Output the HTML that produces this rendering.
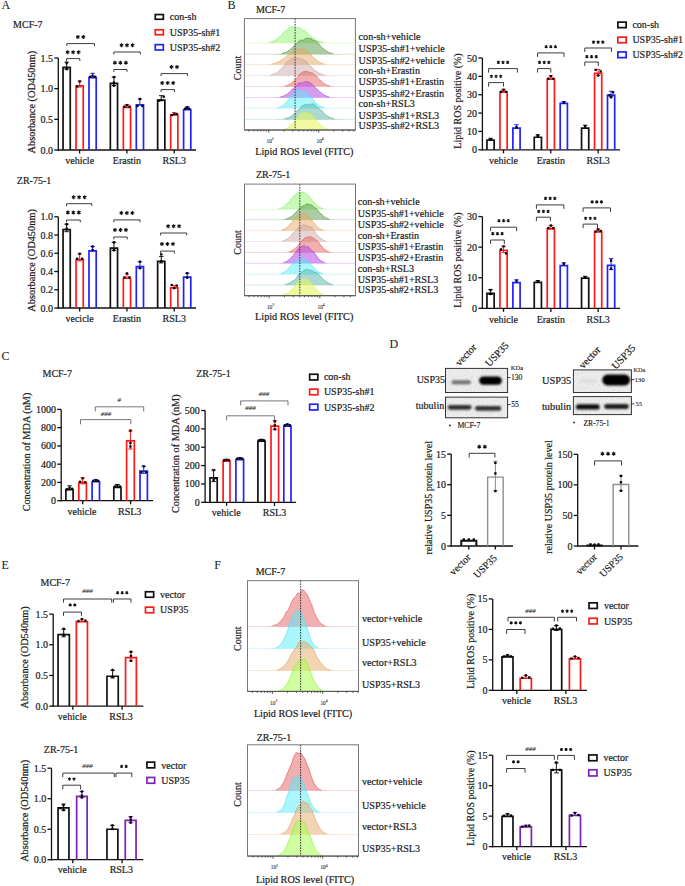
<!DOCTYPE html>
<html><head><meta charset="utf-8"><style>
html,body{margin:0;padding:0;background:#fff;}
svg{display:block;}
text{font-family:"Liberation Serif",serif;}
</style></head><body>
<svg width="685" height="886" viewBox="0 0 685 886" font-family="Liberation Serif">
<rect width="685" height="886" fill="#fff"/>
<text x="1.60" y="9.10" font-size="12" text-anchor="start" fill="#1a1a1a" stroke="#1a1a1a" stroke-width="0.050">A</text>
<text x="13.10" y="27.50" font-size="10" text-anchor="start" fill="#1a1a1a" stroke="#1a1a1a" stroke-width="0.200">MCF-7</text>
<rect x="155.25" y="14.55" width="8.10" height="4.70" fill="none" stroke="#111" stroke-width="1.7"/>
<text x="169.80" y="20.10" font-size="10" text-anchor="start" fill="#1a1a1a" stroke="#1a1a1a" stroke-width="0.200">con-sh</text>
<rect x="155.25" y="29.75" width="8.10" height="5.00" fill="none" stroke="#ff1a1a" stroke-width="1.7"/>
<text x="169.80" y="35.60" font-size="10" text-anchor="start" fill="#1a1a1a" stroke="#1a1a1a" stroke-width="0.200">USP35-sh#1</text>
<rect x="155.25" y="44.65" width="8.10" height="5.30" fill="none" stroke="#2222ff" stroke-width="1.7"/>
<text x="169.80" y="50.80" font-size="10" text-anchor="start" fill="#1a1a1a" stroke="#1a1a1a" stroke-width="0.200">USP35-sh#2</text>
<line x1="58.30" y1="58.00" x2="58.30" y2="150.65" stroke="#111" stroke-width="1.3"/>
<line x1="54.30" y1="58.00" x2="58.30" y2="58.00" stroke="#111" stroke-width="1.3"/>
<text x="53.00" y="61.50" font-size="10" text-anchor="end" fill="#1a1a1a" stroke="#1a1a1a" stroke-width="0.200">1.5</text>
<line x1="54.30" y1="88.67" x2="58.30" y2="88.67" stroke="#111" stroke-width="1.3"/>
<text x="53.00" y="92.17" font-size="10" text-anchor="end" fill="#1a1a1a" stroke="#1a1a1a" stroke-width="0.200">1.0</text>
<line x1="54.30" y1="119.34" x2="58.30" y2="119.34" stroke="#111" stroke-width="1.3"/>
<text x="53.00" y="122.84" font-size="10" text-anchor="end" fill="#1a1a1a" stroke="#1a1a1a" stroke-width="0.200">0.5</text>
<line x1="54.30" y1="150.00" x2="58.30" y2="150.00" stroke="#111" stroke-width="1.3"/>
<text x="53.00" y="153.50" font-size="10" text-anchor="end" fill="#1a1a1a" stroke="#1a1a1a" stroke-width="0.200">0.0</text>
<line x1="57.65" y1="150.00" x2="196.00" y2="150.00" stroke="#111" stroke-width="1.3"/>
<line x1="79.60" y1="150.00" x2="79.60" y2="153.60" stroke="#111" stroke-width="1.3"/>
<line x1="126.90" y1="150.00" x2="126.90" y2="153.60" stroke="#111" stroke-width="1.3"/>
<line x1="174.20" y1="150.00" x2="174.20" y2="153.60" stroke="#111" stroke-width="1.3"/>
<path d="M63.05,150.00 V67.45 H70.25 V150.00" stroke="#111" stroke-width="1.7" fill="none" stroke-linejoin="miter"/>
<line x1="66.65" y1="62.10" x2="66.65" y2="69.10" stroke="#111" stroke-width="1.0"/>
<line x1="64.45" y1="62.10" x2="68.85" y2="62.10" stroke="#111" stroke-width="1.0"/>
<line x1="64.45" y1="69.10" x2="68.85" y2="69.10" stroke="#111" stroke-width="1.0"/>
<rect x="65.50" y="61.95" width="2.30" height="2.30" fill="#000"/>
<rect x="65.50" y="67.95" width="2.30" height="2.30" fill="#000"/>
<path d="M76.05,150.00 V85.85 H83.25 V150.00" stroke="#ff1a1a" stroke-width="1.7" fill="none" stroke-linejoin="miter"/>
<line x1="79.65" y1="81.00" x2="79.65" y2="87.00" stroke="#ff1a1a" stroke-width="1.0"/>
<line x1="77.45" y1="81.00" x2="81.85" y2="81.00" stroke="#ff1a1a" stroke-width="1.0"/>
<line x1="77.45" y1="87.00" x2="81.85" y2="87.00" stroke="#ff1a1a" stroke-width="1.0"/>
<rect x="78.50" y="80.35" width="2.30" height="2.30" fill="#000"/>
<rect x="76.00" y="85.35" width="2.30" height="2.30" fill="#000"/>
<path d="M89.00,150.00 V77.65 H96.20 V150.00" stroke="#2222ff" stroke-width="1.7" fill="none" stroke-linejoin="miter"/>
<line x1="92.60" y1="73.30" x2="92.60" y2="78.30" stroke="#2222ff" stroke-width="1.0"/>
<line x1="90.40" y1="73.30" x2="94.80" y2="73.30" stroke="#2222ff" stroke-width="1.0"/>
<rect x="91.45" y="74.65" width="2.30" height="2.30" fill="#000"/>
<rect x="88.95" y="75.65" width="2.30" height="2.30" fill="#000"/>
<rect x="93.95" y="75.65" width="2.30" height="2.30" fill="#000"/>
<path d="M110.35,150.00 V83.45 H117.55 V150.00" stroke="#111" stroke-width="1.7" fill="none" stroke-linejoin="miter"/>
<line x1="113.95" y1="77.10" x2="113.95" y2="85.60" stroke="#111" stroke-width="1.0"/>
<line x1="111.75" y1="77.10" x2="116.15" y2="77.10" stroke="#111" stroke-width="1.0"/>
<line x1="111.75" y1="85.60" x2="116.15" y2="85.60" stroke="#111" stroke-width="1.0"/>
<rect x="112.80" y="75.95" width="2.30" height="2.30" fill="#000"/>
<rect x="112.80" y="84.45" width="2.30" height="2.30" fill="#000"/>
<rect x="112.80" y="81.45" width="2.30" height="2.30" fill="#000"/>
<path d="M123.35,150.00 V107.45 H130.55 V150.00" stroke="#ff1a1a" stroke-width="1.7" fill="none" stroke-linejoin="miter"/>
<line x1="126.95" y1="104.60" x2="126.95" y2="107.60" stroke="#ff1a1a" stroke-width="1.0"/>
<line x1="124.75" y1="104.60" x2="129.15" y2="104.60" stroke="#ff1a1a" stroke-width="1.0"/>
<rect x="123.30" y="105.45" width="2.30" height="2.30" fill="#000"/>
<rect x="128.30" y="105.45" width="2.30" height="2.30" fill="#000"/>
<rect x="125.80" y="103.95" width="2.30" height="2.30" fill="#000"/>
<path d="M136.30,150.00 V104.85 H143.50 V150.00" stroke="#2222ff" stroke-width="1.7" fill="none" stroke-linejoin="miter"/>
<line x1="139.90" y1="99.00" x2="139.90" y2="105.00" stroke="#2222ff" stroke-width="1.0"/>
<line x1="137.70" y1="99.00" x2="142.10" y2="99.00" stroke="#2222ff" stroke-width="1.0"/>
<rect x="138.75" y="97.85" width="2.30" height="2.30" fill="#000"/>
<rect x="136.25" y="104.85" width="2.30" height="2.30" fill="#000"/>
<rect x="141.25" y="104.85" width="2.30" height="2.30" fill="#000"/>
<path d="M157.65,150.00 V100.05 H164.85 V150.00" stroke="#111" stroke-width="1.7" fill="none" stroke-linejoin="miter"/>
<line x1="161.25" y1="95.70" x2="161.25" y2="100.70" stroke="#111" stroke-width="1.0"/>
<line x1="159.05" y1="95.70" x2="163.45" y2="95.70" stroke="#111" stroke-width="1.0"/>
<rect x="157.60" y="99.55" width="2.30" height="2.30" fill="#000"/>
<rect x="162.60" y="95.55" width="2.30" height="2.30" fill="#000"/>
<rect x="160.10" y="99.05" width="2.30" height="2.30" fill="#000"/>
<path d="M170.65,150.00 V114.95 H177.85 V150.00" stroke="#ff1a1a" stroke-width="1.7" fill="none" stroke-linejoin="miter"/>
<line x1="174.25" y1="112.60" x2="174.25" y2="115.10" stroke="#ff1a1a" stroke-width="1.0"/>
<line x1="172.05" y1="112.60" x2="176.45" y2="112.60" stroke="#ff1a1a" stroke-width="1.0"/>
<rect x="170.60" y="113.95" width="2.30" height="2.30" fill="#000"/>
<rect x="175.60" y="112.95" width="2.30" height="2.30" fill="#000"/>
<rect x="173.10" y="112.95" width="2.30" height="2.30" fill="#000"/>
<path d="M183.60,150.00 V109.55 H190.80 V150.00" stroke="#2222ff" stroke-width="1.7" fill="none" stroke-linejoin="miter"/>
<line x1="187.20" y1="106.70" x2="187.20" y2="109.70" stroke="#2222ff" stroke-width="1.0"/>
<line x1="185.00" y1="106.70" x2="189.40" y2="106.70" stroke="#2222ff" stroke-width="1.0"/>
<rect x="186.05" y="106.55" width="2.30" height="2.30" fill="#000"/>
<rect x="184.05" y="107.55" width="2.30" height="2.30" fill="#000"/>
<rect x="188.05" y="107.55" width="2.30" height="2.30" fill="#000"/>
<path d="M66.50,61.00 V58.60 H79.80 V61.00" stroke="#333" stroke-width="0.95" fill="none"/>
<path d="M67.65,50.30L67.65,54.30M65.92,51.30L69.38,53.30M69.38,51.30L65.92,53.30M73.15,50.30L73.15,54.30M71.42,51.30L74.88,53.30M74.88,51.30L71.42,53.30M78.65,50.30L78.65,54.30M76.92,51.30L80.38,53.30M80.38,51.30L76.92,53.30" stroke="#111" stroke-width="1.1" fill="none" stroke-linecap="butt"/>
<path d="M66.80,46.00 V43.60 H94.50 V46.00" stroke="#333" stroke-width="0.95" fill="none"/>
<path d="M77.90,35.10L77.90,39.10M76.17,36.10L79.63,38.10M79.63,36.10L76.17,38.10M83.40,35.10L83.40,39.10M81.67,36.10L85.13,38.10M85.13,36.10L81.67,38.10" stroke="#111" stroke-width="1.1" fill="none" stroke-linecap="butt"/>
<path d="M113.80,71.90 V69.50 H127.00 V71.90" stroke="#333" stroke-width="0.95" fill="none"/>
<path d="M114.90,60.80L114.90,64.80M113.17,61.80L116.63,63.80M116.63,61.80L113.17,63.80M120.40,60.80L120.40,64.80M118.67,61.80L122.13,63.80M122.13,61.80L118.67,63.80M125.90,60.80L125.90,64.80M124.17,61.80L127.63,63.80M127.63,61.80L124.17,63.80" stroke="#111" stroke-width="1.1" fill="none" stroke-linecap="butt"/>
<path d="M113.80,54.40 V52.00 H140.30 V54.40" stroke="#333" stroke-width="0.95" fill="none"/>
<path d="M121.55,43.30L121.55,47.30M119.82,44.30L123.28,46.30M123.28,44.30L119.82,46.30M127.05,43.30L127.05,47.30M125.32,44.30L128.78,46.30M128.78,44.30L125.32,46.30M132.55,43.30L132.55,47.30M130.82,44.30L134.28,46.30M134.28,44.30L130.82,46.30" stroke="#111" stroke-width="1.1" fill="none" stroke-linecap="butt"/>
<path d="M161.10,92.00 V89.60 H174.40 V92.00" stroke="#333" stroke-width="0.95" fill="none"/>
<path d="M162.25,81.00L162.25,85.00M160.52,82.00L163.98,84.00M163.98,82.00L160.52,84.00M167.75,81.00L167.75,85.00M166.02,82.00L169.48,84.00M169.48,82.00L166.02,84.00M173.25,81.00L173.25,85.00M171.52,82.00L174.98,84.00M174.98,82.00L171.52,84.00" stroke="#111" stroke-width="1.1" fill="none" stroke-linecap="butt"/>
<path d="M161.10,76.00 V73.60 H187.50 V76.00" stroke="#333" stroke-width="0.95" fill="none"/>
<path d="M171.55,65.00L171.55,69.00M169.82,66.00L173.28,68.00M173.28,66.00L169.82,68.00M177.05,65.00L177.05,69.00M175.32,66.00L178.78,68.00M178.78,66.00L175.32,68.00" stroke="#111" stroke-width="1.1" fill="none" stroke-linecap="butt"/>
<text x="79.65" y="163.70" font-size="10" text-anchor="middle" fill="#1a1a1a" stroke="#1a1a1a" stroke-width="0.200">vehicle</text>
<text x="126.95" y="163.70" font-size="10" text-anchor="middle" fill="#1a1a1a" stroke="#1a1a1a" stroke-width="0.200">Erastin</text>
<text x="174.25" y="163.70" font-size="10" text-anchor="middle" fill="#1a1a1a" stroke="#1a1a1a" stroke-width="0.200">RSL3</text>
<text x="34.90" y="102.10" font-size="10.35" text-anchor="middle" fill="#1a1a1a" stroke="#1a1a1a" stroke-width="0.207" transform="rotate(-90 34.90 102.10)">Absorbance (OD450nm)</text>
<text x="16.80" y="183.50" font-size="10" text-anchor="start" fill="#1a1a1a" stroke="#1a1a1a" stroke-width="0.200">ZR-75-1</text>
<line x1="58.30" y1="216.80" x2="58.30" y2="308.65" stroke="#111" stroke-width="1.3"/>
<line x1="54.30" y1="216.80" x2="58.30" y2="216.80" stroke="#111" stroke-width="1.3"/>
<text x="53.00" y="220.30" font-size="10" text-anchor="end" fill="#1a1a1a" stroke="#1a1a1a" stroke-width="0.200">1.0</text>
<line x1="54.30" y1="235.04" x2="58.30" y2="235.04" stroke="#111" stroke-width="1.3"/>
<text x="53.00" y="238.54" font-size="10" text-anchor="end" fill="#1a1a1a" stroke="#1a1a1a" stroke-width="0.200">0.8</text>
<line x1="54.30" y1="253.28" x2="58.30" y2="253.28" stroke="#111" stroke-width="1.3"/>
<text x="53.00" y="256.78" font-size="10" text-anchor="end" fill="#1a1a1a" stroke="#1a1a1a" stroke-width="0.200">0.6</text>
<line x1="54.30" y1="271.52" x2="58.30" y2="271.52" stroke="#111" stroke-width="1.3"/>
<text x="53.00" y="275.02" font-size="10" text-anchor="end" fill="#1a1a1a" stroke="#1a1a1a" stroke-width="0.200">0.4</text>
<line x1="54.30" y1="289.76" x2="58.30" y2="289.76" stroke="#111" stroke-width="1.3"/>
<text x="53.00" y="293.26" font-size="10" text-anchor="end" fill="#1a1a1a" stroke="#1a1a1a" stroke-width="0.200">0.2</text>
<line x1="54.30" y1="308.00" x2="58.30" y2="308.00" stroke="#111" stroke-width="1.3"/>
<text x="53.00" y="311.50" font-size="10" text-anchor="end" fill="#1a1a1a" stroke="#1a1a1a" stroke-width="0.200">0.0</text>
<line x1="57.65" y1="308.00" x2="196.00" y2="308.00" stroke="#111" stroke-width="1.3"/>
<line x1="79.65" y1="308.00" x2="79.65" y2="311.60" stroke="#111" stroke-width="1.3"/>
<line x1="126.95" y1="308.00" x2="126.95" y2="311.60" stroke="#111" stroke-width="1.3"/>
<line x1="174.25" y1="308.00" x2="174.25" y2="311.60" stroke="#111" stroke-width="1.3"/>
<path d="M63.05,308.00 V229.55 H70.25 V308.00" stroke="#111" stroke-width="1.7" fill="none" stroke-linejoin="miter"/>
<line x1="66.65" y1="224.20" x2="66.65" y2="231.70" stroke="#111" stroke-width="1.0"/>
<line x1="64.45" y1="224.20" x2="68.85" y2="224.20" stroke="#111" stroke-width="1.0"/>
<line x1="64.45" y1="231.70" x2="68.85" y2="231.70" stroke="#111" stroke-width="1.0"/>
<rect x="65.50" y="223.05" width="2.30" height="2.30" fill="#000"/>
<rect x="65.50" y="227.55" width="2.30" height="2.30" fill="#000"/>
<path d="M76.05,308.00 V259.65 H83.25 V308.00" stroke="#ff1a1a" stroke-width="1.7" fill="none" stroke-linejoin="miter"/>
<line x1="79.65" y1="253.80" x2="79.65" y2="260.80" stroke="#ff1a1a" stroke-width="1.0"/>
<line x1="77.45" y1="253.80" x2="81.85" y2="253.80" stroke="#ff1a1a" stroke-width="1.0"/>
<line x1="77.45" y1="260.80" x2="81.85" y2="260.80" stroke="#ff1a1a" stroke-width="1.0"/>
<rect x="78.50" y="252.65" width="2.30" height="2.30" fill="#000"/>
<rect x="76.00" y="257.65" width="2.30" height="2.30" fill="#000"/>
<rect x="81.00" y="257.65" width="2.30" height="2.30" fill="#000"/>
<path d="M89.00,308.00 V250.85 H96.20 V308.00" stroke="#2222ff" stroke-width="1.7" fill="none" stroke-linejoin="miter"/>
<line x1="92.60" y1="246.50" x2="92.60" y2="251.50" stroke="#2222ff" stroke-width="1.0"/>
<line x1="90.40" y1="246.50" x2="94.80" y2="246.50" stroke="#2222ff" stroke-width="1.0"/>
<rect x="91.45" y="245.35" width="2.30" height="2.30" fill="#000"/>
<rect x="91.45" y="248.85" width="2.30" height="2.30" fill="#000"/>
<path d="M110.35,308.00 V248.15 H117.55 V308.00" stroke="#111" stroke-width="1.7" fill="none" stroke-linejoin="miter"/>
<line x1="113.95" y1="242.30" x2="113.95" y2="250.30" stroke="#111" stroke-width="1.0"/>
<line x1="111.75" y1="242.30" x2="116.15" y2="242.30" stroke="#111" stroke-width="1.0"/>
<line x1="111.75" y1="250.30" x2="116.15" y2="250.30" stroke="#111" stroke-width="1.0"/>
<rect x="112.80" y="241.15" width="2.30" height="2.30" fill="#000"/>
<rect x="112.80" y="249.15" width="2.30" height="2.30" fill="#000"/>
<path d="M123.35,308.00 V278.25 H130.55 V308.00" stroke="#ff1a1a" stroke-width="1.7" fill="none" stroke-linejoin="miter"/>
<line x1="126.95" y1="273.90" x2="126.95" y2="278.90" stroke="#ff1a1a" stroke-width="1.0"/>
<line x1="124.75" y1="273.90" x2="129.15" y2="273.90" stroke="#ff1a1a" stroke-width="1.0"/>
<rect x="125.80" y="272.25" width="2.30" height="2.30" fill="#000"/>
<rect x="123.30" y="276.25" width="2.30" height="2.30" fill="#000"/>
<rect x="128.30" y="276.25" width="2.30" height="2.30" fill="#000"/>
<path d="M136.30,308.00 V266.55 H143.50 V308.00" stroke="#2222ff" stroke-width="1.7" fill="none" stroke-linejoin="miter"/>
<line x1="139.90" y1="261.70" x2="139.90" y2="268.20" stroke="#2222ff" stroke-width="1.0"/>
<line x1="137.70" y1="261.70" x2="142.10" y2="261.70" stroke="#2222ff" stroke-width="1.0"/>
<line x1="137.70" y1="268.20" x2="142.10" y2="268.20" stroke="#2222ff" stroke-width="1.0"/>
<rect x="138.75" y="260.55" width="2.30" height="2.30" fill="#000"/>
<rect x="138.75" y="267.05" width="2.30" height="2.30" fill="#000"/>
<path d="M157.65,308.00 V261.25 H164.85 V308.00" stroke="#111" stroke-width="1.7" fill="none" stroke-linejoin="miter"/>
<line x1="161.25" y1="256.40" x2="161.25" y2="262.90" stroke="#111" stroke-width="1.0"/>
<line x1="159.05" y1="256.40" x2="163.45" y2="256.40" stroke="#111" stroke-width="1.0"/>
<line x1="159.05" y1="262.90" x2="163.45" y2="262.90" stroke="#111" stroke-width="1.0"/>
<rect x="160.10" y="253.25" width="2.30" height="2.30" fill="#000"/>
<rect x="160.10" y="260.25" width="2.30" height="2.30" fill="#000"/>
<path d="M170.65,308.00 V287.95 H177.85 V308.00" stroke="#ff1a1a" stroke-width="1.7" fill="none" stroke-linejoin="miter"/>
<line x1="174.25" y1="285.60" x2="174.25" y2="288.10" stroke="#ff1a1a" stroke-width="1.0"/>
<line x1="172.05" y1="285.60" x2="176.45" y2="285.60" stroke="#ff1a1a" stroke-width="1.0"/>
<rect x="170.60" y="283.95" width="2.30" height="2.30" fill="#000"/>
<rect x="175.60" y="284.45" width="2.30" height="2.30" fill="#000"/>
<rect x="173.10" y="286.95" width="2.30" height="2.30" fill="#000"/>
<path d="M183.60,308.00 V277.05 H190.80 V308.00" stroke="#2222ff" stroke-width="1.7" fill="none" stroke-linejoin="miter"/>
<line x1="187.20" y1="273.20" x2="187.20" y2="277.70" stroke="#2222ff" stroke-width="1.0"/>
<line x1="185.00" y1="273.20" x2="189.40" y2="273.20" stroke="#2222ff" stroke-width="1.0"/>
<rect x="186.05" y="272.05" width="2.30" height="2.30" fill="#000"/>
<rect x="186.05" y="276.55" width="2.30" height="2.30" fill="#000"/>
<path d="M66.50,222.40 V220.00 H80.30 V222.40" stroke="#333" stroke-width="0.95" fill="none"/>
<path d="M67.90,210.40L67.90,214.40M66.17,211.40L69.63,213.40M69.63,211.40L66.17,213.40M73.40,210.40L73.40,214.40M71.67,211.40L75.13,213.40M75.13,211.40L71.67,213.40M78.90,210.40L78.90,214.40M77.17,211.40L80.63,213.40M80.63,211.40L77.17,213.40" stroke="#111" stroke-width="1.1" fill="none" stroke-linecap="butt"/>
<path d="M66.50,206.10 V203.70 H91.80 V206.10" stroke="#333" stroke-width="0.95" fill="none"/>
<path d="M73.65,195.20L73.65,199.20M71.92,196.20L75.38,198.20M75.38,196.20L71.92,198.20M79.15,195.20L79.15,199.20M77.42,196.20L80.88,198.20M80.88,196.20L77.42,198.20M84.65,195.20L84.65,199.20M82.92,196.20L86.38,198.20M86.38,196.20L82.92,198.20" stroke="#111" stroke-width="1.1" fill="none" stroke-linecap="butt"/>
<path d="M113.80,239.40 V237.00 H127.20 V239.40" stroke="#333" stroke-width="0.95" fill="none"/>
<path d="M115.00,228.10L115.00,232.10M113.27,229.10L116.73,231.10M116.73,229.10L113.27,231.10M120.50,228.10L120.50,232.10M118.77,229.10L122.23,231.10M122.23,229.10L118.77,231.10M126.00,228.10L126.00,232.10M124.27,229.10L127.73,231.10M127.73,229.10L124.27,231.10" stroke="#111" stroke-width="1.1" fill="none" stroke-linecap="butt"/>
<path d="M113.80,222.30 V219.90 H140.00 V222.30" stroke="#333" stroke-width="0.95" fill="none"/>
<path d="M121.40,211.10L121.40,215.10M119.67,212.10L123.13,214.10M123.13,212.10L119.67,214.10M126.90,211.10L126.90,215.10M125.17,212.10L128.63,214.10M128.63,212.10L125.17,214.10M132.40,211.10L132.40,215.10M130.67,212.10L134.13,214.10M134.13,212.10L130.67,214.10" stroke="#111" stroke-width="1.1" fill="none" stroke-linecap="butt"/>
<path d="M160.60,253.50 V251.10 H174.40 V253.50" stroke="#333" stroke-width="0.95" fill="none"/>
<path d="M162.00,242.10L162.00,246.10M160.27,243.10L163.73,245.10M163.73,243.10L160.27,245.10M167.50,242.10L167.50,246.10M165.77,243.10L169.23,245.10M169.23,243.10L165.77,245.10M173.00,242.10L173.00,246.10M171.27,243.10L174.73,245.10M174.73,243.10L171.27,245.10" stroke="#111" stroke-width="1.1" fill="none" stroke-linecap="butt"/>
<path d="M160.60,235.40 V233.00 H186.70 V235.40" stroke="#333" stroke-width="0.95" fill="none"/>
<path d="M168.15,224.30L168.15,228.30M166.42,225.30L169.88,227.30M169.88,225.30L166.42,227.30M173.65,224.30L173.65,228.30M171.92,225.30L175.38,227.30M175.38,225.30L171.92,227.30M179.15,224.30L179.15,228.30M177.42,225.30L180.88,227.30M180.88,225.30L177.42,227.30" stroke="#111" stroke-width="1.1" fill="none" stroke-linecap="butt"/>
<text x="79.65" y="322.00" font-size="10" text-anchor="middle" fill="#1a1a1a" stroke="#1a1a1a" stroke-width="0.200">vecicle</text>
<text x="126.95" y="322.00" font-size="10" text-anchor="middle" fill="#1a1a1a" stroke="#1a1a1a" stroke-width="0.200">Erastin</text>
<text x="174.25" y="322.00" font-size="10" text-anchor="middle" fill="#1a1a1a" stroke="#1a1a1a" stroke-width="0.200">RSL3</text>
<text x="34.90" y="260.40" font-size="10.35" text-anchor="middle" fill="#1a1a1a" stroke="#1a1a1a" stroke-width="0.207" transform="rotate(-90 34.90 260.40)">Absorbance (OD450nm)</text>
<text x="227.40" y="9.20" font-size="12" text-anchor="start" fill="#1a1a1a" stroke="#1a1a1a" stroke-width="0.050">B</text>
<text x="255.90" y="13.00" font-size="10" text-anchor="start" fill="#1a1a1a" stroke="#1a1a1a" stroke-width="0.200">MCF-7</text>
<path d="M245.00,43.10 L245.50,43.10 L246.00,43.10 L246.50,43.10 L247.00,43.10 L247.50,43.10 L248.00,43.10 L248.50,43.10 L249.00,43.10 L249.50,43.10 L250.00,43.10 L250.50,43.10 L251.00,43.10 L251.50,43.10 L252.00,43.10 L252.50,43.10 L253.00,43.10 L253.50,43.10 L254.00,43.10 L254.50,43.10 L255.00,43.10 L255.50,43.10 L256.00,43.10 L256.50,43.10 L257.00,43.10 L257.50,43.10 L258.00,43.10 L258.50,43.10 L259.00,43.09 L259.50,43.09 L260.00,43.09 L260.50,43.09 L261.00,43.08 L261.50,43.08 L262.00,43.07 L262.50,43.06 L263.00,43.05 L263.50,43.04 L264.00,43.03 L264.50,43.01 L265.00,42.99 L265.50,42.97 L266.00,42.94 L266.50,42.90 L267.00,42.86 L267.50,42.81 L268.00,42.76 L268.50,42.69 L269.00,42.62 L269.50,42.53 L270.00,42.43 L270.50,42.32 L271.00,42.16 L271.50,42.01 L272.00,41.82 L272.50,41.65 L273.00,41.43 L273.50,41.20 L274.00,40.96 L274.50,40.67 L275.00,40.34 L275.50,40.06 L276.00,39.76 L276.50,39.49 L277.00,39.13 L277.50,38.66 L278.00,38.30 L278.50,37.82 L279.00,37.20 L279.50,36.87 L280.00,36.63 L280.50,35.99 L281.00,35.67 L281.50,35.32 L282.00,34.61 L282.50,33.83 L283.00,33.23 L283.50,32.52 L284.00,31.98 L284.50,31.79 L285.00,31.61 L285.50,31.48 L286.00,31.08 L286.50,30.42 L287.00,29.90 L287.50,29.35 L288.00,28.48 L288.50,28.24 L289.00,27.95 L289.50,27.39 L290.00,26.96 L290.50,27.10 L291.00,26.82 L291.50,26.69 L292.00,26.94 L292.50,26.76 L293.00,26.40 L293.50,26.76 L294.00,27.14 L294.50,27.08 L295.00,27.63 L295.50,28.23 L296.00,27.80 L296.50,27.91 L297.00,28.12 L297.50,27.55 L298.00,27.46 L298.50,27.68 L299.00,27.57 L299.50,27.55 L300.00,28.12 L300.50,28.50 L301.00,28.72 L301.50,29.14 L302.00,29.56 L302.50,30.03 L303.00,30.21 L303.50,30.33 L304.00,30.49 L304.50,30.38 L305.00,30.69 L305.50,31.21 L306.00,31.76 L306.50,32.42 L307.00,32.86 L307.50,33.31 L308.00,33.76 L308.50,34.40 L309.00,34.80 L309.50,35.26 L310.00,35.49 L310.50,35.83 L311.00,36.29 L311.50,36.80 L312.00,37.46 L312.50,38.02 L313.00,38.36 L313.50,38.62 L314.00,38.79 L314.50,38.99 L315.00,39.31 L315.50,39.63 L316.00,39.95 L316.50,40.25 L317.00,40.59 L317.50,40.76 L318.00,41.05 L318.50,41.24 L319.00,41.47 L319.50,41.59 L320.00,41.81 L320.50,41.91 L321.00,42.07 L321.50,42.18 L322.00,42.29 L322.50,42.39 L323.00,42.48 L323.50,42.56 L324.00,42.63 L324.50,42.69 L325.00,42.75 L325.50,42.80 L326.00,42.84 L326.50,42.88 L327.00,42.91 L327.50,42.94 L328.00,42.97 L328.50,42.99 L329.00,43.01 L329.50,43.02 L330.00,43.03 L330.50,43.05 L331.00,43.05 L331.50,43.06 L332.00,43.07 L332.50,43.07 L333.00,43.08 L333.50,43.08 L334.00,43.09 L334.50,43.09 L335.00,43.09 L335.50,43.09 L336.00,43.09 L336.50,43.10 L337.00,43.10 L337.50,43.10 L338.00,43.10 L338.50,43.10 L339.00,43.10 L339.50,43.10 L340.00,43.10 L340.50,43.10 L341.00,43.10 L341.50,43.10 L342.00,43.10 L342.50,43.10 L343.00,43.10 L343.50,43.10 L344.00,43.10 L344.50,43.10 L345.00,43.10 L345.50,43.10 L346.00,43.10 L346.50,43.10 L347.00,43.10 L347.50,43.10 L348.00,43.10 L348.50,43.10 L349.00,43.10 L349.50,43.10 L350.00,43.10 L350.50,43.10 L351.00,43.10 L351.50,43.10 L352.00,43.10 L352.50,43.10 L353.00,43.10 L353.50,43.10 L354.00,43.10 L354.50,43.10 L354.80,43.10 L245.00,43.10 Z" fill="#90f570" fill-opacity="0.5" stroke="none"/>
<path d="M270.00,42.43 L270.50,42.32 L271.00,42.16 L271.50,42.01 L272.00,41.82 L272.50,41.65 L273.00,41.43 L273.50,41.20 L274.00,40.96 L274.50,40.67 L275.00,40.34 L275.50,40.06 L276.00,39.76 L276.50,39.49 L277.00,39.13 L277.50,38.66 L278.00,38.30 L278.50,37.82 L279.00,37.20 L279.50,36.87 L280.00,36.63 L280.50,35.99 L281.00,35.67 L281.50,35.32 L282.00,34.61 L282.50,33.83 L283.00,33.23 L283.50,32.52 L284.00,31.98 L284.50,31.79 L285.00,31.61 L285.50,31.48 L286.00,31.08 L286.50,30.42 L287.00,29.90 L287.50,29.35 L288.00,28.48 L288.50,28.24 L289.00,27.95 L289.50,27.39 L290.00,26.96 L290.50,27.10 L291.00,26.82 L291.50,26.69 L292.00,26.94 L292.50,26.76 L293.00,26.40 L293.50,26.76 L294.00,27.14 L294.50,27.08 L295.00,27.63 L295.50,28.23 L296.00,27.80 L296.50,27.91 L297.00,28.12 L297.50,27.55 L298.00,27.46 L298.50,27.68 L299.00,27.57 L299.50,27.55 L300.00,28.12 L300.50,28.50 L301.00,28.72 L301.50,29.14 L302.00,29.56 L302.50,30.03 L303.00,30.21 L303.50,30.33 L304.00,30.49 L304.50,30.38 L305.00,30.69 L305.50,31.21 L306.00,31.76 L306.50,32.42 L307.00,32.86 L307.50,33.31 L308.00,33.76 L308.50,34.40 L309.00,34.80 L309.50,35.26 L310.00,35.49 L310.50,35.83 L311.00,36.29 L311.50,36.80 L312.00,37.46 L312.50,38.02 L313.00,38.36 L313.50,38.62 L314.00,38.79 L314.50,38.99 L315.00,39.31 L315.50,39.63 L316.00,39.95 L316.50,40.25 L317.00,40.59 L317.50,40.76 L318.00,41.05 L318.50,41.24 L319.00,41.47 L319.50,41.59 L320.00,41.81 L320.50,41.91 L321.00,42.07 L321.50,42.18 L322.00,42.29 L322.50,42.39 L323.00,42.48" fill="none" stroke="#86f060" stroke-width="0.8" stroke-opacity="0.85"/>
<line x1="245.00" y1="43.10" x2="354.80" y2="43.10" stroke="#86f060" stroke-width="0.6" stroke-opacity="0.4"/>
<path d="M245.00,54.20 L245.50,54.20 L246.00,54.20 L246.50,54.20 L247.00,54.20 L247.50,54.20 L248.00,54.20 L248.50,54.20 L249.00,54.20 L249.50,54.20 L250.00,54.20 L250.50,54.20 L251.00,54.20 L251.50,54.20 L252.00,54.20 L252.50,54.20 L253.00,54.20 L253.50,54.20 L254.00,54.20 L254.50,54.20 L255.00,54.20 L255.50,54.20 L256.00,54.20 L256.50,54.20 L257.00,54.20 L257.50,54.20 L258.00,54.20 L258.50,54.20 L259.00,54.20 L259.50,54.20 L260.00,54.20 L260.50,54.20 L261.00,54.20 L261.50,54.20 L262.00,54.20 L262.50,54.20 L263.00,54.20 L263.50,54.20 L264.00,54.20 L264.50,54.20 L265.00,54.20 L265.50,54.20 L266.00,54.20 L266.50,54.20 L267.00,54.20 L267.50,54.20 L268.00,54.20 L268.50,54.20 L269.00,54.20 L269.50,54.19 L270.00,54.19 L270.50,54.19 L271.00,54.19 L271.50,54.19 L272.00,54.18 L272.50,54.18 L273.00,54.17 L273.50,54.17 L274.00,54.16 L274.50,54.15 L275.00,54.14 L275.50,54.12 L276.00,54.10 L276.50,54.08 L277.00,54.06 L277.50,54.03 L278.00,54.00 L278.50,53.96 L279.00,53.91 L279.50,53.86 L280.00,53.80 L280.50,53.74 L281.00,53.66 L281.50,53.57 L282.00,53.47 L282.50,53.33 L283.00,53.20 L283.50,53.10 L284.00,52.92 L284.50,52.77 L285.00,52.62 L285.50,52.45 L286.00,52.21 L286.50,51.94 L287.00,51.76 L287.50,51.41 L288.00,51.08 L288.50,50.78 L289.00,50.57 L289.50,50.05 L290.00,49.68 L290.50,49.27 L291.00,48.88 L291.50,48.30 L292.00,47.88 L292.50,47.70 L293.00,47.14 L293.50,46.40 L294.00,45.98 L294.50,45.62 L295.00,44.79 L295.50,44.47 L296.00,44.26 L296.50,43.69 L297.00,43.23 L297.50,42.92 L298.00,42.43 L298.50,41.62 L299.00,41.43 L299.50,40.96 L300.00,40.35 L300.50,39.96 L301.00,40.23 L301.50,39.98 L302.00,40.15 L302.50,40.46 L303.00,40.46 L303.50,40.09 L304.00,39.83 L304.50,39.42 L305.00,38.94 L305.50,38.44 L306.00,38.12 L306.50,38.08 L307.00,37.90 L307.50,37.98 L308.00,38.40 L308.50,38.53 L309.00,38.59 L309.50,38.64 L310.00,38.58 L310.50,38.60 L311.00,38.81 L311.50,38.87 L312.00,39.34 L312.50,40.05 L313.00,40.43 L313.50,40.31 L314.00,40.41 L314.50,40.65 L315.00,40.61 L315.50,40.87 L316.00,41.47 L316.50,41.78 L317.00,42.06 L317.50,42.66 L318.00,42.79 L318.50,43.21 L319.00,44.16 L319.50,44.84 L320.00,45.36 L320.50,46.16 L321.00,46.76 L321.50,47.21 L322.00,47.58 L322.50,47.92 L323.00,48.45 L323.50,48.88 L324.00,49.28 L324.50,49.72 L325.00,50.14 L325.50,50.35 L326.00,50.69 L326.50,51.03 L327.00,51.34 L327.50,51.70 L328.00,52.00 L328.50,52.28 L329.00,52.51 L329.50,52.75 L330.00,52.92 L330.50,53.08 L331.00,53.24 L331.50,53.37 L332.00,53.45 L332.50,53.56 L333.00,53.65 L333.50,53.73 L334.00,53.80 L334.50,53.87 L335.00,53.92 L335.50,53.97 L336.00,54.00 L336.50,54.04 L337.00,54.07 L337.50,54.09 L338.00,54.11 L338.50,54.13 L339.00,54.14 L339.50,54.15 L340.00,54.16 L340.50,54.17 L341.00,54.18 L341.50,54.18 L342.00,54.19 L342.50,54.19 L343.00,54.19 L343.50,54.19 L344.00,54.19 L344.50,54.20 L345.00,54.20 L345.50,54.20 L346.00,54.20 L346.50,54.20 L347.00,54.20 L347.50,54.20 L348.00,54.20 L348.50,54.20 L349.00,54.20 L349.50,54.20 L350.00,54.20 L350.50,54.20 L351.00,54.20 L351.50,54.20 L352.00,54.20 L352.50,54.20 L353.00,54.20 L353.50,54.20 L354.00,54.20 L354.50,54.20 L354.80,54.20 L245.00,54.20 Z" fill="#5a9a48" fill-opacity="0.5" stroke="none"/>
<path d="M281.50,53.57 L282.00,53.47 L282.50,53.33 L283.00,53.20 L283.50,53.10 L284.00,52.92 L284.50,52.77 L285.00,52.62 L285.50,52.45 L286.00,52.21 L286.50,51.94 L287.00,51.76 L287.50,51.41 L288.00,51.08 L288.50,50.78 L289.00,50.57 L289.50,50.05 L290.00,49.68 L290.50,49.27 L291.00,48.88 L291.50,48.30 L292.00,47.88 L292.50,47.70 L293.00,47.14 L293.50,46.40 L294.00,45.98 L294.50,45.62 L295.00,44.79 L295.50,44.47 L296.00,44.26 L296.50,43.69 L297.00,43.23 L297.50,42.92 L298.00,42.43 L298.50,41.62 L299.00,41.43 L299.50,40.96 L300.00,40.35 L300.50,39.96 L301.00,40.23 L301.50,39.98 L302.00,40.15 L302.50,40.46 L303.00,40.46 L303.50,40.09 L304.00,39.83 L304.50,39.42 L305.00,38.94 L305.50,38.44 L306.00,38.12 L306.50,38.08 L307.00,37.90 L307.50,37.98 L308.00,38.40 L308.50,38.53 L309.00,38.59 L309.50,38.64 L310.00,38.58 L310.50,38.60 L311.00,38.81 L311.50,38.87 L312.00,39.34 L312.50,40.05 L313.00,40.43 L313.50,40.31 L314.00,40.41 L314.50,40.65 L315.00,40.61 L315.50,40.87 L316.00,41.47 L316.50,41.78 L317.00,42.06 L317.50,42.66 L318.00,42.79 L318.50,43.21 L319.00,44.16 L319.50,44.84 L320.00,45.36 L320.50,46.16 L321.00,46.76 L321.50,47.21 L322.00,47.58 L322.50,47.92 L323.00,48.45 L323.50,48.88 L324.00,49.28 L324.50,49.72 L325.00,50.14 L325.50,50.35 L326.00,50.69 L326.50,51.03 L327.00,51.34 L327.50,51.70 L328.00,52.00 L328.50,52.28 L329.00,52.51 L329.50,52.75 L330.00,52.92 L330.50,53.08 L331.00,53.24 L331.50,53.37 L332.00,53.45 L332.50,53.56" fill="none" stroke="#4d8f3d" stroke-width="0.8" stroke-opacity="0.85"/>
<line x1="245.00" y1="54.20" x2="354.80" y2="54.20" stroke="#4d8f3d" stroke-width="0.6" stroke-opacity="0.4"/>
<path d="M245.00,64.70 L245.50,64.70 L246.00,64.70 L246.50,64.70 L247.00,64.70 L247.50,64.70 L248.00,64.70 L248.50,64.70 L249.00,64.70 L249.50,64.70 L250.00,64.70 L250.50,64.70 L251.00,64.70 L251.50,64.70 L252.00,64.70 L252.50,64.70 L253.00,64.70 L253.50,64.70 L254.00,64.70 L254.50,64.70 L255.00,64.70 L255.50,64.70 L256.00,64.70 L256.50,64.70 L257.00,64.70 L257.50,64.70 L258.00,64.70 L258.50,64.69 L259.00,64.69 L259.50,64.69 L260.00,64.69 L260.50,64.69 L261.00,64.68 L261.50,64.68 L262.00,64.68 L262.50,64.67 L263.00,64.66 L263.50,64.66 L264.00,64.65 L264.50,64.64 L265.00,64.63 L265.50,64.61 L266.00,64.59 L266.50,64.57 L267.00,64.55 L267.50,64.52 L268.00,64.49 L268.50,64.46 L269.00,64.42 L269.50,64.37 L270.00,64.32 L270.50,64.26 L271.00,64.19 L271.50,64.12 L272.00,64.03 L272.50,63.94 L273.00,63.79 L273.50,63.67 L274.00,63.57 L274.50,63.40 L275.00,63.22 L275.50,63.10 L276.00,62.96 L276.50,62.72 L277.00,62.51 L277.50,62.35 L278.00,62.10 L278.50,61.76 L279.00,61.47 L279.50,61.28 L280.00,60.97 L280.50,60.57 L281.00,60.33 L281.50,60.10 L282.00,59.76 L282.50,59.39 L283.00,59.14 L283.50,58.81 L284.00,58.43 L284.50,58.04 L285.00,57.78 L285.50,57.42 L286.00,56.89 L286.50,56.52 L287.00,55.87 L287.50,55.33 L288.00,54.88 L288.50,54.59 L289.00,54.21 L289.50,53.82 L290.00,53.57 L290.50,53.09 L291.00,52.39 L291.50,51.73 L292.00,51.58 L292.50,50.86 L293.00,50.46 L293.50,50.57 L294.00,50.82 L294.50,50.81 L295.00,50.65 L295.50,50.66 L296.00,50.08 L296.50,49.33 L297.00,48.68 L297.50,48.82 L298.00,49.02 L298.50,49.38 L299.00,49.89 L299.50,50.07 L300.00,49.89 L300.50,49.22 L301.00,48.92 L301.50,48.40 L302.00,48.46 L302.50,48.70 L303.00,48.86 L303.50,49.30 L304.00,49.59 L304.50,49.72 L305.00,49.67 L305.50,50.45 L306.00,50.78 L306.50,50.98 L307.00,51.68 L307.50,52.29 L308.00,52.34 L308.50,52.58 L309.00,53.05 L309.50,53.06 L310.00,53.60 L310.50,54.33 L311.00,54.62 L311.50,55.32 L312.00,56.13 L312.50,56.70 L313.00,57.23 L313.50,57.82 L314.00,58.34 L314.50,58.70 L315.00,58.92 L315.50,59.25 L316.00,59.60 L316.50,60.08 L317.00,60.45 L317.50,60.87 L318.00,61.16 L318.50,61.64 L319.00,61.90 L319.50,62.22 L320.00,62.51 L320.50,62.80 L321.00,63.01 L321.50,63.18 L322.00,63.35 L322.50,63.52 L323.00,63.66 L323.50,63.79 L324.00,63.97 L324.50,64.07 L325.00,64.17 L325.50,64.25 L326.00,64.32 L326.50,64.38 L327.00,64.43 L327.50,64.48 L328.00,64.52 L328.50,64.55 L329.00,64.58 L329.50,64.60 L330.00,64.62 L330.50,64.63 L331.00,64.65 L331.50,64.66 L332.00,64.67 L332.50,64.67 L333.00,64.68 L333.50,64.68 L334.00,64.69 L334.50,64.69 L335.00,64.69 L335.50,64.69 L336.00,64.70 L336.50,64.70 L337.00,64.70 L337.50,64.70 L338.00,64.70 L338.50,64.70 L339.00,64.70 L339.50,64.70 L340.00,64.70 L340.50,64.70 L341.00,64.70 L341.50,64.70 L342.00,64.70 L342.50,64.70 L343.00,64.70 L343.50,64.70 L344.00,64.70 L344.50,64.70 L345.00,64.70 L345.50,64.70 L346.00,64.70 L346.50,64.70 L347.00,64.70 L347.50,64.70 L348.00,64.70 L348.50,64.70 L349.00,64.70 L349.50,64.70 L350.00,64.70 L350.50,64.70 L351.00,64.70 L351.50,64.70 L352.00,64.70 L352.50,64.70 L353.00,64.70 L353.50,64.70 L354.00,64.70 L354.50,64.70 L354.80,64.70 L245.00,64.70 Z" fill="#e8aa66" fill-opacity="0.5" stroke="none"/>
<path d="M272.00,64.03 L272.50,63.94 L273.00,63.79 L273.50,63.67 L274.00,63.57 L274.50,63.40 L275.00,63.22 L275.50,63.10 L276.00,62.96 L276.50,62.72 L277.00,62.51 L277.50,62.35 L278.00,62.10 L278.50,61.76 L279.00,61.47 L279.50,61.28 L280.00,60.97 L280.50,60.57 L281.00,60.33 L281.50,60.10 L282.00,59.76 L282.50,59.39 L283.00,59.14 L283.50,58.81 L284.00,58.43 L284.50,58.04 L285.00,57.78 L285.50,57.42 L286.00,56.89 L286.50,56.52 L287.00,55.87 L287.50,55.33 L288.00,54.88 L288.50,54.59 L289.00,54.21 L289.50,53.82 L290.00,53.57 L290.50,53.09 L291.00,52.39 L291.50,51.73 L292.00,51.58 L292.50,50.86 L293.00,50.46 L293.50,50.57 L294.00,50.82 L294.50,50.81 L295.00,50.65 L295.50,50.66 L296.00,50.08 L296.50,49.33 L297.00,48.68 L297.50,48.82 L298.00,49.02 L298.50,49.38 L299.00,49.89 L299.50,50.07 L300.00,49.89 L300.50,49.22 L301.00,48.92 L301.50,48.40 L302.00,48.46 L302.50,48.70 L303.00,48.86 L303.50,49.30 L304.00,49.59 L304.50,49.72 L305.00,49.67 L305.50,50.45 L306.00,50.78 L306.50,50.98 L307.00,51.68 L307.50,52.29 L308.00,52.34 L308.50,52.58 L309.00,53.05 L309.50,53.06 L310.00,53.60 L310.50,54.33 L311.00,54.62 L311.50,55.32 L312.00,56.13 L312.50,56.70 L313.00,57.23 L313.50,57.82 L314.00,58.34 L314.50,58.70 L315.00,58.92 L315.50,59.25 L316.00,59.60 L316.50,60.08 L317.00,60.45 L317.50,60.87 L318.00,61.16 L318.50,61.64 L319.00,61.90 L319.50,62.22 L320.00,62.51 L320.50,62.80 L321.00,63.01 L321.50,63.18 L322.00,63.35 L322.50,63.52 L323.00,63.66 L323.50,63.79 L324.00,63.97 L324.50,64.07" fill="none" stroke="#e6a05a" stroke-width="0.8" stroke-opacity="0.85"/>
<line x1="245.00" y1="64.70" x2="354.80" y2="64.70" stroke="#e6a05a" stroke-width="0.6" stroke-opacity="0.4"/>
<path d="M245.00,75.70 L245.50,75.70 L246.00,75.70 L246.50,75.70 L247.00,75.70 L247.50,75.70 L248.00,75.70 L248.50,75.70 L249.00,75.70 L249.50,75.70 L250.00,75.70 L250.50,75.70 L251.00,75.70 L251.50,75.70 L252.00,75.70 L252.50,75.70 L253.00,75.70 L253.50,75.70 L254.00,75.70 L254.50,75.70 L255.00,75.70 L255.50,75.70 L256.00,75.70 L256.50,75.70 L257.00,75.70 L257.50,75.70 L258.00,75.70 L258.50,75.70 L259.00,75.70 L259.50,75.70 L260.00,75.69 L260.50,75.69 L261.00,75.69 L261.50,75.69 L262.00,75.68 L262.50,75.68 L263.00,75.67 L263.50,75.67 L264.00,75.66 L264.50,75.65 L265.00,75.63 L265.50,75.62 L266.00,75.60 L266.50,75.58 L267.00,75.55 L267.50,75.52 L268.00,75.48 L268.50,75.44 L269.00,75.39 L269.50,75.33 L270.00,75.26 L270.50,75.18 L271.00,75.08 L271.50,74.98 L272.00,74.86 L272.50,74.69 L273.00,74.55 L273.50,74.38 L274.00,74.21 L274.50,74.00 L275.00,73.75 L275.50,73.47 L276.00,73.26 L276.50,72.95 L277.00,72.74 L277.50,72.37 L278.00,71.99 L278.50,71.50 L279.00,71.06 L279.50,70.47 L280.00,70.10 L280.50,69.75 L281.00,69.23 L281.50,68.69 L282.00,68.24 L282.50,67.60 L283.00,67.07 L283.50,66.52 L284.00,65.94 L284.50,65.40 L285.00,64.73 L285.50,63.88 L286.00,63.32 L286.50,62.58 L287.00,62.05 L287.50,61.37 L288.00,61.31 L288.50,60.96 L289.00,60.64 L289.50,60.44 L290.00,60.30 L290.50,59.43 L291.00,58.66 L291.50,58.48 L292.00,57.97 L292.50,57.99 L293.00,58.01 L293.50,58.59 L294.00,59.04 L294.50,58.50 L295.00,58.20 L295.50,58.56 L296.00,58.24 L296.50,58.02 L297.00,58.04 L297.50,58.35 L298.00,57.91 L298.50,57.70 L299.00,57.76 L299.50,58.38 L300.00,58.31 L300.50,58.73 L301.00,59.03 L301.50,59.22 L302.00,59.02 L302.50,59.36 L303.00,59.85 L303.50,60.02 L304.00,59.93 L304.50,60.38 L305.00,60.68 L305.50,60.59 L306.00,60.93 L306.50,61.97 L307.00,62.55 L307.50,63.35 L308.00,64.13 L308.50,64.99 L309.00,65.21 L309.50,65.59 L310.00,65.67 L310.50,66.21 L311.00,66.81 L311.50,67.09 L312.00,67.55 L312.50,68.15 L313.00,68.68 L313.50,69.13 L314.00,69.60 L314.50,70.10 L315.00,70.43 L315.50,70.68 L316.00,70.93 L316.50,71.34 L317.00,71.76 L317.50,72.21 L318.00,72.57 L318.50,72.86 L319.00,73.14 L319.50,73.33 L320.00,73.54 L320.50,73.76 L321.00,74.02 L321.50,74.21 L322.00,74.39 L322.50,74.54 L323.00,74.67 L323.50,74.76 L324.00,74.92 L324.50,75.02 L325.00,75.11 L325.50,75.19 L326.00,75.26 L326.50,75.32 L327.00,75.37 L327.50,75.42 L328.00,75.46 L328.50,75.50 L329.00,75.53 L329.50,75.56 L330.00,75.58 L330.50,75.60 L331.00,75.62 L331.50,75.63 L332.00,75.64 L332.50,75.65 L333.00,75.66 L333.50,75.67 L334.00,75.67 L334.50,75.68 L335.00,75.68 L335.50,75.69 L336.00,75.69 L336.50,75.69 L337.00,75.69 L337.50,75.69 L338.00,75.70 L338.50,75.70 L339.00,75.70 L339.50,75.70 L340.00,75.70 L340.50,75.70 L341.00,75.70 L341.50,75.70 L342.00,75.70 L342.50,75.70 L343.00,75.70 L343.50,75.70 L344.00,75.70 L344.50,75.70 L345.00,75.70 L345.50,75.70 L346.00,75.70 L346.50,75.70 L347.00,75.70 L347.50,75.70 L348.00,75.70 L348.50,75.70 L349.00,75.70 L349.50,75.70 L350.00,75.70 L350.50,75.70 L351.00,75.70 L351.50,75.70 L352.00,75.70 L352.50,75.70 L353.00,75.70 L353.50,75.70 L354.00,75.70 L354.50,75.70 L354.80,75.70 L245.00,75.70 Z" fill="#c9a0a0" fill-opacity="0.45" stroke="none"/>
<path d="M271.00,75.08 L271.50,74.98 L272.00,74.86 L272.50,74.69 L273.00,74.55 L273.50,74.38 L274.00,74.21 L274.50,74.00 L275.00,73.75 L275.50,73.47 L276.00,73.26 L276.50,72.95 L277.00,72.74 L277.50,72.37 L278.00,71.99 L278.50,71.50 L279.00,71.06 L279.50,70.47 L280.00,70.10 L280.50,69.75 L281.00,69.23 L281.50,68.69 L282.00,68.24 L282.50,67.60 L283.00,67.07 L283.50,66.52 L284.00,65.94 L284.50,65.40 L285.00,64.73 L285.50,63.88 L286.00,63.32 L286.50,62.58 L287.00,62.05 L287.50,61.37 L288.00,61.31 L288.50,60.96 L289.00,60.64 L289.50,60.44 L290.00,60.30 L290.50,59.43 L291.00,58.66 L291.50,58.48 L292.00,57.97 L292.50,57.99 L293.00,58.01 L293.50,58.59 L294.00,59.04 L294.50,58.50 L295.00,58.20 L295.50,58.56 L296.00,58.24 L296.50,58.02 L297.00,58.04 L297.50,58.35 L298.00,57.91 L298.50,57.70 L299.00,57.76 L299.50,58.38 L300.00,58.31 L300.50,58.73 L301.00,59.03 L301.50,59.22 L302.00,59.02 L302.50,59.36 L303.00,59.85 L303.50,60.02 L304.00,59.93 L304.50,60.38 L305.00,60.68 L305.50,60.59 L306.00,60.93 L306.50,61.97 L307.00,62.55 L307.50,63.35 L308.00,64.13 L308.50,64.99 L309.00,65.21 L309.50,65.59 L310.00,65.67 L310.50,66.21 L311.00,66.81 L311.50,67.09 L312.00,67.55 L312.50,68.15 L313.00,68.68 L313.50,69.13 L314.00,69.60 L314.50,70.10 L315.00,70.43 L315.50,70.68 L316.00,70.93 L316.50,71.34 L317.00,71.76 L317.50,72.21 L318.00,72.57 L318.50,72.86 L319.00,73.14 L319.50,73.33 L320.00,73.54 L320.50,73.76 L321.00,74.02 L321.50,74.21 L322.00,74.39 L322.50,74.54 L323.00,74.67 L323.50,74.76 L324.00,74.92 L324.50,75.02" fill="none" stroke="#c99a9a" stroke-width="0.8" stroke-opacity="0.85"/>
<line x1="245.00" y1="75.70" x2="354.80" y2="75.70" stroke="#c99a9a" stroke-width="0.6" stroke-opacity="0.4"/>
<path d="M245.00,86.50 L245.50,86.50 L246.00,86.50 L246.50,86.50 L247.00,86.50 L247.50,86.50 L248.00,86.50 L248.50,86.50 L249.00,86.50 L249.50,86.50 L250.00,86.50 L250.50,86.50 L251.00,86.50 L251.50,86.50 L252.00,86.50 L252.50,86.50 L253.00,86.50 L253.50,86.50 L254.00,86.50 L254.50,86.50 L255.00,86.50 L255.50,86.50 L256.00,86.50 L256.50,86.50 L257.00,86.50 L257.50,86.50 L258.00,86.50 L258.50,86.50 L259.00,86.50 L259.50,86.50 L260.00,86.50 L260.50,86.50 L261.00,86.50 L261.50,86.50 L262.00,86.50 L262.50,86.50 L263.00,86.50 L263.50,86.50 L264.00,86.50 L264.50,86.50 L265.00,86.50 L265.50,86.50 L266.00,86.50 L266.50,86.50 L267.00,86.50 L267.50,86.50 L268.00,86.50 L268.50,86.50 L269.00,86.50 L269.50,86.50 L270.00,86.50 L270.50,86.50 L271.00,86.50 L271.50,86.50 L272.00,86.50 L272.50,86.50 L273.00,86.50 L273.50,86.50 L274.00,86.50 L274.50,86.50 L275.00,86.50 L275.50,86.49 L276.00,86.49 L276.50,86.49 L277.00,86.49 L277.50,86.48 L278.00,86.48 L278.50,86.47 L279.00,86.46 L279.50,86.45 L280.00,86.43 L280.50,86.42 L281.00,86.39 L281.50,86.37 L282.00,86.33 L282.50,86.29 L283.00,86.25 L283.50,86.19 L284.00,86.12 L284.50,86.04 L285.00,85.95 L285.50,85.84 L286.00,85.69 L286.50,85.54 L287.00,85.38 L287.50,85.19 L288.00,85.02 L288.50,84.83 L289.00,84.63 L289.50,84.34 L290.00,84.12 L290.50,83.80 L291.00,83.45 L291.50,83.10 L292.00,82.59 L292.50,82.16 L293.00,81.72 L293.50,81.29 L294.00,80.73 L294.50,80.41 L295.00,79.75 L295.50,79.21 L296.00,78.62 L296.50,78.09 L297.00,77.63 L297.50,76.94 L298.00,76.25 L298.50,75.63 L299.00,75.09 L299.50,74.11 L300.00,73.87 L300.50,73.54 L301.00,73.25 L301.50,73.00 L302.00,72.79 L302.50,72.43 L303.00,72.27 L303.50,71.58 L304.00,71.58 L304.50,71.75 L305.00,71.53 L305.50,71.00 L306.00,71.28 L306.50,71.35 L307.00,71.20 L307.50,71.46 L308.00,72.14 L308.50,72.27 L309.00,71.72 L309.50,72.20 L310.00,72.51 L310.50,72.58 L311.00,72.48 L311.50,73.10 L312.00,72.94 L312.50,72.92 L313.00,73.36 L313.50,73.95 L314.00,74.46 L314.50,74.81 L315.00,75.35 L315.50,75.62 L316.00,75.92 L316.50,76.09 L317.00,76.95 L317.50,77.65 L318.00,78.19 L318.50,78.89 L319.00,79.53 L319.50,79.90 L320.00,80.11 L320.50,80.51 L321.00,80.82 L321.50,81.26 L322.00,81.77 L322.50,82.29 L323.00,82.79 L323.50,83.23 L324.00,83.64 L324.50,83.86 L325.00,84.19 L325.50,84.39 L326.00,84.68 L326.50,84.90 L327.00,85.16 L327.50,85.31 L328.00,85.48 L328.50,85.60 L329.00,85.75 L329.50,85.86 L330.00,85.96 L330.50,86.05 L331.00,86.12 L331.50,86.19 L332.00,86.24 L332.50,86.29 L333.00,86.33 L333.50,86.36 L334.00,86.39 L334.50,86.41 L335.00,86.43 L335.50,86.44 L336.00,86.45 L336.50,86.46 L337.00,86.47 L337.50,86.48 L338.00,86.48 L338.50,86.49 L339.00,86.49 L339.50,86.49 L340.00,86.49 L340.50,86.50 L341.00,86.50 L341.50,86.50 L342.00,86.50 L342.50,86.50 L343.00,86.50 L343.50,86.50 L344.00,86.50 L344.50,86.50 L345.00,86.50 L345.50,86.50 L346.00,86.50 L346.50,86.50 L347.00,86.50 L347.50,86.50 L348.00,86.50 L348.50,86.50 L349.00,86.50 L349.50,86.50 L350.00,86.50 L350.50,86.50 L351.00,86.50 L351.50,86.50 L352.00,86.50 L352.50,86.50 L353.00,86.50 L353.50,86.50 L354.00,86.50 L354.50,86.50 L354.80,86.50 L245.00,86.50 Z" fill="#e45f5f" fill-opacity="0.5" stroke="none"/>
<path d="M285.50,85.84 L286.00,85.69 L286.50,85.54 L287.00,85.38 L287.50,85.19 L288.00,85.02 L288.50,84.83 L289.00,84.63 L289.50,84.34 L290.00,84.12 L290.50,83.80 L291.00,83.45 L291.50,83.10 L292.00,82.59 L292.50,82.16 L293.00,81.72 L293.50,81.29 L294.00,80.73 L294.50,80.41 L295.00,79.75 L295.50,79.21 L296.00,78.62 L296.50,78.09 L297.00,77.63 L297.50,76.94 L298.00,76.25 L298.50,75.63 L299.00,75.09 L299.50,74.11 L300.00,73.87 L300.50,73.54 L301.00,73.25 L301.50,73.00 L302.00,72.79 L302.50,72.43 L303.00,72.27 L303.50,71.58 L304.00,71.58 L304.50,71.75 L305.00,71.53 L305.50,71.00 L306.00,71.28 L306.50,71.35 L307.00,71.20 L307.50,71.46 L308.00,72.14 L308.50,72.27 L309.00,71.72 L309.50,72.20 L310.00,72.51 L310.50,72.58 L311.00,72.48 L311.50,73.10 L312.00,72.94 L312.50,72.92 L313.00,73.36 L313.50,73.95 L314.00,74.46 L314.50,74.81 L315.00,75.35 L315.50,75.62 L316.00,75.92 L316.50,76.09 L317.00,76.95 L317.50,77.65 L318.00,78.19 L318.50,78.89 L319.00,79.53 L319.50,79.90 L320.00,80.11 L320.50,80.51 L321.00,80.82 L321.50,81.26 L322.00,81.77 L322.50,82.29 L323.00,82.79 L323.50,83.23 L324.00,83.64 L324.50,83.86 L325.00,84.19 L325.50,84.39 L326.00,84.68 L326.50,84.90 L327.00,85.16 L327.50,85.31 L328.00,85.48 L328.50,85.60 L329.00,85.75 L329.50,85.86" fill="none" stroke="#e05a5a" stroke-width="0.8" stroke-opacity="0.85"/>
<line x1="245.00" y1="86.50" x2="354.80" y2="86.50" stroke="#e05a5a" stroke-width="0.6" stroke-opacity="0.4"/>
<path d="M245.00,97.50 L245.50,97.50 L246.00,97.50 L246.50,97.50 L247.00,97.50 L247.50,97.50 L248.00,97.50 L248.50,97.50 L249.00,97.50 L249.50,97.50 L250.00,97.50 L250.50,97.50 L251.00,97.50 L251.50,97.50 L252.00,97.50 L252.50,97.50 L253.00,97.50 L253.50,97.50 L254.00,97.50 L254.50,97.50 L255.00,97.50 L255.50,97.50 L256.00,97.50 L256.50,97.50 L257.00,97.50 L257.50,97.50 L258.00,97.50 L258.50,97.50 L259.00,97.50 L259.50,97.50 L260.00,97.50 L260.50,97.50 L261.00,97.50 L261.50,97.50 L262.00,97.50 L262.50,97.50 L263.00,97.50 L263.50,97.50 L264.00,97.50 L264.50,97.50 L265.00,97.50 L265.50,97.50 L266.00,97.50 L266.50,97.50 L267.00,97.50 L267.50,97.50 L268.00,97.50 L268.50,97.50 L269.00,97.49 L269.50,97.49 L270.00,97.49 L270.50,97.49 L271.00,97.49 L271.50,97.48 L272.00,97.48 L272.50,97.47 L273.00,97.46 L273.50,97.45 L274.00,97.44 L274.50,97.43 L275.00,97.41 L275.50,97.39 L276.00,97.37 L276.50,97.34 L277.00,97.31 L277.50,97.27 L278.00,97.23 L278.50,97.17 L279.00,97.11 L279.50,97.04 L280.00,96.96 L280.50,96.87 L281.00,96.76 L281.50,96.67 L282.00,96.51 L282.50,96.33 L283.00,96.18 L283.50,96.02 L284.00,95.75 L284.50,95.56 L285.00,95.39 L285.50,95.18 L286.00,94.81 L286.50,94.60 L287.00,94.32 L287.50,93.96 L288.00,93.48 L288.50,93.07 L289.00,92.67 L289.50,92.12 L290.00,91.69 L290.50,91.18 L291.00,90.86 L291.50,90.21 L292.00,89.63 L292.50,89.02 L293.00,88.66 L293.50,88.35 L294.00,88.09 L294.50,87.68 L295.00,87.10 L295.50,86.58 L296.00,86.11 L296.50,85.34 L297.00,84.81 L297.50,84.34 L298.00,83.85 L298.50,83.08 L299.00,83.00 L299.50,83.02 L300.00,83.21 L300.50,83.05 L301.00,83.07 L301.50,82.57 L302.00,82.51 L302.50,82.34 L303.00,82.66 L303.50,82.63 L304.00,82.61 L304.50,82.15 L305.00,81.65 L305.50,81.69 L306.00,81.40 L306.50,81.59 L307.00,82.00 L307.50,82.07 L308.00,81.70 L308.50,82.11 L309.00,82.09 L309.50,82.23 L310.00,82.80 L310.50,83.21 L311.00,83.39 L311.50,84.25 L312.00,84.36 L312.50,84.84 L313.00,85.26 L313.50,85.85 L314.00,85.99 L314.50,86.86 L315.00,87.46 L315.50,88.05 L316.00,88.20 L316.50,88.65 L317.00,88.88 L317.50,89.37 L318.00,89.80 L318.50,90.37 L319.00,90.85 L319.50,91.42 L320.00,91.90 L320.50,92.37 L321.00,92.75 L321.50,93.14 L322.00,93.51 L322.50,93.85 L323.00,94.18 L323.50,94.57 L324.00,94.94 L324.50,95.20 L325.00,95.44 L325.50,95.73 L326.00,95.93 L326.50,96.12 L327.00,96.34 L327.50,96.50 L328.00,96.60 L328.50,96.75 L329.00,96.86 L329.50,96.95 L330.00,97.04 L330.50,97.11 L331.00,97.17 L331.50,97.23 L332.00,97.28 L332.50,97.31 L333.00,97.35 L333.50,97.38 L334.00,97.40 L334.50,97.42 L335.00,97.43 L335.50,97.45 L336.00,97.46 L336.50,97.47 L337.00,97.47 L337.50,97.48 L338.00,97.48 L338.50,97.49 L339.00,97.49 L339.50,97.49 L340.00,97.49 L340.50,97.50 L341.00,97.50 L341.50,97.50 L342.00,97.50 L342.50,97.50 L343.00,97.50 L343.50,97.50 L344.00,97.50 L344.50,97.50 L345.00,97.50 L345.50,97.50 L346.00,97.50 L346.50,97.50 L347.00,97.50 L347.50,97.50 L348.00,97.50 L348.50,97.50 L349.00,97.50 L349.50,97.50 L350.00,97.50 L350.50,97.50 L351.00,97.50 L351.50,97.50 L352.00,97.50 L352.50,97.50 L353.00,97.50 L353.50,97.50 L354.00,97.50 L354.50,97.50 L354.80,97.50 L245.00,97.50 Z" fill="#b34ae8" fill-opacity="0.55" stroke="none"/>
<path d="M280.50,96.87 L281.00,96.76 L281.50,96.67 L282.00,96.51 L282.50,96.33 L283.00,96.18 L283.50,96.02 L284.00,95.75 L284.50,95.56 L285.00,95.39 L285.50,95.18 L286.00,94.81 L286.50,94.60 L287.00,94.32 L287.50,93.96 L288.00,93.48 L288.50,93.07 L289.00,92.67 L289.50,92.12 L290.00,91.69 L290.50,91.18 L291.00,90.86 L291.50,90.21 L292.00,89.63 L292.50,89.02 L293.00,88.66 L293.50,88.35 L294.00,88.09 L294.50,87.68 L295.00,87.10 L295.50,86.58 L296.00,86.11 L296.50,85.34 L297.00,84.81 L297.50,84.34 L298.00,83.85 L298.50,83.08 L299.00,83.00 L299.50,83.02 L300.00,83.21 L300.50,83.05 L301.00,83.07 L301.50,82.57 L302.00,82.51 L302.50,82.34 L303.00,82.66 L303.50,82.63 L304.00,82.61 L304.50,82.15 L305.00,81.65 L305.50,81.69 L306.00,81.40 L306.50,81.59 L307.00,82.00 L307.50,82.07 L308.00,81.70 L308.50,82.11 L309.00,82.09 L309.50,82.23 L310.00,82.80 L310.50,83.21 L311.00,83.39 L311.50,84.25 L312.00,84.36 L312.50,84.84 L313.00,85.26 L313.50,85.85 L314.00,85.99 L314.50,86.86 L315.00,87.46 L315.50,88.05 L316.00,88.20 L316.50,88.65 L317.00,88.88 L317.50,89.37 L318.00,89.80 L318.50,90.37 L319.00,90.85 L319.50,91.42 L320.00,91.90 L320.50,92.37 L321.00,92.75 L321.50,93.14 L322.00,93.51 L322.50,93.85 L323.00,94.18 L323.50,94.57 L324.00,94.94 L324.50,95.20 L325.00,95.44 L325.50,95.73 L326.00,95.93 L326.50,96.12 L327.00,96.34 L327.50,96.50 L328.00,96.60 L328.50,96.75 L329.00,96.86" fill="none" stroke="#a640e0" stroke-width="0.8" stroke-opacity="0.85"/>
<line x1="245.00" y1="97.50" x2="354.80" y2="97.50" stroke="#a640e0" stroke-width="0.6" stroke-opacity="0.4"/>
<path d="M245.00,108.20 L245.50,108.20 L246.00,108.20 L246.50,108.20 L247.00,108.20 L247.50,108.20 L248.00,108.20 L248.50,108.20 L249.00,108.20 L249.50,108.20 L250.00,108.20 L250.50,108.20 L251.00,108.20 L251.50,108.20 L252.00,108.20 L252.50,108.20 L253.00,108.20 L253.50,108.20 L254.00,108.20 L254.50,108.20 L255.00,108.20 L255.50,108.20 L256.00,108.20 L256.50,108.20 L257.00,108.20 L257.50,108.20 L258.00,108.20 L258.50,108.20 L259.00,108.20 L259.50,108.20 L260.00,108.20 L260.50,108.20 L261.00,108.20 L261.50,108.20 L262.00,108.20 L262.50,108.20 L263.00,108.20 L263.50,108.20 L264.00,108.20 L264.50,108.20 L265.00,108.20 L265.50,108.20 L266.00,108.20 L266.50,108.20 L267.00,108.20 L267.50,108.20 L268.00,108.20 L268.50,108.20 L269.00,108.19 L269.50,108.19 L270.00,108.19 L270.50,108.19 L271.00,108.18 L271.50,108.17 L272.00,108.17 L272.50,108.15 L273.00,108.14 L273.50,108.12 L274.00,108.10 L274.50,108.08 L275.00,108.05 L275.50,108.01 L276.00,107.96 L276.50,107.90 L277.00,107.83 L277.50,107.75 L278.00,107.65 L278.50,107.53 L279.00,107.40 L279.50,107.22 L280.00,107.06 L280.50,106.89 L281.00,106.66 L281.50,106.40 L282.00,106.13 L282.50,105.82 L283.00,105.40 L283.50,105.01 L284.00,104.57 L284.50,104.18 L285.00,103.68 L285.50,103.26 L286.00,102.68 L286.50,102.23 L287.00,101.56 L287.50,100.94 L288.00,100.33 L288.50,99.86 L289.00,98.96 L289.50,98.32 L290.00,97.56 L290.50,96.95 L291.00,95.97 L291.50,95.93 L292.00,95.54 L292.50,94.72 L293.00,93.92 L293.50,93.33 L294.00,92.21 L294.50,91.62 L295.00,91.13 L295.50,90.53 L296.00,90.11 L296.50,90.10 L297.00,89.50 L297.50,89.95 L298.00,90.35 L298.50,90.48 L299.00,90.41 L299.50,90.52 L300.00,90.19 L300.50,90.33 L301.00,90.58 L301.50,90.95 L302.00,90.98 L302.50,91.25 L303.00,90.80 L303.50,90.80 L304.00,90.87 L304.50,91.18 L305.00,90.96 L305.50,91.65 L306.00,92.40 L306.50,92.45 L307.00,93.14 L307.50,93.61 L308.00,94.01 L308.50,94.31 L309.00,94.89 L309.50,95.57 L310.00,96.18 L310.50,96.89 L311.00,97.30 L311.50,97.86 L312.00,98.15 L312.50,99.01 L313.00,99.35 L313.50,100.07 L314.00,100.89 L314.50,101.61 L315.00,102.22 L315.50,102.81 L316.00,103.31 L316.50,103.70 L317.00,104.03 L317.50,104.38 L318.00,104.87 L318.50,105.21 L319.00,105.60 L319.50,105.93 L320.00,106.19 L320.50,106.40 L321.00,106.63 L321.50,106.83 L322.00,107.03 L322.50,107.21 L323.00,107.32 L323.50,107.45 L324.00,107.56 L324.50,107.66 L325.00,107.75 L325.50,107.82 L326.00,107.88 L326.50,107.94 L327.00,107.98 L327.50,108.02 L328.00,108.06 L328.50,108.08 L329.00,108.11 L329.50,108.12 L330.00,108.14 L330.50,108.15 L331.00,108.16 L331.50,108.17 L332.00,108.18 L332.50,108.18 L333.00,108.19 L333.50,108.19 L334.00,108.19 L334.50,108.19 L335.00,108.20 L335.50,108.20 L336.00,108.20 L336.50,108.20 L337.00,108.20 L337.50,108.20 L338.00,108.20 L338.50,108.20 L339.00,108.20 L339.50,108.20 L340.00,108.20 L340.50,108.20 L341.00,108.20 L341.50,108.20 L342.00,108.20 L342.50,108.20 L343.00,108.20 L343.50,108.20 L344.00,108.20 L344.50,108.20 L345.00,108.20 L345.50,108.20 L346.00,108.20 L346.50,108.20 L347.00,108.20 L347.50,108.20 L348.00,108.20 L348.50,108.20 L349.00,108.20 L349.50,108.20 L350.00,108.20 L350.50,108.20 L351.00,108.20 L351.50,108.20 L352.00,108.20 L352.50,108.20 L353.00,108.20 L353.50,108.20 L354.00,108.20 L354.50,108.20 L354.80,108.20 L245.00,108.20 Z" fill="#55eefc" fill-opacity="0.5" stroke="none"/>
<path d="M278.50,107.53 L279.00,107.40 L279.50,107.22 L280.00,107.06 L280.50,106.89 L281.00,106.66 L281.50,106.40 L282.00,106.13 L282.50,105.82 L283.00,105.40 L283.50,105.01 L284.00,104.57 L284.50,104.18 L285.00,103.68 L285.50,103.26 L286.00,102.68 L286.50,102.23 L287.00,101.56 L287.50,100.94 L288.00,100.33 L288.50,99.86 L289.00,98.96 L289.50,98.32 L290.00,97.56 L290.50,96.95 L291.00,95.97 L291.50,95.93 L292.00,95.54 L292.50,94.72 L293.00,93.92 L293.50,93.33 L294.00,92.21 L294.50,91.62 L295.00,91.13 L295.50,90.53 L296.00,90.11 L296.50,90.10 L297.00,89.50 L297.50,89.95 L298.00,90.35 L298.50,90.48 L299.00,90.41 L299.50,90.52 L300.00,90.19 L300.50,90.33 L301.00,90.58 L301.50,90.95 L302.00,90.98 L302.50,91.25 L303.00,90.80 L303.50,90.80 L304.00,90.87 L304.50,91.18 L305.00,90.96 L305.50,91.65 L306.00,92.40 L306.50,92.45 L307.00,93.14 L307.50,93.61 L308.00,94.01 L308.50,94.31 L309.00,94.89 L309.50,95.57 L310.00,96.18 L310.50,96.89 L311.00,97.30 L311.50,97.86 L312.00,98.15 L312.50,99.01 L313.00,99.35 L313.50,100.07 L314.00,100.89 L314.50,101.61 L315.00,102.22 L315.50,102.81 L316.00,103.31 L316.50,103.70 L317.00,104.03 L317.50,104.38 L318.00,104.87 L318.50,105.21 L319.00,105.60 L319.50,105.93 L320.00,106.19 L320.50,106.40 L321.00,106.63 L321.50,106.83 L322.00,107.03 L322.50,107.21 L323.00,107.32 L323.50,107.45 L324.00,107.56" fill="none" stroke="#52e2f4" stroke-width="0.8" stroke-opacity="0.85"/>
<line x1="245.00" y1="108.20" x2="354.80" y2="108.20" stroke="#52e2f4" stroke-width="0.6" stroke-opacity="0.4"/>
<path d="M245.00,119.40 L245.50,119.40 L246.00,119.40 L246.50,119.40 L247.00,119.40 L247.50,119.40 L248.00,119.40 L248.50,119.40 L249.00,119.40 L249.50,119.40 L250.00,119.40 L250.50,119.40 L251.00,119.40 L251.50,119.40 L252.00,119.40 L252.50,119.40 L253.00,119.40 L253.50,119.40 L254.00,119.40 L254.50,119.40 L255.00,119.40 L255.50,119.40 L256.00,119.40 L256.50,119.40 L257.00,119.40 L257.50,119.40 L258.00,119.40 L258.50,119.40 L259.00,119.40 L259.50,119.40 L260.00,119.40 L260.50,119.40 L261.00,119.40 L261.50,119.40 L262.00,119.40 L262.50,119.40 L263.00,119.40 L263.50,119.40 L264.00,119.40 L264.50,119.40 L265.00,119.40 L265.50,119.40 L266.00,119.40 L266.50,119.40 L267.00,119.40 L267.50,119.40 L268.00,119.40 L268.50,119.40 L269.00,119.40 L269.50,119.40 L270.00,119.40 L270.50,119.40 L271.00,119.40 L271.50,119.40 L272.00,119.40 L272.50,119.40 L273.00,119.39 L273.50,119.39 L274.00,119.39 L274.50,119.39 L275.00,119.39 L275.50,119.38 L276.00,119.38 L276.50,119.37 L277.00,119.36 L277.50,119.35 L278.00,119.34 L278.50,119.33 L279.00,119.31 L279.50,119.29 L280.00,119.27 L280.50,119.24 L281.00,119.21 L281.50,119.18 L282.00,119.13 L282.50,119.08 L283.00,119.02 L283.50,118.95 L284.00,118.88 L284.50,118.79 L285.00,118.69 L285.50,118.54 L286.00,118.41 L286.50,118.28 L287.00,118.16 L287.50,118.05 L288.00,117.90 L288.50,117.75 L289.00,117.51 L289.50,117.26 L290.00,116.90 L290.50,116.61 L291.00,116.30 L291.50,115.89 L292.00,115.42 L292.50,115.13 L293.00,114.65 L293.50,114.18 L294.00,113.87 L294.50,113.61 L295.00,113.29 L295.50,112.70 L296.00,112.06 L296.50,111.40 L297.00,110.96 L297.50,110.24 L298.00,110.15 L298.50,109.74 L299.00,109.66 L299.50,108.98 L300.00,108.80 L300.50,107.88 L301.00,107.35 L301.50,106.74 L302.00,106.17 L302.50,105.41 L303.00,105.57 L303.50,105.30 L304.00,104.72 L304.50,104.91 L305.00,104.77 L305.50,104.49 L306.00,104.92 L306.50,105.09 L307.00,105.07 L307.50,104.89 L308.00,104.55 L308.50,104.36 L309.00,104.38 L309.50,104.43 L310.00,104.77 L310.50,104.86 L311.00,104.47 L311.50,104.12 L312.00,103.80 L312.50,103.85 L313.00,103.80 L313.50,104.15 L314.00,104.46 L314.50,104.88 L315.00,104.84 L315.50,105.58 L316.00,106.02 L316.50,106.72 L317.00,107.07 L317.50,107.61 L318.00,107.58 L318.50,108.21 L319.00,108.46 L319.50,109.00 L320.00,109.38 L320.50,109.95 L321.00,110.03 L321.50,110.39 L322.00,110.74 L322.50,111.47 L323.00,111.99 L323.50,112.65 L324.00,113.33 L324.50,113.93 L325.00,114.19 L325.50,114.68 L326.00,115.15 L326.50,115.53 L327.00,115.88 L327.50,116.34 L328.00,116.60 L328.50,116.85 L329.00,117.11 L329.50,117.34 L330.00,117.55 L330.50,117.79 L331.00,117.97 L331.50,118.17 L332.00,118.32 L332.50,118.43 L333.00,118.56 L333.50,118.68 L334.00,118.78 L334.50,118.87 L335.00,118.95 L335.50,119.02 L336.00,119.08 L336.50,119.13 L337.00,119.18 L337.50,119.22 L338.00,119.25 L338.50,119.27 L339.00,119.30 L339.50,119.32 L340.00,119.33 L340.50,119.35 L341.00,119.36 L341.50,119.37 L342.00,119.37 L342.50,119.38 L343.00,119.38 L343.50,119.39 L344.00,119.39 L344.50,119.39 L345.00,119.39 L345.50,119.40 L346.00,119.40 L346.50,119.40 L347.00,119.40 L347.50,119.40 L348.00,119.40 L348.50,119.40 L349.00,119.40 L349.50,119.40 L350.00,119.40 L350.50,119.40 L351.00,119.40 L351.50,119.40 L352.00,119.40 L352.50,119.40 L353.00,119.40 L353.50,119.40 L354.00,119.40 L354.50,119.40 L354.80,119.40 L245.00,119.40 Z" fill="#55b5a5" fill-opacity="0.5" stroke="none"/>
<path d="M284.50,118.79 L285.00,118.69 L285.50,118.54 L286.00,118.41 L286.50,118.28 L287.00,118.16 L287.50,118.05 L288.00,117.90 L288.50,117.75 L289.00,117.51 L289.50,117.26 L290.00,116.90 L290.50,116.61 L291.00,116.30 L291.50,115.89 L292.00,115.42 L292.50,115.13 L293.00,114.65 L293.50,114.18 L294.00,113.87 L294.50,113.61 L295.00,113.29 L295.50,112.70 L296.00,112.06 L296.50,111.40 L297.00,110.96 L297.50,110.24 L298.00,110.15 L298.50,109.74 L299.00,109.66 L299.50,108.98 L300.00,108.80 L300.50,107.88 L301.00,107.35 L301.50,106.74 L302.00,106.17 L302.50,105.41 L303.00,105.57 L303.50,105.30 L304.00,104.72 L304.50,104.91 L305.00,104.77 L305.50,104.49 L306.00,104.92 L306.50,105.09 L307.00,105.07 L307.50,104.89 L308.00,104.55 L308.50,104.36 L309.00,104.38 L309.50,104.43 L310.00,104.77 L310.50,104.86 L311.00,104.47 L311.50,104.12 L312.00,103.80 L312.50,103.85 L313.00,103.80 L313.50,104.15 L314.00,104.46 L314.50,104.88 L315.00,104.84 L315.50,105.58 L316.00,106.02 L316.50,106.72 L317.00,107.07 L317.50,107.61 L318.00,107.58 L318.50,108.21 L319.00,108.46 L319.50,109.00 L320.00,109.38 L320.50,109.95 L321.00,110.03 L321.50,110.39 L322.00,110.74 L322.50,111.47 L323.00,111.99 L323.50,112.65 L324.00,113.33 L324.50,113.93 L325.00,114.19 L325.50,114.68 L326.00,115.15 L326.50,115.53 L327.00,115.88 L327.50,116.34 L328.00,116.60 L328.50,116.85 L329.00,117.11 L329.50,117.34 L330.00,117.55 L330.50,117.79 L331.00,117.97 L331.50,118.17 L332.00,118.32 L332.50,118.43 L333.00,118.56 L333.50,118.68 L334.00,118.78" fill="none" stroke="#4aa99a" stroke-width="0.8" stroke-opacity="0.85"/>
<line x1="245.00" y1="119.40" x2="354.80" y2="119.40" stroke="#4aa99a" stroke-width="0.6" stroke-opacity="0.4"/>
<path d="M245.00,129.60 L245.50,129.60 L246.00,129.60 L246.50,129.60 L247.00,129.60 L247.50,129.60 L248.00,129.60 L248.50,129.60 L249.00,129.60 L249.50,129.60 L250.00,129.60 L250.50,129.60 L251.00,129.60 L251.50,129.60 L252.00,129.60 L252.50,129.60 L253.00,129.60 L253.50,129.60 L254.00,129.60 L254.50,129.60 L255.00,129.60 L255.50,129.60 L256.00,129.60 L256.50,129.60 L257.00,129.60 L257.50,129.60 L258.00,129.60 L258.50,129.60 L259.00,129.60 L259.50,129.60 L260.00,129.60 L260.50,129.60 L261.00,129.60 L261.50,129.60 L262.00,129.60 L262.50,129.60 L263.00,129.60 L263.50,129.60 L264.00,129.60 L264.50,129.60 L265.00,129.60 L265.50,129.60 L266.00,129.60 L266.50,129.60 L267.00,129.60 L267.50,129.60 L268.00,129.60 L268.50,129.60 L269.00,129.60 L269.50,129.60 L270.00,129.60 L270.50,129.60 L271.00,129.60 L271.50,129.60 L272.00,129.60 L272.50,129.60 L273.00,129.60 L273.50,129.60 L274.00,129.60 L274.50,129.60 L275.00,129.59 L275.50,129.59 L276.00,129.59 L276.50,129.59 L277.00,129.58 L277.50,129.58 L278.00,129.57 L278.50,129.56 L279.00,129.55 L279.50,129.53 L280.00,129.51 L280.50,129.49 L281.00,129.45 L281.50,129.42 L282.00,129.37 L282.50,129.32 L283.00,129.25 L283.50,129.17 L284.00,129.07 L284.50,128.96 L285.00,128.83 L285.50,128.69 L286.00,128.53 L286.50,128.34 L287.00,128.10 L287.50,127.88 L288.00,127.61 L288.50,127.23 L289.00,126.85 L289.50,126.59 L290.00,126.26 L290.50,125.79 L291.00,125.25 L291.50,124.77 L292.00,124.00 L292.50,123.33 L293.00,122.73 L293.50,122.39 L294.00,121.70 L294.50,121.39 L295.00,120.51 L295.50,119.72 L296.00,119.10 L296.50,118.44 L297.00,117.63 L297.50,117.18 L298.00,116.60 L298.50,115.97 L299.00,115.53 L299.50,114.92 L300.00,114.88 L300.50,114.27 L301.00,113.45 L301.50,113.35 L302.00,113.51 L302.50,113.03 L303.00,113.05 L303.50,112.98 L304.00,112.94 L304.50,112.45 L305.00,112.30 L305.50,112.67 L306.00,112.78 L306.50,112.39 L307.00,112.33 L307.50,112.78 L308.00,112.99 L308.50,112.99 L309.00,112.91 L309.50,113.29 L310.00,112.98 L310.50,113.10 L311.00,113.90 L311.50,114.56 L312.00,115.22 L312.50,115.73 L313.00,116.01 L313.50,116.64 L314.00,117.43 L314.50,117.73 L315.00,118.78 L315.50,119.65 L316.00,120.26 L316.50,120.69 L317.00,121.23 L317.50,121.58 L318.00,121.96 L318.50,122.53 L319.00,123.09 L319.50,123.67 L320.00,124.20 L320.50,124.88 L321.00,125.34 L321.50,125.77 L322.00,126.25 L322.50,126.70 L323.00,127.04 L323.50,127.39 L324.00,127.69 L324.50,127.96 L325.00,128.20 L325.50,128.41 L326.00,128.54 L326.50,128.70 L327.00,128.85 L327.50,128.97 L328.00,129.08 L328.50,129.17 L329.00,129.25 L329.50,129.31 L330.00,129.36 L330.50,129.41 L331.00,129.45 L331.50,129.48 L332.00,129.50 L332.50,129.52 L333.00,129.54 L333.50,129.55 L334.00,129.56 L334.50,129.57 L335.00,129.58 L335.50,129.58 L336.00,129.59 L336.50,129.59 L337.00,129.59 L337.50,129.60 L338.00,129.60 L338.50,129.60 L339.00,129.60 L339.50,129.60 L340.00,129.60 L340.50,129.60 L341.00,129.60 L341.50,129.60 L342.00,129.60 L342.50,129.60 L343.00,129.60 L343.50,129.60 L344.00,129.60 L344.50,129.60 L345.00,129.60 L345.50,129.60 L346.00,129.60 L346.50,129.60 L347.00,129.60 L347.50,129.60 L348.00,129.60 L348.50,129.60 L349.00,129.60 L349.50,129.60 L350.00,129.60 L350.50,129.60 L351.00,129.60 L351.50,129.60 L352.00,129.60 L352.50,129.60 L353.00,129.60 L353.50,129.60 L354.00,129.60 L354.50,129.60 L354.80,129.60 L245.00,129.60 Z" fill="#e8f560" fill-opacity="0.6" stroke="none"/>
<path d="M284.50,128.96 L285.00,128.83 L285.50,128.69 L286.00,128.53 L286.50,128.34 L287.00,128.10 L287.50,127.88 L288.00,127.61 L288.50,127.23 L289.00,126.85 L289.50,126.59 L290.00,126.26 L290.50,125.79 L291.00,125.25 L291.50,124.77 L292.00,124.00 L292.50,123.33 L293.00,122.73 L293.50,122.39 L294.00,121.70 L294.50,121.39 L295.00,120.51 L295.50,119.72 L296.00,119.10 L296.50,118.44 L297.00,117.63 L297.50,117.18 L298.00,116.60 L298.50,115.97 L299.00,115.53 L299.50,114.92 L300.00,114.88 L300.50,114.27 L301.00,113.45 L301.50,113.35 L302.00,113.51 L302.50,113.03 L303.00,113.05 L303.50,112.98 L304.00,112.94 L304.50,112.45 L305.00,112.30 L305.50,112.67 L306.00,112.78 L306.50,112.39 L307.00,112.33 L307.50,112.78 L308.00,112.99 L308.50,112.99 L309.00,112.91 L309.50,113.29 L310.00,112.98 L310.50,113.10 L311.00,113.90 L311.50,114.56 L312.00,115.22 L312.50,115.73 L313.00,116.01 L313.50,116.64 L314.00,117.43 L314.50,117.73 L315.00,118.78 L315.50,119.65 L316.00,120.26 L316.50,120.69 L317.00,121.23 L317.50,121.58 L318.00,121.96 L318.50,122.53 L319.00,123.09 L319.50,123.67 L320.00,124.20 L320.50,124.88 L321.00,125.34 L321.50,125.77 L322.00,126.25 L322.50,126.70 L323.00,127.04 L323.50,127.39 L324.00,127.69 L324.50,127.96 L325.00,128.20 L325.50,128.41 L326.00,128.54 L326.50,128.70 L327.00,128.85 L327.50,128.97" fill="none" stroke="#dcef55" stroke-width="0.8" stroke-opacity="0.85"/>
<line x1="245.00" y1="129.60" x2="354.80" y2="129.60" stroke="#dcef55" stroke-width="0.6" stroke-opacity="0.4"/>
<line x1="295.10" y1="18.60" x2="295.10" y2="130.00" stroke="#222" stroke-width="0.9" stroke-dasharray="1.6 1.1"/>
<rect x="244.40" y="18.60" width="111.00" height="111.40" fill="none" stroke="#777" stroke-width="1.0"/>
<line x1="244.40" y1="130.00" x2="355.40" y2="130.00" stroke="#555" stroke-width="1.0"/>
<line x1="248.90" y1="130.00" x2="248.90" y2="131.50" stroke="#333" stroke-width="0.8"/>
<line x1="253.75" y1="130.00" x2="253.75" y2="131.50" stroke="#333" stroke-width="0.8"/>
<line x1="257.71" y1="130.00" x2="257.71" y2="131.50" stroke="#333" stroke-width="0.8"/>
<line x1="261.05" y1="130.00" x2="261.05" y2="131.50" stroke="#333" stroke-width="0.8"/>
<line x1="263.95" y1="130.00" x2="263.95" y2="131.50" stroke="#333" stroke-width="0.8"/>
<line x1="266.51" y1="130.00" x2="266.51" y2="131.50" stroke="#333" stroke-width="0.8"/>
<line x1="268.80" y1="130.00" x2="268.80" y2="132.60" stroke="#333" stroke-width="0.8"/>
<line x1="283.85" y1="130.00" x2="283.85" y2="131.50" stroke="#333" stroke-width="0.8"/>
<line x1="292.66" y1="130.00" x2="292.66" y2="131.50" stroke="#333" stroke-width="0.8"/>
<line x1="298.90" y1="130.00" x2="298.90" y2="131.50" stroke="#333" stroke-width="0.8"/>
<line x1="303.75" y1="130.00" x2="303.75" y2="131.50" stroke="#333" stroke-width="0.8"/>
<line x1="307.71" y1="130.00" x2="307.71" y2="131.50" stroke="#333" stroke-width="0.8"/>
<line x1="311.05" y1="130.00" x2="311.05" y2="131.50" stroke="#333" stroke-width="0.8"/>
<line x1="313.95" y1="130.00" x2="313.95" y2="131.50" stroke="#333" stroke-width="0.8"/>
<line x1="316.51" y1="130.00" x2="316.51" y2="131.50" stroke="#333" stroke-width="0.8"/>
<line x1="318.80" y1="130.00" x2="318.80" y2="132.60" stroke="#333" stroke-width="0.8"/>
<line x1="333.85" y1="130.00" x2="333.85" y2="131.50" stroke="#333" stroke-width="0.8"/>
<line x1="342.66" y1="130.00" x2="342.66" y2="131.50" stroke="#333" stroke-width="0.8"/>
<line x1="348.90" y1="130.00" x2="348.90" y2="131.50" stroke="#333" stroke-width="0.8"/>
<line x1="353.75" y1="130.00" x2="353.75" y2="131.50" stroke="#333" stroke-width="0.8"/>
<text x="269.20" y="143.00" font-size="5.4" text-anchor="middle" fill="#333" stroke="#333" stroke-width="0.108">10</text>
<text x="272.80" y="140.40" font-size="3.8" text-anchor="middle" fill="#333" stroke="#333" stroke-width="0.076">3</text>
<text x="319.20" y="143.00" font-size="5.4" text-anchor="middle" fill="#333" stroke="#333" stroke-width="0.108">10</text>
<text x="322.80" y="140.40" font-size="3.8" text-anchor="middle" fill="#333" stroke="#333" stroke-width="0.076">4</text>
<text x="304.40" y="154.60" font-size="10.2" text-anchor="middle" fill="#1a1a1a" stroke="#1a1a1a" stroke-width="0.204">Lipid ROS level (FITC)</text>
<text x="240.80" y="68.00" font-size="10" text-anchor="middle" fill="#1a1a1a" stroke="#1a1a1a" stroke-width="0.200" transform="rotate(-90 240.80 68.00)">Count</text>
<text x="358.60" y="39.80" font-size="10.15" text-anchor="start" fill="#1a1a1a" stroke="#1a1a1a" stroke-width="0.203">con-sh+vehicle</text>
<text x="358.60" y="51.80" font-size="10.15" text-anchor="start" fill="#1a1a1a" stroke="#1a1a1a" stroke-width="0.203">USP35-sh#1+vehicle</text>
<text x="358.60" y="64.30" font-size="10.15" text-anchor="start" fill="#1a1a1a" stroke="#1a1a1a" stroke-width="0.203">USP35-sh#2+vehicle</text>
<text x="358.60" y="74.30" font-size="10.15" text-anchor="start" fill="#1a1a1a" stroke="#1a1a1a" stroke-width="0.203">con-sh+Erastin</text>
<text x="358.60" y="84.70" font-size="10.15" text-anchor="start" fill="#1a1a1a" stroke="#1a1a1a" stroke-width="0.203">USP35-sh#1+Erastin</text>
<text x="358.60" y="96.50" font-size="10.15" text-anchor="start" fill="#1a1a1a" stroke="#1a1a1a" stroke-width="0.203">USP35-sh#2+Erastin</text>
<text x="358.60" y="107.40" font-size="10.15" text-anchor="start" fill="#1a1a1a" stroke="#1a1a1a" stroke-width="0.203">con-sh+RSL3</text>
<text x="358.60" y="118.60" font-size="10.15" text-anchor="start" fill="#1a1a1a" stroke="#1a1a1a" stroke-width="0.203">USP35-sh#1+RSL3</text>
<text x="358.60" y="129.40" font-size="10.15" text-anchor="start" fill="#1a1a1a" stroke="#1a1a1a" stroke-width="0.203">USP35-sh#2+RSL3</text>
<line x1="482.40" y1="58.00" x2="482.40" y2="150.45" stroke="#111" stroke-width="1.3"/>
<line x1="478.40" y1="58.00" x2="482.40" y2="58.00" stroke="#111" stroke-width="1.3"/>
<text x="477.10" y="61.50" font-size="10" text-anchor="end" fill="#1a1a1a" stroke="#1a1a1a" stroke-width="0.200">50</text>
<line x1="478.40" y1="76.36" x2="482.40" y2="76.36" stroke="#111" stroke-width="1.3"/>
<text x="477.10" y="79.86" font-size="10" text-anchor="end" fill="#1a1a1a" stroke="#1a1a1a" stroke-width="0.200">40</text>
<line x1="478.40" y1="94.72" x2="482.40" y2="94.72" stroke="#111" stroke-width="1.3"/>
<text x="477.10" y="98.22" font-size="10" text-anchor="end" fill="#1a1a1a" stroke="#1a1a1a" stroke-width="0.200">30</text>
<line x1="478.40" y1="113.08" x2="482.40" y2="113.08" stroke="#111" stroke-width="1.3"/>
<text x="477.10" y="116.58" font-size="10" text-anchor="end" fill="#1a1a1a" stroke="#1a1a1a" stroke-width="0.200">20</text>
<line x1="478.40" y1="131.44" x2="482.40" y2="131.44" stroke="#111" stroke-width="1.3"/>
<text x="477.10" y="134.94" font-size="10" text-anchor="end" fill="#1a1a1a" stroke="#1a1a1a" stroke-width="0.200">10</text>
<line x1="478.40" y1="149.80" x2="482.40" y2="149.80" stroke="#111" stroke-width="1.3"/>
<text x="477.10" y="153.30" font-size="10" text-anchor="end" fill="#1a1a1a" stroke="#1a1a1a" stroke-width="0.200">0</text>
<line x1="481.75" y1="149.80" x2="620.00" y2="149.80" stroke="#111" stroke-width="1.3"/>
<line x1="503.50" y1="149.80" x2="503.50" y2="153.40" stroke="#111" stroke-width="1.3"/>
<line x1="550.80" y1="149.80" x2="550.80" y2="153.40" stroke="#111" stroke-width="1.3"/>
<line x1="598.10" y1="149.80" x2="598.10" y2="153.40" stroke="#111" stroke-width="1.3"/>
<path d="M486.95,149.80 V140.15 H494.15 V149.80" stroke="#111" stroke-width="1.7" fill="none" stroke-linejoin="miter"/>
<line x1="490.55" y1="138.30" x2="490.55" y2="139.80" stroke="#111" stroke-width="1.0"/>
<line x1="488.35" y1="138.30" x2="492.75" y2="138.30" stroke="#111" stroke-width="1.0"/>
<rect x="489.40" y="138.15" width="2.30" height="2.30" fill="#000"/>
<path d="M499.95,149.80 V92.15 H507.15 V149.80" stroke="#ff1a1a" stroke-width="1.7" fill="none" stroke-linejoin="miter"/>
<line x1="503.55" y1="89.30" x2="503.55" y2="92.80" stroke="#ff1a1a" stroke-width="1.0"/>
<line x1="501.35" y1="89.30" x2="505.75" y2="89.30" stroke="#ff1a1a" stroke-width="1.0"/>
<rect x="499.90" y="90.65" width="2.30" height="2.30" fill="#000"/>
<rect x="502.40" y="88.65" width="2.30" height="2.30" fill="#000"/>
<rect x="504.90" y="90.65" width="2.30" height="2.30" fill="#000"/>
<path d="M512.90,149.80 V128.05 H520.10 V149.80" stroke="#2222ff" stroke-width="1.7" fill="none" stroke-linejoin="miter"/>
<line x1="516.50" y1="124.70" x2="516.50" y2="128.70" stroke="#2222ff" stroke-width="1.0"/>
<line x1="514.30" y1="124.70" x2="518.70" y2="124.70" stroke="#2222ff" stroke-width="1.0"/>
<rect x="515.35" y="126.05" width="2.30" height="2.30" fill="#000"/>
<path d="M534.25,149.80 V137.25 H541.45 V149.80" stroke="#111" stroke-width="1.7" fill="none" stroke-linejoin="miter"/>
<line x1="537.85" y1="134.90" x2="537.85" y2="137.40" stroke="#111" stroke-width="1.0"/>
<line x1="535.65" y1="134.90" x2="540.05" y2="134.90" stroke="#111" stroke-width="1.0"/>
<rect x="536.70" y="135.25" width="2.30" height="2.30" fill="#000"/>
<rect x="536.70" y="134.25" width="2.30" height="2.30" fill="#000"/>
<path d="M547.25,149.80 V79.05 H554.45 V149.80" stroke="#ff1a1a" stroke-width="1.7" fill="none" stroke-linejoin="miter"/>
<line x1="550.85" y1="75.70" x2="550.85" y2="79.70" stroke="#ff1a1a" stroke-width="1.0"/>
<line x1="548.65" y1="75.70" x2="553.05" y2="75.70" stroke="#ff1a1a" stroke-width="1.0"/>
<rect x="549.70" y="75.05" width="2.30" height="2.30" fill="#000"/>
<rect x="547.20" y="77.55" width="2.30" height="2.30" fill="#000"/>
<rect x="552.20" y="77.55" width="2.30" height="2.30" fill="#000"/>
<path d="M560.20,149.80 V103.35 H567.40 V149.80" stroke="#2222ff" stroke-width="1.7" fill="none" stroke-linejoin="miter"/>
<line x1="563.80" y1="101.50" x2="563.80" y2="103.00" stroke="#2222ff" stroke-width="1.0"/>
<line x1="561.60" y1="101.50" x2="566.00" y2="101.50" stroke="#2222ff" stroke-width="1.0"/>
<rect x="562.65" y="101.35" width="2.30" height="2.30" fill="#000"/>
<path d="M581.55,149.80 V128.05 H588.75 V149.80" stroke="#111" stroke-width="1.7" fill="none" stroke-linejoin="miter"/>
<line x1="585.15" y1="125.20" x2="585.15" y2="128.20" stroke="#111" stroke-width="1.0"/>
<line x1="582.95" y1="125.20" x2="587.35" y2="125.20" stroke="#111" stroke-width="1.0"/>
<rect x="584.00" y="125.05" width="2.30" height="2.30" fill="#000"/>
<path d="M594.55,149.80 V73.25 H601.75 V149.80" stroke="#ff1a1a" stroke-width="1.7" fill="none" stroke-linejoin="miter"/>
<line x1="598.15" y1="69.40" x2="598.15" y2="75.40" stroke="#ff1a1a" stroke-width="1.0"/>
<line x1="595.95" y1="69.40" x2="600.35" y2="69.40" stroke="#ff1a1a" stroke-width="1.0"/>
<line x1="595.95" y1="75.40" x2="600.35" y2="75.40" stroke="#ff1a1a" stroke-width="1.0"/>
<rect x="594.50" y="68.75" width="2.30" height="2.30" fill="#000"/>
<rect x="597.00" y="74.25" width="2.30" height="2.30" fill="#000"/>
<rect x="599.50" y="70.25" width="2.30" height="2.30" fill="#000"/>
<path d="M607.50,149.80 V95.15 H614.70 V149.80" stroke="#2222ff" stroke-width="1.7" fill="none" stroke-linejoin="miter"/>
<line x1="611.10" y1="91.30" x2="611.10" y2="96.80" stroke="#2222ff" stroke-width="1.0"/>
<line x1="608.90" y1="91.30" x2="613.30" y2="91.30" stroke="#2222ff" stroke-width="1.0"/>
<line x1="608.90" y1="96.80" x2="613.30" y2="96.80" stroke="#2222ff" stroke-width="1.0"/>
<rect x="608.45" y="94.15" width="2.30" height="2.30" fill="#000"/>
<rect x="611.95" y="91.15" width="2.30" height="2.30" fill="#000"/>
<rect x="609.95" y="96.15" width="2.30" height="2.30" fill="#000"/>
<path d="M488.60,86.60 V82.60 H503.50 V86.60" stroke="#333" stroke-width="0.95" fill="none"/>
<path d="M491.40,74.65L491.40,77.95M489.97,75.47L492.83,77.12M492.83,75.47L489.97,77.12M496.05,74.65L496.05,77.95M494.62,75.47L497.48,77.12M497.48,75.47L494.62,77.12M500.70,74.65L500.70,77.95M499.27,75.47L502.13,77.12M502.13,75.47L499.27,77.12" stroke="#111" stroke-width="1.05" fill="none" stroke-linecap="butt"/>
<path d="M488.60,72.60 V68.60 H517.40 V72.60" stroke="#333" stroke-width="0.95" fill="none"/>
<path d="M498.35,60.75L498.35,64.05M496.92,61.57L499.78,63.23M499.78,61.57L496.92,63.23M503.00,60.75L503.00,64.05M501.57,61.57L504.43,63.23M504.43,61.57L501.57,63.23M507.65,60.75L507.65,64.05M506.22,61.57L509.08,63.23M509.08,61.57L506.22,63.23" stroke="#111" stroke-width="1.05" fill="none" stroke-linecap="butt"/>
<path d="M537.60,72.60 V68.60 H550.80 V72.60" stroke="#333" stroke-width="0.95" fill="none"/>
<path d="M539.55,60.75L539.55,64.05M538.12,61.57L540.98,63.23M540.98,61.57L538.12,63.23M544.20,60.75L544.20,64.05M542.77,61.57L545.63,63.23M545.63,61.57L542.77,63.23M548.85,60.75L548.85,64.05M547.42,61.57L550.28,63.23M550.28,61.57L547.42,63.23" stroke="#111" stroke-width="1.05" fill="none" stroke-linecap="butt"/>
<path d="M537.60,56.90 V52.90 H564.00 V56.90" stroke="#333" stroke-width="0.95" fill="none"/>
<path d="M546.15,45.05L546.15,48.35M544.72,45.88L547.58,47.53M547.58,45.88L544.72,47.53M550.80,45.05L550.80,48.35M549.37,45.88L552.23,47.53M552.23,45.88L549.37,47.53M555.45,45.05L555.45,48.35M554.02,45.88L556.88,47.53M556.88,45.88L554.02,47.53" stroke="#111" stroke-width="1.05" fill="none" stroke-linecap="butt"/>
<path d="M584.80,66.00 V62.00 H598.30 V66.00" stroke="#333" stroke-width="0.95" fill="none"/>
<path d="M586.90,54.95L586.90,58.25M585.47,55.77L588.33,57.43M588.33,55.77L585.47,57.43M591.55,54.95L591.55,58.25M590.12,55.77L592.98,57.43M592.98,55.77L590.12,57.43M596.20,54.95L596.20,58.25M594.77,55.77L597.63,57.43M597.63,55.77L594.77,57.43" stroke="#111" stroke-width="1.05" fill="none" stroke-linecap="butt"/>
<path d="M584.80,52.00 V48.00 H611.50 V52.00" stroke="#333" stroke-width="0.95" fill="none"/>
<path d="M593.50,40.45L593.50,43.75M592.07,41.27L594.93,42.93M594.93,41.27L592.07,42.93M598.15,40.45L598.15,43.75M596.72,41.27L599.58,42.93M599.58,41.27L596.72,42.93M602.80,40.45L602.80,43.75M601.37,41.27L604.23,42.93M604.23,41.27L601.37,42.93" stroke="#111" stroke-width="1.05" fill="none" stroke-linecap="butt"/>
<text x="503.55" y="163.70" font-size="10" text-anchor="middle" fill="#1a1a1a" stroke="#1a1a1a" stroke-width="0.200">vehicle</text>
<text x="550.85" y="163.70" font-size="10" text-anchor="middle" fill="#1a1a1a" stroke="#1a1a1a" stroke-width="0.200">Erastin</text>
<text x="598.15" y="163.70" font-size="10" text-anchor="middle" fill="#1a1a1a" stroke="#1a1a1a" stroke-width="0.200">RSL3</text>
<text x="461.20" y="101.00" font-size="10" text-anchor="middle" fill="#1a1a1a" stroke="#1a1a1a" stroke-width="0.200" transform="rotate(-90 461.20 101.00)">Lipid ROS positive (%)</text>
<rect x="617.85" y="22.15" width="8.30" height="5.50" fill="none" stroke="#111" stroke-width="1.7"/>
<text x="632.40" y="28.10" font-size="10" text-anchor="start" fill="#1a1a1a" stroke="#1a1a1a" stroke-width="0.200">con-sh</text>
<rect x="617.85" y="37.15" width="8.30" height="5.60" fill="none" stroke="#ff1a1a" stroke-width="1.7"/>
<text x="632.40" y="43.30" font-size="10" text-anchor="start" fill="#1a1a1a" stroke="#1a1a1a" stroke-width="0.200">USP35-sh#1</text>
<rect x="617.85" y="51.95" width="8.30" height="5.70" fill="none" stroke="#2222ff" stroke-width="1.7"/>
<text x="632.40" y="58.10" font-size="10" text-anchor="start" fill="#1a1a1a" stroke="#1a1a1a" stroke-width="0.200">USP35-sh#2</text>
<text x="255.90" y="178.00" font-size="10" text-anchor="start" fill="#1a1a1a" stroke="#1a1a1a" stroke-width="0.200">ZR-75-1</text>
<path d="M245.10,209.30 L245.60,209.30 L246.10,209.30 L246.60,209.30 L247.10,209.30 L247.60,209.30 L248.10,209.30 L248.60,209.30 L249.10,209.30 L249.60,209.30 L250.10,209.30 L250.60,209.30 L251.10,209.30 L251.60,209.30 L252.10,209.30 L252.60,209.30 L253.10,209.30 L253.60,209.30 L254.10,209.30 L254.60,209.30 L255.10,209.30 L255.60,209.30 L256.10,209.30 L256.60,209.30 L257.10,209.30 L257.60,209.30 L258.10,209.30 L258.60,209.30 L259.10,209.30 L259.60,209.30 L260.10,209.30 L260.60,209.30 L261.10,209.30 L261.60,209.30 L262.10,209.30 L262.60,209.30 L263.10,209.30 L263.60,209.30 L264.10,209.30 L264.60,209.30 L265.10,209.30 L265.60,209.30 L266.10,209.30 L266.60,209.30 L267.10,209.30 L267.60,209.30 L268.10,209.30 L268.60,209.30 L269.10,209.29 L269.60,209.29 L270.10,209.29 L270.60,209.29 L271.10,209.28 L271.60,209.28 L272.10,209.27 L272.60,209.26 L273.10,209.25 L273.60,209.24 L274.10,209.22 L274.60,209.20 L275.10,209.17 L275.60,209.14 L276.10,209.10 L276.60,209.06 L277.10,209.00 L277.60,208.94 L278.10,208.86 L278.60,208.77 L279.10,208.66 L279.60,208.54 L280.10,208.35 L280.60,208.20 L281.10,208.06 L281.60,207.87 L282.10,207.62 L282.60,207.45 L283.10,207.10 L283.60,206.75 L284.10,206.42 L284.60,206.11 L285.10,205.73 L285.60,205.30 L286.10,204.69 L286.60,204.14 L287.10,203.61 L287.60,203.02 L288.10,202.70 L288.60,202.47 L289.10,201.84 L289.60,201.10 L290.10,200.55 L290.60,199.90 L291.10,199.08 L291.60,198.63 L292.10,198.01 L292.60,197.38 L293.10,196.51 L293.60,196.20 L294.10,195.75 L294.60,195.14 L295.10,194.72 L295.60,194.89 L296.10,193.88 L296.60,193.37 L297.10,193.50 L297.60,192.83 L298.10,192.57 L298.60,192.54 L299.10,192.96 L299.60,192.94 L300.10,193.25 L300.60,192.80 L301.10,192.77 L301.60,192.61 L302.10,192.10 L302.60,192.00 L303.10,192.23 L303.60,192.51 L304.10,192.68 L304.60,192.93 L305.10,193.23 L305.60,193.74 L306.10,194.09 L306.60,194.24 L307.10,195.12 L307.60,195.13 L308.10,195.19 L308.60,195.83 L309.10,196.19 L309.60,196.33 L310.10,197.45 L310.60,198.43 L311.10,199.00 L311.60,199.77 L312.10,200.40 L312.60,200.93 L313.10,201.48 L313.60,202.10 L314.10,202.47 L314.60,203.23 L315.10,203.53 L315.60,203.94 L316.10,204.45 L316.60,205.11 L317.10,205.46 L317.60,205.96 L318.10,206.41 L318.60,206.74 L319.10,206.96 L319.60,207.20 L320.10,207.44 L320.60,207.67 L321.10,207.86 L321.60,208.12 L322.10,208.30 L322.60,208.46 L323.10,208.59 L323.60,208.71 L324.10,208.81 L324.60,208.89 L325.10,208.96 L325.60,209.02 L326.10,209.07 L326.60,209.12 L327.10,209.15 L327.60,209.18 L328.10,209.21 L328.60,209.23 L329.10,209.24 L329.60,209.25 L330.10,209.26 L330.60,209.27 L331.10,209.28 L331.60,209.28 L332.10,209.29 L332.60,209.29 L333.10,209.29 L333.60,209.29 L334.10,209.30 L334.60,209.30 L335.10,209.30 L335.60,209.30 L336.10,209.30 L336.60,209.30 L337.10,209.30 L337.60,209.30 L338.10,209.30 L338.60,209.30 L339.10,209.30 L339.60,209.30 L340.10,209.30 L340.60,209.30 L341.10,209.30 L341.60,209.30 L342.10,209.30 L342.60,209.30 L343.10,209.30 L343.60,209.30 L344.10,209.30 L344.60,209.30 L345.10,209.30 L345.60,209.30 L346.10,209.30 L346.60,209.30 L347.10,209.30 L347.60,209.30 L348.10,209.30 L348.60,209.30 L349.10,209.30 L349.60,209.30 L350.10,209.30 L350.60,209.30 L351.10,209.30 L351.60,209.30 L352.10,209.30 L352.60,209.30 L353.10,209.30 L353.60,209.30 L354.10,209.30 L354.60,209.30 L354.90,209.30 L245.10,209.30 Z" fill="#90f570" fill-opacity="0.5" stroke="none"/>
<path d="M279.10,208.66 L279.60,208.54 L280.10,208.35 L280.60,208.20 L281.10,208.06 L281.60,207.87 L282.10,207.62 L282.60,207.45 L283.10,207.10 L283.60,206.75 L284.10,206.42 L284.60,206.11 L285.10,205.73 L285.60,205.30 L286.10,204.69 L286.60,204.14 L287.10,203.61 L287.60,203.02 L288.10,202.70 L288.60,202.47 L289.10,201.84 L289.60,201.10 L290.10,200.55 L290.60,199.90 L291.10,199.08 L291.60,198.63 L292.10,198.01 L292.60,197.38 L293.10,196.51 L293.60,196.20 L294.10,195.75 L294.60,195.14 L295.10,194.72 L295.60,194.89 L296.10,193.88 L296.60,193.37 L297.10,193.50 L297.60,192.83 L298.10,192.57 L298.60,192.54 L299.10,192.96 L299.60,192.94 L300.10,193.25 L300.60,192.80 L301.10,192.77 L301.60,192.61 L302.10,192.10 L302.60,192.00 L303.10,192.23 L303.60,192.51 L304.10,192.68 L304.60,192.93 L305.10,193.23 L305.60,193.74 L306.10,194.09 L306.60,194.24 L307.10,195.12 L307.60,195.13 L308.10,195.19 L308.60,195.83 L309.10,196.19 L309.60,196.33 L310.10,197.45 L310.60,198.43 L311.10,199.00 L311.60,199.77 L312.10,200.40 L312.60,200.93 L313.10,201.48 L313.60,202.10 L314.10,202.47 L314.60,203.23 L315.10,203.53 L315.60,203.94 L316.10,204.45 L316.60,205.11 L317.10,205.46 L317.60,205.96 L318.10,206.41 L318.60,206.74 L319.10,206.96 L319.60,207.20 L320.10,207.44 L320.60,207.67 L321.10,207.86 L321.60,208.12 L322.10,208.30 L322.60,208.46 L323.10,208.59" fill="none" stroke="#86f060" stroke-width="0.8" stroke-opacity="0.85"/>
<line x1="245.10" y1="209.30" x2="354.90" y2="209.30" stroke="#86f060" stroke-width="0.6" stroke-opacity="0.4"/>
<path d="M245.10,219.70 L245.60,219.70 L246.10,219.70 L246.60,219.70 L247.10,219.70 L247.60,219.70 L248.10,219.70 L248.60,219.70 L249.10,219.70 L249.60,219.70 L250.10,219.70 L250.60,219.70 L251.10,219.70 L251.60,219.70 L252.10,219.70 L252.60,219.70 L253.10,219.70 L253.60,219.70 L254.10,219.70 L254.60,219.70 L255.10,219.70 L255.60,219.70 L256.10,219.70 L256.60,219.70 L257.10,219.70 L257.60,219.70 L258.10,219.70 L258.60,219.70 L259.10,219.70 L259.60,219.70 L260.10,219.70 L260.60,219.70 L261.10,219.70 L261.60,219.70 L262.10,219.70 L262.60,219.70 L263.10,219.70 L263.60,219.70 L264.10,219.70 L264.60,219.70 L265.10,219.70 L265.60,219.70 L266.10,219.70 L266.60,219.70 L267.10,219.70 L267.60,219.70 L268.10,219.70 L268.60,219.70 L269.10,219.70 L269.60,219.70 L270.10,219.70 L270.60,219.70 L271.10,219.70 L271.60,219.70 L272.10,219.70 L272.60,219.70 L273.10,219.70 L273.60,219.70 L274.10,219.70 L274.60,219.69 L275.10,219.69 L275.60,219.69 L276.10,219.69 L276.60,219.69 L277.10,219.68 L277.60,219.68 L278.10,219.67 L278.60,219.66 L279.10,219.65 L279.60,219.64 L280.10,219.62 L280.60,219.60 L281.10,219.58 L281.60,219.55 L282.10,219.51 L282.60,219.47 L283.10,219.42 L283.60,219.37 L284.10,219.30 L284.60,219.22 L285.10,219.14 L285.60,219.03 L286.10,218.94 L286.60,218.82 L287.10,218.64 L287.60,218.48 L288.10,218.25 L288.60,218.02 L289.10,217.75 L289.60,217.52 L290.10,217.32 L290.60,217.07 L291.10,216.78 L291.60,216.46 L292.10,216.09 L292.60,215.67 L293.10,215.18 L293.60,214.62 L294.10,214.04 L294.60,213.58 L295.10,213.07 L295.60,212.56 L296.10,212.25 L296.60,211.61 L297.10,211.12 L297.60,210.43 L298.10,210.08 L298.60,209.39 L299.10,209.25 L299.60,208.86 L300.10,208.36 L300.60,208.05 L301.10,207.38 L301.60,206.65 L302.10,206.46 L302.60,206.46 L303.10,205.79 L303.60,205.68 L304.10,205.81 L304.60,205.24 L305.10,204.73 L305.60,204.67 L306.10,204.59 L306.60,203.91 L307.10,204.21 L307.60,203.92 L308.10,203.90 L308.60,203.97 L309.10,204.59 L309.60,204.52 L310.10,204.71 L310.60,204.83 L311.10,204.84 L311.60,205.02 L312.10,205.26 L312.60,205.65 L313.10,206.31 L313.60,206.79 L314.10,207.17 L314.60,207.48 L315.10,207.86 L315.60,207.90 L316.10,208.56 L316.60,208.93 L317.10,209.41 L317.60,210.13 L318.10,210.87 L318.60,211.43 L319.10,212.04 L319.60,212.61 L320.10,212.94 L320.60,213.52 L321.10,213.86 L321.60,214.24 L322.10,214.66 L322.60,215.25 L323.10,215.71 L323.60,216.18 L324.10,216.64 L324.60,217.06 L325.10,217.40 L325.60,217.72 L326.10,217.98 L326.60,218.22 L327.10,218.45 L327.60,218.64 L328.10,218.80 L328.60,218.95 L329.10,219.04 L329.60,219.15 L330.10,219.25 L330.60,219.33 L331.10,219.40 L331.60,219.46 L332.10,219.51 L332.60,219.54 L333.10,219.58 L333.60,219.60 L334.10,219.62 L334.60,219.64 L335.10,219.65 L335.60,219.67 L336.10,219.67 L336.60,219.68 L337.10,219.69 L337.60,219.69 L338.10,219.69 L338.60,219.69 L339.10,219.70 L339.60,219.70 L340.10,219.70 L340.60,219.70 L341.10,219.70 L341.60,219.70 L342.10,219.70 L342.60,219.70 L343.10,219.70 L343.60,219.70 L344.10,219.70 L344.60,219.70 L345.10,219.70 L345.60,219.70 L346.10,219.70 L346.60,219.70 L347.10,219.70 L347.60,219.70 L348.10,219.70 L348.60,219.70 L349.10,219.70 L349.60,219.70 L350.10,219.70 L350.60,219.70 L351.10,219.70 L351.60,219.70 L352.10,219.70 L352.60,219.70 L353.10,219.70 L353.60,219.70 L354.10,219.70 L354.60,219.70 L354.90,219.70 L245.10,219.70 Z" fill="#5a9a48" fill-opacity="0.5" stroke="none"/>
<path d="M285.60,219.03 L286.10,218.94 L286.60,218.82 L287.10,218.64 L287.60,218.48 L288.10,218.25 L288.60,218.02 L289.10,217.75 L289.60,217.52 L290.10,217.32 L290.60,217.07 L291.10,216.78 L291.60,216.46 L292.10,216.09 L292.60,215.67 L293.10,215.18 L293.60,214.62 L294.10,214.04 L294.60,213.58 L295.10,213.07 L295.60,212.56 L296.10,212.25 L296.60,211.61 L297.10,211.12 L297.60,210.43 L298.10,210.08 L298.60,209.39 L299.10,209.25 L299.60,208.86 L300.10,208.36 L300.60,208.05 L301.10,207.38 L301.60,206.65 L302.10,206.46 L302.60,206.46 L303.10,205.79 L303.60,205.68 L304.10,205.81 L304.60,205.24 L305.10,204.73 L305.60,204.67 L306.10,204.59 L306.60,203.91 L307.10,204.21 L307.60,203.92 L308.10,203.90 L308.60,203.97 L309.10,204.59 L309.60,204.52 L310.10,204.71 L310.60,204.83 L311.10,204.84 L311.60,205.02 L312.10,205.26 L312.60,205.65 L313.10,206.31 L313.60,206.79 L314.10,207.17 L314.60,207.48 L315.10,207.86 L315.60,207.90 L316.10,208.56 L316.60,208.93 L317.10,209.41 L317.60,210.13 L318.10,210.87 L318.60,211.43 L319.10,212.04 L319.60,212.61 L320.10,212.94 L320.60,213.52 L321.10,213.86 L321.60,214.24 L322.10,214.66 L322.60,215.25 L323.10,215.71 L323.60,216.18 L324.10,216.64 L324.60,217.06 L325.10,217.40 L325.60,217.72 L326.10,217.98 L326.60,218.22 L327.10,218.45 L327.60,218.64 L328.10,218.80 L328.60,218.95 L329.10,219.04" fill="none" stroke="#4d8f3d" stroke-width="0.8" stroke-opacity="0.85"/>
<line x1="245.10" y1="219.70" x2="354.90" y2="219.70" stroke="#4d8f3d" stroke-width="0.6" stroke-opacity="0.4"/>
<path d="M245.10,230.70 L245.60,230.70 L246.10,230.70 L246.60,230.70 L247.10,230.70 L247.60,230.70 L248.10,230.70 L248.60,230.70 L249.10,230.70 L249.60,230.70 L250.10,230.70 L250.60,230.70 L251.10,230.70 L251.60,230.70 L252.10,230.70 L252.60,230.70 L253.10,230.70 L253.60,230.70 L254.10,230.70 L254.60,230.70 L255.10,230.70 L255.60,230.70 L256.10,230.70 L256.60,230.70 L257.10,230.70 L257.60,230.70 L258.10,230.70 L258.60,230.70 L259.10,230.70 L259.60,230.70 L260.10,230.70 L260.60,230.70 L261.10,230.70 L261.60,230.70 L262.10,230.70 L262.60,230.70 L263.10,230.70 L263.60,230.70 L264.10,230.70 L264.60,230.70 L265.10,230.70 L265.60,230.70 L266.10,230.70 L266.60,230.70 L267.10,230.70 L267.60,230.70 L268.10,230.70 L268.60,230.70 L269.10,230.70 L269.60,230.70 L270.10,230.70 L270.60,230.70 L271.10,230.70 L271.60,230.70 L272.10,230.69 L272.60,230.69 L273.10,230.69 L273.60,230.69 L274.10,230.68 L274.60,230.68 L275.10,230.67 L275.60,230.66 L276.10,230.65 L276.60,230.63 L277.10,230.61 L277.60,230.59 L278.10,230.55 L278.60,230.52 L279.10,230.47 L279.60,230.42 L280.10,230.35 L280.60,230.27 L281.10,230.17 L281.60,230.06 L282.10,229.93 L282.60,229.85 L283.10,229.69 L283.60,229.50 L284.10,229.29 L284.60,229.02 L285.10,228.70 L285.60,228.39 L286.10,228.09 L286.60,227.73 L287.10,227.39 L287.60,227.08 L288.10,226.64 L288.60,226.04 L289.10,225.43 L289.60,224.79 L290.10,224.22 L290.60,223.58 L291.10,222.95 L291.60,222.40 L292.10,221.90 L292.60,221.06 L293.10,220.51 L293.60,219.97 L294.10,219.39 L294.60,218.64 L295.10,217.89 L295.60,217.22 L296.10,216.62 L296.60,216.34 L297.10,215.84 L297.60,215.96 L298.10,215.47 L298.60,215.21 L299.10,215.14 L299.60,214.98 L300.10,214.86 L300.60,214.77 L301.10,214.44 L301.60,214.06 L302.10,214.08 L302.60,213.40 L303.10,213.20 L303.60,213.59 L304.10,213.88 L304.60,213.71 L305.10,214.10 L305.60,214.46 L306.10,214.81 L306.60,215.27 L307.10,216.10 L307.60,216.43 L308.10,216.80 L308.60,216.98 L309.10,217.28 L309.60,217.70 L310.10,218.29 L310.60,219.05 L311.10,219.55 L311.60,220.08 L312.10,220.77 L312.60,221.44 L313.10,221.84 L313.60,222.49 L314.10,223.12 L314.60,223.56 L315.10,224.09 L315.60,224.83 L316.10,225.53 L316.60,226.11 L317.10,226.76 L317.60,227.23 L318.10,227.61 L318.60,227.94 L319.10,228.30 L319.60,228.52 L320.10,228.81 L320.60,229.08 L321.10,229.35 L321.60,229.52 L322.10,229.72 L322.60,229.91 L323.10,230.04 L323.60,230.15 L324.10,230.25 L324.60,230.33 L325.10,230.40 L325.60,230.46 L326.10,230.51 L326.60,230.55 L327.10,230.58 L327.60,230.61 L328.10,230.63 L328.60,230.64 L329.10,230.66 L329.60,230.67 L330.10,230.67 L330.60,230.68 L331.10,230.69 L331.60,230.69 L332.10,230.69 L332.60,230.69 L333.10,230.70 L333.60,230.70 L334.10,230.70 L334.60,230.70 L335.10,230.70 L335.60,230.70 L336.10,230.70 L336.60,230.70 L337.10,230.70 L337.60,230.70 L338.10,230.70 L338.60,230.70 L339.10,230.70 L339.60,230.70 L340.10,230.70 L340.60,230.70 L341.10,230.70 L341.60,230.70 L342.10,230.70 L342.60,230.70 L343.10,230.70 L343.60,230.70 L344.10,230.70 L344.60,230.70 L345.10,230.70 L345.60,230.70 L346.10,230.70 L346.60,230.70 L347.10,230.70 L347.60,230.70 L348.10,230.70 L348.60,230.70 L349.10,230.70 L349.60,230.70 L350.10,230.70 L350.60,230.70 L351.10,230.70 L351.60,230.70 L352.10,230.70 L352.60,230.70 L353.10,230.70 L353.60,230.70 L354.10,230.70 L354.60,230.70 L354.90,230.70 L245.10,230.70 Z" fill="#e8aa66" fill-opacity="0.5" stroke="none"/>
<path d="M281.60,230.06 L282.10,229.93 L282.60,229.85 L283.10,229.69 L283.60,229.50 L284.10,229.29 L284.60,229.02 L285.10,228.70 L285.60,228.39 L286.10,228.09 L286.60,227.73 L287.10,227.39 L287.60,227.08 L288.10,226.64 L288.60,226.04 L289.10,225.43 L289.60,224.79 L290.10,224.22 L290.60,223.58 L291.10,222.95 L291.60,222.40 L292.10,221.90 L292.60,221.06 L293.10,220.51 L293.60,219.97 L294.10,219.39 L294.60,218.64 L295.10,217.89 L295.60,217.22 L296.10,216.62 L296.60,216.34 L297.10,215.84 L297.60,215.96 L298.10,215.47 L298.60,215.21 L299.10,215.14 L299.60,214.98 L300.10,214.86 L300.60,214.77 L301.10,214.44 L301.60,214.06 L302.10,214.08 L302.60,213.40 L303.10,213.20 L303.60,213.59 L304.10,213.88 L304.60,213.71 L305.10,214.10 L305.60,214.46 L306.10,214.81 L306.60,215.27 L307.10,216.10 L307.60,216.43 L308.10,216.80 L308.60,216.98 L309.10,217.28 L309.60,217.70 L310.10,218.29 L310.60,219.05 L311.10,219.55 L311.60,220.08 L312.10,220.77 L312.60,221.44 L313.10,221.84 L313.60,222.49 L314.10,223.12 L314.60,223.56 L315.10,224.09 L315.60,224.83 L316.10,225.53 L316.60,226.11 L317.10,226.76 L317.60,227.23 L318.10,227.61 L318.60,227.94 L319.10,228.30 L319.60,228.52 L320.10,228.81 L320.60,229.08 L321.10,229.35 L321.60,229.52 L322.10,229.72 L322.60,229.91 L323.10,230.04" fill="none" stroke="#e6a05a" stroke-width="0.8" stroke-opacity="0.85"/>
<line x1="245.10" y1="230.70" x2="354.90" y2="230.70" stroke="#e6a05a" stroke-width="0.6" stroke-opacity="0.4"/>
<path d="M245.10,241.60 L245.60,241.60 L246.10,241.60 L246.60,241.60 L247.10,241.60 L247.60,241.60 L248.10,241.60 L248.60,241.60 L249.10,241.60 L249.60,241.60 L250.10,241.60 L250.60,241.60 L251.10,241.60 L251.60,241.60 L252.10,241.60 L252.60,241.60 L253.10,241.60 L253.60,241.60 L254.10,241.60 L254.60,241.60 L255.10,241.60 L255.60,241.60 L256.10,241.60 L256.60,241.60 L257.10,241.60 L257.60,241.60 L258.10,241.60 L258.60,241.60 L259.10,241.60 L259.60,241.60 L260.10,241.60 L260.60,241.60 L261.10,241.60 L261.60,241.60 L262.10,241.60 L262.60,241.60 L263.10,241.60 L263.60,241.60 L264.10,241.60 L264.60,241.60 L265.10,241.60 L265.60,241.60 L266.10,241.60 L266.60,241.60 L267.10,241.60 L267.60,241.60 L268.10,241.60 L268.60,241.60 L269.10,241.60 L269.60,241.60 L270.10,241.60 L270.60,241.60 L271.10,241.60 L271.60,241.60 L272.10,241.60 L272.60,241.59 L273.10,241.59 L273.60,241.59 L274.10,241.59 L274.60,241.58 L275.10,241.58 L275.60,241.57 L276.10,241.56 L276.60,241.55 L277.10,241.53 L277.60,241.52 L278.10,241.49 L278.60,241.47 L279.10,241.44 L279.60,241.40 L280.10,241.35 L280.60,241.30 L281.10,241.23 L281.60,241.16 L282.10,241.07 L282.60,240.96 L283.10,240.84 L283.60,240.71 L284.10,240.56 L284.60,240.40 L285.10,240.20 L285.60,239.98 L286.10,239.74 L286.60,239.42 L287.10,239.08 L287.60,238.70 L288.10,238.28 L288.60,237.89 L289.10,237.60 L289.60,237.25 L290.10,236.80 L290.60,236.27 L291.10,235.75 L291.60,235.01 L292.10,234.41 L292.60,233.98 L293.10,233.37 L293.60,232.64 L294.10,232.20 L294.60,231.90 L295.10,231.50 L295.60,230.86 L296.10,230.30 L296.60,229.62 L297.10,228.90 L297.60,228.19 L298.10,228.25 L298.60,227.50 L299.10,227.46 L299.60,226.82 L300.10,226.64 L300.60,226.21 L301.10,226.56 L301.60,226.01 L302.10,225.72 L302.60,225.23 L303.10,224.85 L303.60,224.65 L304.10,224.40 L304.60,225.02 L305.10,225.31 L305.60,225.38 L306.10,225.11 L306.60,225.70 L307.10,225.43 L307.60,225.67 L308.10,226.25 L308.60,226.63 L309.10,226.68 L309.60,226.77 L310.10,226.88 L310.60,226.67 L311.10,226.91 L311.60,227.16 L312.10,227.83 L312.60,228.44 L313.10,229.22 L313.60,229.89 L314.10,230.89 L314.60,231.78 L315.10,232.45 L315.60,233.10 L316.10,233.96 L316.60,234.51 L317.10,235.10 L317.60,235.47 L318.10,236.05 L318.60,236.45 L319.10,237.01 L319.60,237.43 L320.10,237.89 L320.60,238.25 L321.10,238.60 L321.60,238.97 L322.10,239.27 L322.60,239.60 L323.10,239.91 L323.60,240.19 L324.10,240.36 L324.60,240.58 L325.10,240.77 L325.60,240.89 L326.10,241.01 L326.60,241.12 L327.10,241.20 L327.60,241.28 L328.10,241.34 L328.60,241.39 L329.10,241.43 L329.60,241.47 L330.10,241.50 L330.60,241.52 L331.10,241.54 L331.60,241.55 L332.10,241.56 L332.60,241.57 L333.10,241.58 L333.60,241.58 L334.10,241.59 L334.60,241.59 L335.10,241.59 L335.60,241.60 L336.10,241.60 L336.60,241.60 L337.10,241.60 L337.60,241.60 L338.10,241.60 L338.60,241.60 L339.10,241.60 L339.60,241.60 L340.10,241.60 L340.60,241.60 L341.10,241.60 L341.60,241.60 L342.10,241.60 L342.60,241.60 L343.10,241.60 L343.60,241.60 L344.10,241.60 L344.60,241.60 L345.10,241.60 L345.60,241.60 L346.10,241.60 L346.60,241.60 L347.10,241.60 L347.60,241.60 L348.10,241.60 L348.60,241.60 L349.10,241.60 L349.60,241.60 L350.10,241.60 L350.60,241.60 L351.10,241.60 L351.60,241.60 L352.10,241.60 L352.60,241.60 L353.10,241.60 L353.60,241.60 L354.10,241.60 L354.60,241.60 L354.90,241.60 L245.10,241.60 Z" fill="#c9a0a0" fill-opacity="0.45" stroke="none"/>
<path d="M282.60,240.96 L283.10,240.84 L283.60,240.71 L284.10,240.56 L284.60,240.40 L285.10,240.20 L285.60,239.98 L286.10,239.74 L286.60,239.42 L287.10,239.08 L287.60,238.70 L288.10,238.28 L288.60,237.89 L289.10,237.60 L289.60,237.25 L290.10,236.80 L290.60,236.27 L291.10,235.75 L291.60,235.01 L292.10,234.41 L292.60,233.98 L293.10,233.37 L293.60,232.64 L294.10,232.20 L294.60,231.90 L295.10,231.50 L295.60,230.86 L296.10,230.30 L296.60,229.62 L297.10,228.90 L297.60,228.19 L298.10,228.25 L298.60,227.50 L299.10,227.46 L299.60,226.82 L300.10,226.64 L300.60,226.21 L301.10,226.56 L301.60,226.01 L302.10,225.72 L302.60,225.23 L303.10,224.85 L303.60,224.65 L304.10,224.40 L304.60,225.02 L305.10,225.31 L305.60,225.38 L306.10,225.11 L306.60,225.70 L307.10,225.43 L307.60,225.67 L308.10,226.25 L308.60,226.63 L309.10,226.68 L309.60,226.77 L310.10,226.88 L310.60,226.67 L311.10,226.91 L311.60,227.16 L312.10,227.83 L312.60,228.44 L313.10,229.22 L313.60,229.89 L314.10,230.89 L314.60,231.78 L315.10,232.45 L315.60,233.10 L316.10,233.96 L316.60,234.51 L317.10,235.10 L317.60,235.47 L318.10,236.05 L318.60,236.45 L319.10,237.01 L319.60,237.43 L320.10,237.89 L320.60,238.25 L321.10,238.60 L321.60,238.97 L322.10,239.27 L322.60,239.60 L323.10,239.91 L323.60,240.19 L324.10,240.36 L324.60,240.58 L325.10,240.77 L325.60,240.89" fill="none" stroke="#c99a9a" stroke-width="0.8" stroke-opacity="0.85"/>
<line x1="245.10" y1="241.60" x2="354.90" y2="241.60" stroke="#c99a9a" stroke-width="0.6" stroke-opacity="0.4"/>
<path d="M245.10,252.50 L245.60,252.50 L246.10,252.50 L246.60,252.50 L247.10,252.50 L247.60,252.50 L248.10,252.50 L248.60,252.50 L249.10,252.50 L249.60,252.50 L250.10,252.50 L250.60,252.50 L251.10,252.50 L251.60,252.50 L252.10,252.50 L252.60,252.50 L253.10,252.50 L253.60,252.50 L254.10,252.50 L254.60,252.50 L255.10,252.50 L255.60,252.50 L256.10,252.50 L256.60,252.50 L257.10,252.50 L257.60,252.50 L258.10,252.50 L258.60,252.50 L259.10,252.50 L259.60,252.50 L260.10,252.50 L260.60,252.50 L261.10,252.50 L261.60,252.50 L262.10,252.50 L262.60,252.50 L263.10,252.50 L263.60,252.50 L264.10,252.50 L264.60,252.50 L265.10,252.50 L265.60,252.50 L266.10,252.50 L266.60,252.50 L267.10,252.50 L267.60,252.50 L268.10,252.50 L268.60,252.50 L269.10,252.50 L269.60,252.50 L270.10,252.50 L270.60,252.50 L271.10,252.50 L271.60,252.50 L272.10,252.50 L272.60,252.50 L273.10,252.50 L273.60,252.50 L274.10,252.50 L274.60,252.50 L275.10,252.50 L275.60,252.50 L276.10,252.50 L276.60,252.50 L277.10,252.50 L277.60,252.50 L278.10,252.50 L278.60,252.50 L279.10,252.49 L279.60,252.49 L280.10,252.49 L280.60,252.49 L281.10,252.48 L281.60,252.48 L282.10,252.47 L282.60,252.46 L283.10,252.45 L283.60,252.43 L284.10,252.41 L284.60,252.39 L285.10,252.36 L285.60,252.33 L286.10,252.29 L286.60,252.24 L287.10,252.18 L287.60,252.11 L288.10,252.03 L288.60,251.93 L289.10,251.82 L289.60,251.65 L290.10,251.50 L290.60,251.30 L291.10,251.13 L291.60,250.86 L292.10,250.66 L292.60,250.39 L293.10,250.10 L293.60,249.71 L294.10,249.42 L294.60,248.96 L295.10,248.51 L295.60,248.01 L296.10,247.47 L296.60,246.98 L297.10,246.58 L297.60,246.10 L298.10,245.67 L298.60,245.08 L299.10,244.41 L299.60,243.53 L300.10,243.24 L300.60,242.43 L301.10,242.13 L301.60,241.44 L302.10,241.09 L302.60,240.21 L303.10,239.99 L303.60,239.22 L304.10,238.69 L304.60,238.43 L305.10,237.99 L305.60,237.59 L306.10,237.36 L306.60,237.35 L307.10,236.90 L307.60,237.13 L308.10,237.09 L308.60,236.86 L309.10,237.05 L309.60,236.98 L310.10,236.75 L310.60,236.70 L311.10,237.17 L311.60,236.81 L312.10,237.31 L312.60,237.53 L313.10,237.99 L313.60,238.08 L314.10,238.82 L314.60,238.88 L315.10,239.14 L315.60,239.54 L316.10,240.22 L316.60,240.51 L317.10,240.82 L317.60,241.39 L318.10,241.73 L318.60,242.32 L319.10,242.79 L319.60,243.82 L320.10,244.28 L320.60,244.93 L321.10,245.50 L321.60,246.10 L322.10,246.68 L322.60,247.41 L323.10,247.91 L323.60,248.34 L324.10,248.93 L324.60,249.37 L325.10,249.73 L325.60,250.14 L326.10,250.47 L326.60,250.71 L327.10,250.93 L327.60,251.18 L328.10,251.37 L328.60,251.57 L329.10,251.80 L329.60,251.93 L330.10,252.04 L330.60,252.13 L331.10,252.20 L331.60,252.26 L332.10,252.31 L332.60,252.35 L333.10,252.39 L333.60,252.41 L334.10,252.43 L334.60,252.45 L335.10,252.46 L335.60,252.47 L336.10,252.48 L336.60,252.49 L337.10,252.49 L337.60,252.49 L338.10,252.49 L338.60,252.50 L339.10,252.50 L339.60,252.50 L340.10,252.50 L340.60,252.50 L341.10,252.50 L341.60,252.50 L342.10,252.50 L342.60,252.50 L343.10,252.50 L343.60,252.50 L344.10,252.50 L344.60,252.50 L345.10,252.50 L345.60,252.50 L346.10,252.50 L346.60,252.50 L347.10,252.50 L347.60,252.50 L348.10,252.50 L348.60,252.50 L349.10,252.50 L349.60,252.50 L350.10,252.50 L350.60,252.50 L351.10,252.50 L351.60,252.50 L352.10,252.50 L352.60,252.50 L353.10,252.50 L353.60,252.50 L354.10,252.50 L354.60,252.50 L354.90,252.50 L245.10,252.50 Z" fill="#e45f5f" fill-opacity="0.5" stroke="none"/>
<path d="M289.10,251.82 L289.60,251.65 L290.10,251.50 L290.60,251.30 L291.10,251.13 L291.60,250.86 L292.10,250.66 L292.60,250.39 L293.10,250.10 L293.60,249.71 L294.10,249.42 L294.60,248.96 L295.10,248.51 L295.60,248.01 L296.10,247.47 L296.60,246.98 L297.10,246.58 L297.60,246.10 L298.10,245.67 L298.60,245.08 L299.10,244.41 L299.60,243.53 L300.10,243.24 L300.60,242.43 L301.10,242.13 L301.60,241.44 L302.10,241.09 L302.60,240.21 L303.10,239.99 L303.60,239.22 L304.10,238.69 L304.60,238.43 L305.10,237.99 L305.60,237.59 L306.10,237.36 L306.60,237.35 L307.10,236.90 L307.60,237.13 L308.10,237.09 L308.60,236.86 L309.10,237.05 L309.60,236.98 L310.10,236.75 L310.60,236.70 L311.10,237.17 L311.60,236.81 L312.10,237.31 L312.60,237.53 L313.10,237.99 L313.60,238.08 L314.10,238.82 L314.60,238.88 L315.10,239.14 L315.60,239.54 L316.10,240.22 L316.60,240.51 L317.10,240.82 L317.60,241.39 L318.10,241.73 L318.60,242.32 L319.10,242.79 L319.60,243.82 L320.10,244.28 L320.60,244.93 L321.10,245.50 L321.60,246.10 L322.10,246.68 L322.60,247.41 L323.10,247.91 L323.60,248.34 L324.10,248.93 L324.60,249.37 L325.10,249.73 L325.60,250.14 L326.10,250.47 L326.60,250.71 L327.10,250.93 L327.60,251.18 L328.10,251.37 L328.60,251.57 L329.10,251.80" fill="none" stroke="#e05a5a" stroke-width="0.8" stroke-opacity="0.85"/>
<line x1="245.10" y1="252.50" x2="354.90" y2="252.50" stroke="#e05a5a" stroke-width="0.6" stroke-opacity="0.4"/>
<path d="M245.10,263.30 L245.60,263.30 L246.10,263.30 L246.60,263.30 L247.10,263.30 L247.60,263.30 L248.10,263.30 L248.60,263.30 L249.10,263.30 L249.60,263.30 L250.10,263.30 L250.60,263.30 L251.10,263.30 L251.60,263.30 L252.10,263.30 L252.60,263.30 L253.10,263.30 L253.60,263.30 L254.10,263.30 L254.60,263.30 L255.10,263.30 L255.60,263.30 L256.10,263.30 L256.60,263.30 L257.10,263.30 L257.60,263.30 L258.10,263.30 L258.60,263.30 L259.10,263.30 L259.60,263.30 L260.10,263.30 L260.60,263.30 L261.10,263.30 L261.60,263.30 L262.10,263.30 L262.60,263.30 L263.10,263.30 L263.60,263.30 L264.10,263.30 L264.60,263.30 L265.10,263.30 L265.60,263.30 L266.10,263.30 L266.60,263.30 L267.10,263.30 L267.60,263.30 L268.10,263.30 L268.60,263.30 L269.10,263.30 L269.60,263.30 L270.10,263.30 L270.60,263.30 L271.10,263.30 L271.60,263.30 L272.10,263.30 L272.60,263.30 L273.10,263.30 L273.60,263.29 L274.10,263.29 L274.60,263.29 L275.10,263.29 L275.60,263.28 L276.10,263.28 L276.60,263.27 L277.10,263.26 L277.60,263.25 L278.10,263.23 L278.60,263.21 L279.10,263.19 L279.60,263.16 L280.10,263.13 L280.60,263.09 L281.10,263.03 L281.60,262.97 L282.10,262.90 L282.60,262.82 L283.10,262.72 L283.60,262.60 L284.10,262.46 L284.60,262.33 L285.10,262.17 L285.60,261.95 L286.10,261.69 L286.60,261.41 L287.10,261.07 L287.60,260.69 L288.10,260.37 L288.60,260.00 L289.10,259.66 L289.60,259.28 L290.10,258.91 L290.60,258.24 L291.10,257.75 L291.60,257.12 L292.10,256.61 L292.60,255.96 L293.10,255.46 L293.60,254.98 L294.10,254.15 L294.60,253.41 L295.10,252.90 L295.60,252.14 L296.10,251.55 L296.60,251.09 L297.10,250.59 L297.60,249.58 L298.10,249.55 L298.60,248.47 L299.10,248.06 L299.60,247.38 L300.10,247.38 L300.60,246.84 L301.10,246.78 L301.60,246.80 L302.10,246.44 L302.60,246.19 L303.10,245.71 L303.60,245.50 L304.10,245.51 L304.60,245.84 L305.10,246.21 L305.60,246.77 L306.10,247.36 L306.60,246.80 L307.10,246.93 L307.60,246.83 L308.10,246.56 L308.60,246.71 L309.10,247.70 L309.60,248.35 L310.10,248.94 L310.60,249.68 L311.10,250.13 L311.60,250.42 L312.10,250.81 L312.60,250.95 L313.10,251.46 L313.60,251.79 L314.10,252.43 L314.60,253.03 L315.10,253.72 L315.60,254.62 L316.10,255.29 L316.60,255.87 L317.10,256.70 L317.60,257.59 L318.10,258.09 L318.60,258.80 L319.10,259.34 L319.60,259.75 L320.10,260.08 L320.60,260.47 L321.10,260.83 L321.60,261.22 L322.10,261.49 L322.60,261.80 L323.10,262.03 L323.60,262.24 L324.10,262.40 L324.60,262.54 L325.10,262.68 L325.60,262.79 L326.10,262.89 L326.60,262.97 L327.10,263.03 L327.60,263.09 L328.10,263.13 L328.60,263.17 L329.10,263.20 L329.60,263.22 L330.10,263.24 L330.60,263.25 L331.10,263.27 L331.60,263.27 L332.10,263.28 L332.60,263.29 L333.10,263.29 L333.60,263.29 L334.10,263.29 L334.60,263.30 L335.10,263.30 L335.60,263.30 L336.10,263.30 L336.60,263.30 L337.10,263.30 L337.60,263.30 L338.10,263.30 L338.60,263.30 L339.10,263.30 L339.60,263.30 L340.10,263.30 L340.60,263.30 L341.10,263.30 L341.60,263.30 L342.10,263.30 L342.60,263.30 L343.10,263.30 L343.60,263.30 L344.10,263.30 L344.60,263.30 L345.10,263.30 L345.60,263.30 L346.10,263.30 L346.60,263.30 L347.10,263.30 L347.60,263.30 L348.10,263.30 L348.60,263.30 L349.10,263.30 L349.60,263.30 L350.10,263.30 L350.60,263.30 L351.10,263.30 L351.60,263.30 L352.10,263.30 L352.60,263.30 L353.10,263.30 L353.60,263.30 L354.10,263.30 L354.60,263.30 L354.90,263.30 L245.10,263.30 Z" fill="#b34ae8" fill-opacity="0.55" stroke="none"/>
<path d="M283.60,262.60 L284.10,262.46 L284.60,262.33 L285.10,262.17 L285.60,261.95 L286.10,261.69 L286.60,261.41 L287.10,261.07 L287.60,260.69 L288.10,260.37 L288.60,260.00 L289.10,259.66 L289.60,259.28 L290.10,258.91 L290.60,258.24 L291.10,257.75 L291.60,257.12 L292.10,256.61 L292.60,255.96 L293.10,255.46 L293.60,254.98 L294.10,254.15 L294.60,253.41 L295.10,252.90 L295.60,252.14 L296.10,251.55 L296.60,251.09 L297.10,250.59 L297.60,249.58 L298.10,249.55 L298.60,248.47 L299.10,248.06 L299.60,247.38 L300.10,247.38 L300.60,246.84 L301.10,246.78 L301.60,246.80 L302.10,246.44 L302.60,246.19 L303.10,245.71 L303.60,245.50 L304.10,245.51 L304.60,245.84 L305.10,246.21 L305.60,246.77 L306.10,247.36 L306.60,246.80 L307.10,246.93 L307.60,246.83 L308.10,246.56 L308.60,246.71 L309.10,247.70 L309.60,248.35 L310.10,248.94 L310.60,249.68 L311.10,250.13 L311.60,250.42 L312.10,250.81 L312.60,250.95 L313.10,251.46 L313.60,251.79 L314.10,252.43 L314.60,253.03 L315.10,253.72 L315.60,254.62 L316.10,255.29 L316.60,255.87 L317.10,256.70 L317.60,257.59 L318.10,258.09 L318.60,258.80 L319.10,259.34 L319.60,259.75 L320.10,260.08 L320.60,260.47 L321.10,260.83 L321.60,261.22 L322.10,261.49 L322.60,261.80 L323.10,262.03 L323.60,262.24 L324.10,262.40 L324.60,262.54 L325.10,262.68" fill="none" stroke="#a640e0" stroke-width="0.8" stroke-opacity="0.85"/>
<line x1="245.10" y1="263.30" x2="354.90" y2="263.30" stroke="#a640e0" stroke-width="0.6" stroke-opacity="0.4"/>
<path d="M245.10,274.20 L245.60,274.20 L246.10,274.20 L246.60,274.20 L247.10,274.20 L247.60,274.20 L248.10,274.20 L248.60,274.20 L249.10,274.20 L249.60,274.20 L250.10,274.20 L250.60,274.20 L251.10,274.20 L251.60,274.20 L252.10,274.20 L252.60,274.20 L253.10,274.20 L253.60,274.20 L254.10,274.20 L254.60,274.20 L255.10,274.20 L255.60,274.20 L256.10,274.20 L256.60,274.20 L257.10,274.20 L257.60,274.20 L258.10,274.20 L258.60,274.20 L259.10,274.20 L259.60,274.20 L260.10,274.20 L260.60,274.20 L261.10,274.20 L261.60,274.20 L262.10,274.20 L262.60,274.20 L263.10,274.20 L263.60,274.20 L264.10,274.20 L264.60,274.20 L265.10,274.20 L265.60,274.20 L266.10,274.20 L266.60,274.20 L267.10,274.20 L267.60,274.20 L268.10,274.20 L268.60,274.20 L269.10,274.20 L269.60,274.20 L270.10,274.20 L270.60,274.20 L271.10,274.20 L271.60,274.20 L272.10,274.19 L272.60,274.19 L273.10,274.19 L273.60,274.18 L274.10,274.18 L274.60,274.17 L275.10,274.16 L275.60,274.15 L276.10,274.13 L276.60,274.11 L277.10,274.08 L277.60,274.05 L278.10,274.01 L278.60,273.96 L279.10,273.90 L279.60,273.83 L280.10,273.74 L280.60,273.64 L281.10,273.52 L281.60,273.39 L282.10,273.25 L282.60,273.07 L283.10,272.85 L283.60,272.57 L284.10,272.28 L284.60,271.98 L285.10,271.68 L285.60,271.33 L286.10,271.00 L286.60,270.62 L287.10,270.16 L287.60,269.70 L288.10,269.16 L288.60,268.49 L289.10,268.01 L289.60,267.19 L290.10,266.58 L290.60,265.95 L291.10,265.70 L291.60,264.92 L292.10,264.35 L292.60,263.56 L293.10,263.18 L293.60,262.39 L294.10,262.11 L294.60,262.11 L295.10,261.98 L295.60,261.16 L296.10,261.00 L296.60,260.20 L297.10,259.67 L297.60,259.43 L298.10,259.69 L298.60,259.10 L299.10,259.22 L299.60,258.88 L300.10,258.82 L300.60,258.34 L301.10,258.31 L301.60,258.33 L302.10,258.25 L302.60,258.00 L303.10,258.34 L303.60,258.46 L304.10,258.58 L304.60,259.01 L305.10,259.08 L305.60,258.98 L306.10,259.58 L306.60,259.97 L307.10,260.21 L307.60,260.70 L308.10,261.57 L308.60,261.78 L309.10,262.18 L309.60,262.96 L310.10,263.83 L310.60,264.10 L311.10,264.80 L311.60,265.43 L312.10,265.98 L312.60,266.28 L313.10,266.94 L313.60,267.47 L314.10,268.08 L314.60,268.71 L315.10,269.36 L315.60,269.92 L316.10,270.33 L316.60,270.75 L317.10,271.10 L317.60,271.34 L318.10,271.59 L318.60,271.97 L319.10,272.26 L319.60,272.44 L320.10,272.67 L320.60,272.87 L321.10,273.01 L321.60,273.16 L322.10,273.34 L322.60,273.49 L323.10,273.60 L323.60,273.70 L324.10,273.78 L324.60,273.86 L325.10,273.92 L325.60,273.97 L326.10,274.01 L326.60,274.05 L327.10,274.08 L327.60,274.10 L328.10,274.12 L328.60,274.14 L329.10,274.15 L329.60,274.16 L330.10,274.17 L330.60,274.18 L331.10,274.18 L331.60,274.19 L332.10,274.19 L332.60,274.19 L333.10,274.19 L333.60,274.20 L334.10,274.20 L334.60,274.20 L335.10,274.20 L335.60,274.20 L336.10,274.20 L336.60,274.20 L337.10,274.20 L337.60,274.20 L338.10,274.20 L338.60,274.20 L339.10,274.20 L339.60,274.20 L340.10,274.20 L340.60,274.20 L341.10,274.20 L341.60,274.20 L342.10,274.20 L342.60,274.20 L343.10,274.20 L343.60,274.20 L344.10,274.20 L344.60,274.20 L345.10,274.20 L345.60,274.20 L346.10,274.20 L346.60,274.20 L347.10,274.20 L347.60,274.20 L348.10,274.20 L348.60,274.20 L349.10,274.20 L349.60,274.20 L350.10,274.20 L350.60,274.20 L351.10,274.20 L351.60,274.20 L352.10,274.20 L352.60,274.20 L353.10,274.20 L353.60,274.20 L354.10,274.20 L354.60,274.20 L354.90,274.20 L245.10,274.20 Z" fill="#55eefc" fill-opacity="0.5" stroke="none"/>
<path d="M281.10,273.52 L281.60,273.39 L282.10,273.25 L282.60,273.07 L283.10,272.85 L283.60,272.57 L284.10,272.28 L284.60,271.98 L285.10,271.68 L285.60,271.33 L286.10,271.00 L286.60,270.62 L287.10,270.16 L287.60,269.70 L288.10,269.16 L288.60,268.49 L289.10,268.01 L289.60,267.19 L290.10,266.58 L290.60,265.95 L291.10,265.70 L291.60,264.92 L292.10,264.35 L292.60,263.56 L293.10,263.18 L293.60,262.39 L294.10,262.11 L294.60,262.11 L295.10,261.98 L295.60,261.16 L296.10,261.00 L296.60,260.20 L297.10,259.67 L297.60,259.43 L298.10,259.69 L298.60,259.10 L299.10,259.22 L299.60,258.88 L300.10,258.82 L300.60,258.34 L301.10,258.31 L301.60,258.33 L302.10,258.25 L302.60,258.00 L303.10,258.34 L303.60,258.46 L304.10,258.58 L304.60,259.01 L305.10,259.08 L305.60,258.98 L306.10,259.58 L306.60,259.97 L307.10,260.21 L307.60,260.70 L308.10,261.57 L308.60,261.78 L309.10,262.18 L309.60,262.96 L310.10,263.83 L310.60,264.10 L311.10,264.80 L311.60,265.43 L312.10,265.98 L312.60,266.28 L313.10,266.94 L313.60,267.47 L314.10,268.08 L314.60,268.71 L315.10,269.36 L315.60,269.92 L316.10,270.33 L316.60,270.75 L317.10,271.10 L317.60,271.34 L318.10,271.59 L318.60,271.97 L319.10,272.26 L319.60,272.44 L320.10,272.67 L320.60,272.87 L321.10,273.01 L321.60,273.16 L322.10,273.34 L322.60,273.49" fill="none" stroke="#52e2f4" stroke-width="0.8" stroke-opacity="0.85"/>
<line x1="245.10" y1="274.20" x2="354.90" y2="274.20" stroke="#52e2f4" stroke-width="0.6" stroke-opacity="0.4"/>
<path d="M245.10,285.10 L245.60,285.10 L246.10,285.10 L246.60,285.10 L247.10,285.10 L247.60,285.10 L248.10,285.10 L248.60,285.10 L249.10,285.10 L249.60,285.10 L250.10,285.10 L250.60,285.10 L251.10,285.10 L251.60,285.10 L252.10,285.10 L252.60,285.10 L253.10,285.10 L253.60,285.10 L254.10,285.10 L254.60,285.10 L255.10,285.10 L255.60,285.10 L256.10,285.10 L256.60,285.10 L257.10,285.10 L257.60,285.10 L258.10,285.10 L258.60,285.10 L259.10,285.10 L259.60,285.10 L260.10,285.10 L260.60,285.10 L261.10,285.10 L261.60,285.10 L262.10,285.10 L262.60,285.10 L263.10,285.10 L263.60,285.10 L264.10,285.10 L264.60,285.10 L265.10,285.10 L265.60,285.10 L266.10,285.10 L266.60,285.10 L267.10,285.10 L267.60,285.10 L268.10,285.10 L268.60,285.10 L269.10,285.10 L269.60,285.10 L270.10,285.10 L270.60,285.10 L271.10,285.10 L271.60,285.10 L272.10,285.10 L272.60,285.10 L273.10,285.10 L273.60,285.10 L274.10,285.10 L274.60,285.09 L275.10,285.09 L275.60,285.09 L276.10,285.09 L276.60,285.08 L277.10,285.08 L277.60,285.07 L278.10,285.07 L278.60,285.06 L279.10,285.05 L279.60,285.03 L280.10,285.02 L280.60,285.00 L281.10,284.97 L281.60,284.94 L282.10,284.91 L282.60,284.87 L283.10,284.82 L283.60,284.76 L284.10,284.70 L284.60,284.62 L285.10,284.54 L285.60,284.44 L286.10,284.33 L286.60,284.22 L287.10,284.05 L287.60,283.89 L288.10,283.68 L288.60,283.49 L289.10,283.27 L289.60,283.11 L290.10,282.81 L290.60,282.49 L291.10,282.11 L291.60,281.76 L292.10,281.39 L292.60,281.12 L293.10,280.89 L293.60,280.60 L294.10,280.37 L294.60,279.90 L295.10,279.46 L295.60,279.00 L296.10,278.52 L296.60,277.81 L297.10,277.12 L297.60,276.24 L298.10,275.34 L298.60,274.45 L299.10,274.15 L299.60,273.69 L300.10,273.36 L300.60,273.23 L301.10,272.70 L301.60,272.05 L302.10,271.80 L302.60,271.76 L303.10,271.11 L303.60,270.90 L304.10,270.71 L304.60,270.50 L305.10,269.64 L305.60,269.62 L306.10,269.40 L306.60,269.30 L307.10,269.49 L307.60,269.93 L308.10,269.51 L308.60,270.00 L309.10,270.36 L309.60,269.97 L310.10,269.95 L310.60,270.41 L311.10,270.45 L311.60,270.53 L312.10,270.84 L312.60,271.17 L313.10,271.53 L313.60,271.89 L314.10,272.02 L314.60,272.45 L315.10,272.33 L315.60,272.37 L316.10,272.73 L316.60,272.87 L317.10,272.97 L317.60,273.36 L318.10,274.09 L318.60,274.52 L319.10,275.20 L319.60,275.67 L320.10,276.30 L320.60,276.51 L321.10,277.01 L321.60,277.64 L322.10,278.17 L322.60,278.75 L323.10,279.28 L323.60,279.61 L324.10,279.99 L324.60,280.43 L325.10,280.76 L325.60,281.19 L326.10,281.65 L326.60,281.97 L327.10,282.33 L327.60,282.66 L328.10,282.95 L328.60,283.23 L329.10,283.48 L329.60,283.71 L330.10,283.89 L330.60,284.08 L331.10,284.22 L331.60,284.35 L332.10,284.47 L332.60,284.57 L333.10,284.65 L333.60,284.73 L334.10,284.79 L334.60,284.84 L335.10,284.89 L335.60,284.93 L336.10,284.96 L336.60,284.99 L337.10,285.01 L337.60,285.03 L338.10,285.04 L338.60,285.05 L339.10,285.06 L339.60,285.07 L340.10,285.08 L340.60,285.08 L341.10,285.09 L341.60,285.09 L342.10,285.09 L342.60,285.09 L343.10,285.10 L343.60,285.10 L344.10,285.10 L344.60,285.10 L345.10,285.10 L345.60,285.10 L346.10,285.10 L346.60,285.10 L347.10,285.10 L347.60,285.10 L348.10,285.10 L348.60,285.10 L349.10,285.10 L349.60,285.10 L350.10,285.10 L350.60,285.10 L351.10,285.10 L351.60,285.10 L352.10,285.10 L352.60,285.10 L353.10,285.10 L353.60,285.10 L354.10,285.10 L354.60,285.10 L354.90,285.10 L245.10,285.10 Z" fill="#55b5a5" fill-opacity="0.5" stroke="none"/>
<path d="M285.60,284.44 L286.10,284.33 L286.60,284.22 L287.10,284.05 L287.60,283.89 L288.10,283.68 L288.60,283.49 L289.10,283.27 L289.60,283.11 L290.10,282.81 L290.60,282.49 L291.10,282.11 L291.60,281.76 L292.10,281.39 L292.60,281.12 L293.10,280.89 L293.60,280.60 L294.10,280.37 L294.60,279.90 L295.10,279.46 L295.60,279.00 L296.10,278.52 L296.60,277.81 L297.10,277.12 L297.60,276.24 L298.10,275.34 L298.60,274.45 L299.10,274.15 L299.60,273.69 L300.10,273.36 L300.60,273.23 L301.10,272.70 L301.60,272.05 L302.10,271.80 L302.60,271.76 L303.10,271.11 L303.60,270.90 L304.10,270.71 L304.60,270.50 L305.10,269.64 L305.60,269.62 L306.10,269.40 L306.60,269.30 L307.10,269.49 L307.60,269.93 L308.10,269.51 L308.60,270.00 L309.10,270.36 L309.60,269.97 L310.10,269.95 L310.60,270.41 L311.10,270.45 L311.60,270.53 L312.10,270.84 L312.60,271.17 L313.10,271.53 L313.60,271.89 L314.10,272.02 L314.60,272.45 L315.10,272.33 L315.60,272.37 L316.10,272.73 L316.60,272.87 L317.10,272.97 L317.60,273.36 L318.10,274.09 L318.60,274.52 L319.10,275.20 L319.60,275.67 L320.10,276.30 L320.60,276.51 L321.10,277.01 L321.60,277.64 L322.10,278.17 L322.60,278.75 L323.10,279.28 L323.60,279.61 L324.10,279.99 L324.60,280.43 L325.10,280.76 L325.60,281.19 L326.10,281.65 L326.60,281.97 L327.10,282.33 L327.60,282.66 L328.10,282.95 L328.60,283.23 L329.10,283.48 L329.60,283.71 L330.10,283.89 L330.60,284.08 L331.10,284.22 L331.60,284.35 L332.10,284.47" fill="none" stroke="#4aa99a" stroke-width="0.8" stroke-opacity="0.85"/>
<line x1="245.10" y1="285.10" x2="354.90" y2="285.10" stroke="#4aa99a" stroke-width="0.6" stroke-opacity="0.4"/>
<path d="M245.10,295.20 L245.60,295.20 L246.10,295.20 L246.60,295.20 L247.10,295.20 L247.60,295.20 L248.10,295.20 L248.60,295.20 L249.10,295.20 L249.60,295.20 L250.10,295.20 L250.60,295.20 L251.10,295.20 L251.60,295.20 L252.10,295.20 L252.60,295.20 L253.10,295.20 L253.60,295.20 L254.10,295.20 L254.60,295.20 L255.10,295.20 L255.60,295.20 L256.10,295.20 L256.60,295.20 L257.10,295.20 L257.60,295.20 L258.10,295.20 L258.60,295.20 L259.10,295.20 L259.60,295.20 L260.10,295.20 L260.60,295.20 L261.10,295.20 L261.60,295.20 L262.10,295.20 L262.60,295.20 L263.10,295.20 L263.60,295.20 L264.10,295.20 L264.60,295.20 L265.10,295.20 L265.60,295.20 L266.10,295.20 L266.60,295.20 L267.10,295.20 L267.60,295.20 L268.10,295.20 L268.60,295.20 L269.10,295.20 L269.60,295.20 L270.10,295.20 L270.60,295.20 L271.10,295.20 L271.60,295.20 L272.10,295.20 L272.60,295.20 L273.10,295.20 L273.60,295.19 L274.10,295.19 L274.60,295.19 L275.10,295.19 L275.60,295.18 L276.10,295.18 L276.60,295.17 L277.10,295.16 L277.60,295.15 L278.10,295.14 L278.60,295.12 L279.10,295.10 L279.60,295.07 L280.10,295.04 L280.60,295.00 L281.10,294.95 L281.60,294.90 L282.10,294.83 L282.60,294.75 L283.10,294.66 L283.60,294.55 L284.10,294.43 L284.60,294.31 L285.10,294.15 L285.60,293.94 L286.10,293.69 L286.60,293.39 L287.10,293.12 L287.60,292.85 L288.10,292.46 L288.60,292.19 L289.10,291.92 L289.60,291.56 L290.10,291.10 L290.60,290.67 L291.10,290.15 L291.60,289.69 L292.10,289.13 L292.60,288.77 L293.10,288.23 L293.60,287.75 L294.10,287.16 L294.60,286.56 L295.10,285.81 L295.60,285.40 L296.10,284.51 L296.60,283.88 L297.10,283.14 L297.60,282.40 L298.10,281.73 L298.60,281.43 L299.10,280.63 L299.60,280.71 L300.10,280.63 L300.60,280.40 L301.10,280.06 L301.60,280.27 L302.10,279.58 L302.60,279.21 L303.10,279.06 L303.60,278.89 L304.10,278.50 L304.60,278.74 L305.10,279.21 L305.60,278.99 L306.10,279.45 L306.60,279.94 L307.10,279.62 L307.60,279.56 L308.10,280.49 L308.60,280.74 L309.10,281.00 L309.60,281.96 L310.10,282.32 L310.60,282.44 L311.10,282.83 L311.60,283.26 L312.10,283.93 L312.60,284.37 L313.10,285.26 L313.60,285.76 L314.10,286.49 L314.60,286.91 L315.10,287.77 L315.60,288.27 L316.10,288.98 L316.60,289.62 L317.10,290.37 L317.60,291.02 L318.10,291.49 L318.60,292.00 L319.10,292.43 L319.60,292.77 L320.10,293.09 L320.60,293.47 L321.10,293.73 L321.60,293.98 L322.10,294.21 L322.60,294.36 L323.10,294.52 L323.60,294.65 L324.10,294.76 L324.60,294.85 L325.10,294.93 L325.60,294.99 L326.10,295.03 L326.60,295.07 L327.10,295.10 L327.60,295.13 L328.10,295.15 L328.60,295.16 L329.10,295.17 L329.60,295.18 L330.10,295.18 L330.60,295.19 L331.10,295.19 L331.60,295.19 L332.10,295.20 L332.60,295.20 L333.10,295.20 L333.60,295.20 L334.10,295.20 L334.60,295.20 L335.10,295.20 L335.60,295.20 L336.10,295.20 L336.60,295.20 L337.10,295.20 L337.60,295.20 L338.10,295.20 L338.60,295.20 L339.10,295.20 L339.60,295.20 L340.10,295.20 L340.60,295.20 L341.10,295.20 L341.60,295.20 L342.10,295.20 L342.60,295.20 L343.10,295.20 L343.60,295.20 L344.10,295.20 L344.60,295.20 L345.10,295.20 L345.60,295.20 L346.10,295.20 L346.60,295.20 L347.10,295.20 L347.60,295.20 L348.10,295.20 L348.60,295.20 L349.10,295.20 L349.60,295.20 L350.10,295.20 L350.60,295.20 L351.10,295.20 L351.60,295.20 L352.10,295.20 L352.60,295.20 L353.10,295.20 L353.60,295.20 L354.10,295.20 L354.60,295.20 L354.90,295.20 L245.10,295.20 Z" fill="#e8f560" fill-opacity="0.6" stroke="none"/>
<path d="M283.60,294.55 L284.10,294.43 L284.60,294.31 L285.10,294.15 L285.60,293.94 L286.10,293.69 L286.60,293.39 L287.10,293.12 L287.60,292.85 L288.10,292.46 L288.60,292.19 L289.10,291.92 L289.60,291.56 L290.10,291.10 L290.60,290.67 L291.10,290.15 L291.60,289.69 L292.10,289.13 L292.60,288.77 L293.10,288.23 L293.60,287.75 L294.10,287.16 L294.60,286.56 L295.10,285.81 L295.60,285.40 L296.10,284.51 L296.60,283.88 L297.10,283.14 L297.60,282.40 L298.10,281.73 L298.60,281.43 L299.10,280.63 L299.60,280.71 L300.10,280.63 L300.60,280.40 L301.10,280.06 L301.60,280.27 L302.10,279.58 L302.60,279.21 L303.10,279.06 L303.60,278.89 L304.10,278.50 L304.60,278.74 L305.10,279.21 L305.60,278.99 L306.10,279.45 L306.60,279.94 L307.10,279.62 L307.60,279.56 L308.10,280.49 L308.60,280.74 L309.10,281.00 L309.60,281.96 L310.10,282.32 L310.60,282.44 L311.10,282.83 L311.60,283.26 L312.10,283.93 L312.60,284.37 L313.10,285.26 L313.60,285.76 L314.10,286.49 L314.60,286.91 L315.10,287.77 L315.60,288.27 L316.10,288.98 L316.60,289.62 L317.10,290.37 L317.60,291.02 L318.10,291.49 L318.60,292.00 L319.10,292.43 L319.60,292.77 L320.10,293.09 L320.60,293.47 L321.10,293.73 L321.60,293.98 L322.10,294.21 L322.60,294.36 L323.10,294.52" fill="none" stroke="#dcef55" stroke-width="0.8" stroke-opacity="0.85"/>
<line x1="245.10" y1="295.20" x2="354.90" y2="295.20" stroke="#dcef55" stroke-width="0.6" stroke-opacity="0.4"/>
<line x1="299.80" y1="184.10" x2="299.80" y2="295.70" stroke="#222" stroke-width="0.9" stroke-dasharray="1.6 1.1"/>
<rect x="244.50" y="184.10" width="111.00" height="111.60" fill="none" stroke="#777" stroke-width="1.0"/>
<line x1="244.50" y1="295.70" x2="355.50" y2="295.70" stroke="#555" stroke-width="1.0"/>
<line x1="249.06" y1="295.70" x2="249.06" y2="297.20" stroke="#333" stroke-width="0.8"/>
<line x1="253.97" y1="295.70" x2="253.97" y2="297.20" stroke="#333" stroke-width="0.8"/>
<line x1="257.97" y1="295.70" x2="257.97" y2="297.20" stroke="#333" stroke-width="0.8"/>
<line x1="261.36" y1="295.70" x2="261.36" y2="297.20" stroke="#333" stroke-width="0.8"/>
<line x1="264.30" y1="295.70" x2="264.30" y2="297.20" stroke="#333" stroke-width="0.8"/>
<line x1="266.88" y1="295.70" x2="266.88" y2="297.20" stroke="#333" stroke-width="0.8"/>
<line x1="269.20" y1="295.70" x2="269.20" y2="298.30" stroke="#333" stroke-width="0.8"/>
<line x1="284.43" y1="295.70" x2="284.43" y2="297.20" stroke="#333" stroke-width="0.8"/>
<line x1="293.34" y1="295.70" x2="293.34" y2="297.20" stroke="#333" stroke-width="0.8"/>
<line x1="299.66" y1="295.70" x2="299.66" y2="297.20" stroke="#333" stroke-width="0.8"/>
<line x1="304.57" y1="295.70" x2="304.57" y2="297.20" stroke="#333" stroke-width="0.8"/>
<line x1="308.57" y1="295.70" x2="308.57" y2="297.20" stroke="#333" stroke-width="0.8"/>
<line x1="311.96" y1="295.70" x2="311.96" y2="297.20" stroke="#333" stroke-width="0.8"/>
<line x1="314.90" y1="295.70" x2="314.90" y2="297.20" stroke="#333" stroke-width="0.8"/>
<line x1="317.48" y1="295.70" x2="317.48" y2="297.20" stroke="#333" stroke-width="0.8"/>
<line x1="319.80" y1="295.70" x2="319.80" y2="298.30" stroke="#333" stroke-width="0.8"/>
<line x1="335.03" y1="295.70" x2="335.03" y2="297.20" stroke="#333" stroke-width="0.8"/>
<line x1="343.94" y1="295.70" x2="343.94" y2="297.20" stroke="#333" stroke-width="0.8"/>
<line x1="350.26" y1="295.70" x2="350.26" y2="297.20" stroke="#333" stroke-width="0.8"/>
<text x="269.60" y="308.60" font-size="5.4" text-anchor="middle" fill="#333" stroke="#333" stroke-width="0.108">10</text>
<text x="273.20" y="306.00" font-size="3.8" text-anchor="middle" fill="#333" stroke="#333" stroke-width="0.076">3</text>
<text x="320.20" y="308.60" font-size="5.4" text-anchor="middle" fill="#333" stroke="#333" stroke-width="0.108">10</text>
<text x="323.80" y="306.00" font-size="3.8" text-anchor="middle" fill="#333" stroke="#333" stroke-width="0.076">4</text>
<text x="304.20" y="319.50" font-size="10.2" text-anchor="middle" fill="#1a1a1a" stroke="#1a1a1a" stroke-width="0.204">Lipid ROS level (FITC)</text>
<text x="240.80" y="242.40" font-size="10" text-anchor="middle" fill="#1a1a1a" stroke="#1a1a1a" stroke-width="0.200" transform="rotate(-90 240.80 242.40)">Count</text>
<text x="357.70" y="204.50" font-size="10.15" text-anchor="start" fill="#1a1a1a" stroke="#1a1a1a" stroke-width="0.203">con-sh+vehicle</text>
<text x="357.70" y="216.50" font-size="10.15" text-anchor="start" fill="#1a1a1a" stroke="#1a1a1a" stroke-width="0.203">USP35-sh#1+vehicle</text>
<text x="357.70" y="228.10" font-size="10.15" text-anchor="start" fill="#1a1a1a" stroke="#1a1a1a" stroke-width="0.203">USP35-sh#2+vehicle</text>
<text x="357.70" y="239.00" font-size="10.15" text-anchor="start" fill="#1a1a1a" stroke="#1a1a1a" stroke-width="0.203">con-sh+Erastin</text>
<text x="357.70" y="250.20" font-size="10.15" text-anchor="start" fill="#1a1a1a" stroke="#1a1a1a" stroke-width="0.203">USP35-sh#1+Erastin</text>
<text x="357.70" y="261.10" font-size="10.15" text-anchor="start" fill="#1a1a1a" stroke="#1a1a1a" stroke-width="0.203">USP35-sh#2+Erastin</text>
<text x="357.70" y="271.90" font-size="10.15" text-anchor="start" fill="#1a1a1a" stroke="#1a1a1a" stroke-width="0.203">con-sh+RSL3</text>
<text x="357.70" y="283.10" font-size="10.15" text-anchor="start" fill="#1a1a1a" stroke="#1a1a1a" stroke-width="0.203">USP35-sh#1+RSL3</text>
<text x="357.70" y="293.10" font-size="10.15" text-anchor="start" fill="#1a1a1a" stroke="#1a1a1a" stroke-width="0.203">USP35-sh#2+RSL3</text>
<line x1="482.40" y1="216.59" x2="482.40" y2="308.95" stroke="#111" stroke-width="1.3"/>
<line x1="478.40" y1="216.59" x2="482.40" y2="216.59" stroke="#111" stroke-width="1.3"/>
<text x="477.10" y="220.09" font-size="10" text-anchor="end" fill="#1a1a1a" stroke="#1a1a1a" stroke-width="0.200">30</text>
<line x1="478.40" y1="247.16" x2="482.40" y2="247.16" stroke="#111" stroke-width="1.3"/>
<text x="477.10" y="250.66" font-size="10" text-anchor="end" fill="#1a1a1a" stroke="#1a1a1a" stroke-width="0.200">20</text>
<line x1="478.40" y1="277.73" x2="482.40" y2="277.73" stroke="#111" stroke-width="1.3"/>
<text x="477.10" y="281.23" font-size="10" text-anchor="end" fill="#1a1a1a" stroke="#1a1a1a" stroke-width="0.200">10</text>
<line x1="478.40" y1="308.30" x2="482.40" y2="308.30" stroke="#111" stroke-width="1.3"/>
<text x="477.10" y="311.80" font-size="10" text-anchor="end" fill="#1a1a1a" stroke="#1a1a1a" stroke-width="0.200">0</text>
<line x1="481.75" y1="308.30" x2="620.00" y2="308.30" stroke="#111" stroke-width="1.3"/>
<line x1="503.55" y1="308.30" x2="503.55" y2="311.90" stroke="#111" stroke-width="1.3"/>
<line x1="550.85" y1="308.30" x2="550.85" y2="311.90" stroke="#111" stroke-width="1.3"/>
<line x1="598.15" y1="308.30" x2="598.15" y2="311.90" stroke="#111" stroke-width="1.3"/>
<path d="M486.95,308.30 V293.35 H494.15 V308.30" stroke="#111" stroke-width="1.7" fill="none" stroke-linejoin="miter"/>
<line x1="490.55" y1="289.50" x2="490.55" y2="294.50" stroke="#111" stroke-width="1.0"/>
<line x1="488.35" y1="289.50" x2="492.75" y2="289.50" stroke="#111" stroke-width="1.0"/>
<line x1="488.35" y1="294.50" x2="492.75" y2="294.50" stroke="#111" stroke-width="1.0"/>
<rect x="489.40" y="288.85" width="2.30" height="2.30" fill="#000"/>
<rect x="489.40" y="292.85" width="2.30" height="2.30" fill="#000"/>
<path d="M499.95,308.30 V250.25 H507.15 V308.30" stroke="#ff1a1a" stroke-width="1.7" fill="none" stroke-linejoin="miter"/>
<line x1="503.55" y1="246.40" x2="503.55" y2="252.40" stroke="#ff1a1a" stroke-width="1.0"/>
<line x1="501.35" y1="246.40" x2="505.75" y2="246.40" stroke="#ff1a1a" stroke-width="1.0"/>
<line x1="501.35" y1="252.40" x2="505.75" y2="252.40" stroke="#ff1a1a" stroke-width="1.0"/>
<rect x="502.40" y="245.25" width="2.30" height="2.30" fill="#000"/>
<rect x="499.90" y="248.25" width="2.30" height="2.30" fill="#000"/>
<rect x="504.90" y="252.25" width="2.30" height="2.30" fill="#000"/>
<path d="M512.90,308.30 V282.65 H520.10 V308.30" stroke="#2222ff" stroke-width="1.7" fill="none" stroke-linejoin="miter"/>
<line x1="516.50" y1="279.80" x2="516.50" y2="282.80" stroke="#2222ff" stroke-width="1.0"/>
<line x1="514.30" y1="279.80" x2="518.70" y2="279.80" stroke="#2222ff" stroke-width="1.0"/>
<rect x="515.35" y="279.65" width="2.30" height="2.30" fill="#000"/>
<path d="M534.25,308.30 V282.35 H541.45 V308.30" stroke="#111" stroke-width="1.7" fill="none" stroke-linejoin="miter"/>
<line x1="537.85" y1="280.50" x2="537.85" y2="282.00" stroke="#111" stroke-width="1.0"/>
<line x1="535.65" y1="280.50" x2="540.05" y2="280.50" stroke="#111" stroke-width="1.0"/>
<rect x="536.70" y="280.35" width="2.30" height="2.30" fill="#000"/>
<path d="M547.25,308.30 V228.85 H554.45 V308.30" stroke="#ff1a1a" stroke-width="1.7" fill="none" stroke-linejoin="miter"/>
<line x1="550.85" y1="225.50" x2="550.85" y2="229.00" stroke="#ff1a1a" stroke-width="1.0"/>
<line x1="548.65" y1="225.50" x2="553.05" y2="225.50" stroke="#ff1a1a" stroke-width="1.0"/>
<rect x="549.70" y="224.35" width="2.30" height="2.30" fill="#000"/>
<rect x="547.20" y="226.85" width="2.30" height="2.30" fill="#000"/>
<rect x="552.20" y="226.85" width="2.30" height="2.30" fill="#000"/>
<path d="M560.20,308.30 V265.65 H567.40 V308.30" stroke="#2222ff" stroke-width="1.7" fill="none" stroke-linejoin="miter"/>
<line x1="563.80" y1="262.80" x2="563.80" y2="265.80" stroke="#2222ff" stroke-width="1.0"/>
<line x1="561.60" y1="262.80" x2="566.00" y2="262.80" stroke="#2222ff" stroke-width="1.0"/>
<rect x="562.65" y="262.65" width="2.30" height="2.30" fill="#000"/>
<path d="M581.55,308.30 V278.15 H588.75 V308.30" stroke="#111" stroke-width="1.7" fill="none" stroke-linejoin="miter"/>
<line x1="585.15" y1="276.30" x2="585.15" y2="277.80" stroke="#111" stroke-width="1.0"/>
<line x1="582.95" y1="276.30" x2="587.35" y2="276.30" stroke="#111" stroke-width="1.0"/>
<rect x="584.00" y="276.15" width="2.30" height="2.30" fill="#000"/>
<path d="M594.55,308.30 V231.85 H601.75 V308.30" stroke="#ff1a1a" stroke-width="1.7" fill="none" stroke-linejoin="miter"/>
<line x1="598.15" y1="229.00" x2="598.15" y2="232.50" stroke="#ff1a1a" stroke-width="1.0"/>
<line x1="595.95" y1="229.00" x2="600.35" y2="229.00" stroke="#ff1a1a" stroke-width="1.0"/>
<rect x="597.00" y="228.35" width="2.30" height="2.30" fill="#000"/>
<rect x="594.50" y="230.35" width="2.30" height="2.30" fill="#000"/>
<rect x="599.50" y="229.85" width="2.30" height="2.30" fill="#000"/>
<path d="M607.50,308.30 V265.45 H614.70 V308.30" stroke="#2222ff" stroke-width="1.7" fill="none" stroke-linejoin="miter"/>
<line x1="611.10" y1="258.60" x2="611.10" y2="269.60" stroke="#2222ff" stroke-width="1.0"/>
<line x1="608.90" y1="258.60" x2="613.30" y2="258.60" stroke="#2222ff" stroke-width="1.0"/>
<line x1="608.90" y1="269.60" x2="613.30" y2="269.60" stroke="#2222ff" stroke-width="1.0"/>
<rect x="609.95" y="259.45" width="2.30" height="2.30" fill="#000"/>
<rect x="609.95" y="267.45" width="2.30" height="2.30" fill="#000"/>
<path d="M490.60,244.00 V240.00 H504.30 V244.00" stroke="#333" stroke-width="0.95" fill="none"/>
<path d="M492.80,231.95L492.80,235.25M491.37,232.78L494.23,234.42M494.23,232.78L491.37,234.42M497.45,231.95L497.45,235.25M496.02,232.78L498.88,234.42M498.88,232.78L496.02,234.42M502.10,231.95L502.10,235.25M500.67,232.78L503.53,234.42M503.53,232.78L500.67,234.42" stroke="#111" stroke-width="1.05" fill="none" stroke-linecap="butt"/>
<path d="M490.60,231.20 V227.20 H516.60 V231.20" stroke="#333" stroke-width="0.95" fill="none"/>
<path d="M498.95,219.05L498.95,222.35M497.52,219.88L500.38,221.52M500.38,219.88L497.52,221.52M503.60,219.05L503.60,222.35M502.17,219.88L505.03,221.52M505.03,219.88L502.17,221.52M508.25,219.05L508.25,222.35M506.82,219.88L509.68,221.52M509.68,219.88L506.82,221.52" stroke="#111" stroke-width="1.05" fill="none" stroke-linecap="butt"/>
<path d="M536.40,221.20 V217.20 H550.40 V221.20" stroke="#333" stroke-width="0.95" fill="none"/>
<path d="M538.75,209.75L538.75,213.05M537.32,210.58L540.18,212.22M540.18,210.58L537.32,212.22M543.40,209.75L543.40,213.05M541.97,210.58L544.83,212.22M544.83,210.58L541.97,212.22M548.05,209.75L548.05,213.05M546.62,210.58L549.48,212.22M549.48,210.58L546.62,212.22" stroke="#111" stroke-width="1.05" fill="none" stroke-linecap="butt"/>
<path d="M536.40,208.90 V204.90 H563.90 V208.90" stroke="#333" stroke-width="0.95" fill="none"/>
<path d="M545.50,196.75L545.50,200.05M544.07,197.58L546.93,199.22M546.93,197.58L544.07,199.22M550.15,196.75L550.15,200.05M548.72,197.58L551.58,199.22M551.58,197.58L548.72,199.22M554.80,196.75L554.80,200.05M553.37,197.58L556.23,199.22M556.23,197.58L553.37,199.22" stroke="#111" stroke-width="1.05" fill="none" stroke-linecap="butt"/>
<path d="M583.10,228.10 V224.10 H597.50 V228.10" stroke="#333" stroke-width="0.95" fill="none"/>
<path d="M585.65,216.65L585.65,219.95M584.22,217.48L587.08,219.12M587.08,217.48L584.22,219.12M590.30,216.65L590.30,219.95M588.87,217.48L591.73,219.12M591.73,217.48L588.87,219.12M594.95,216.65L594.95,219.95M593.52,217.48L596.38,219.12M596.38,217.48L593.52,219.12" stroke="#111" stroke-width="1.05" fill="none" stroke-linecap="butt"/>
<path d="M583.10,211.90 V207.90 H610.50 V211.90" stroke="#333" stroke-width="0.95" fill="none"/>
<path d="M592.15,200.25L592.15,203.55M590.72,201.08L593.58,202.72M593.58,201.08L590.72,202.72M596.80,200.25L596.80,203.55M595.37,201.08L598.23,202.72M598.23,201.08L595.37,202.72M601.45,200.25L601.45,203.55M600.02,201.08L602.88,202.72M602.88,201.08L600.02,202.72" stroke="#111" stroke-width="1.05" fill="none" stroke-linecap="butt"/>
<text x="503.55" y="322.60" font-size="10" text-anchor="middle" fill="#1a1a1a" stroke="#1a1a1a" stroke-width="0.200">vehicle</text>
<text x="550.85" y="322.60" font-size="10" text-anchor="middle" fill="#1a1a1a" stroke="#1a1a1a" stroke-width="0.200">Erastin</text>
<text x="598.15" y="322.60" font-size="10" text-anchor="middle" fill="#1a1a1a" stroke="#1a1a1a" stroke-width="0.200">RSL3</text>
<text x="461.20" y="260.00" font-size="10" text-anchor="middle" fill="#1a1a1a" stroke="#1a1a1a" stroke-width="0.200" transform="rotate(-90 461.20 260.00)">Lipid ROS positive (%)</text>
<text x="1.60" y="359.70" font-size="12" text-anchor="start" fill="#1a1a1a" stroke="#1a1a1a" stroke-width="0.050">C</text>
<text x="42.50" y="377.40" font-size="10" text-anchor="start" fill="#1a1a1a" stroke="#1a1a1a" stroke-width="0.200">MCF-7</text>
<line x1="61.20" y1="409.40" x2="61.20" y2="501.35" stroke="#111" stroke-width="1.3"/>
<line x1="57.20" y1="409.40" x2="61.20" y2="409.40" stroke="#111" stroke-width="1.3"/>
<text x="55.90" y="412.90" font-size="10" text-anchor="end" fill="#1a1a1a" stroke="#1a1a1a" stroke-width="0.200">1000</text>
<line x1="57.20" y1="427.66" x2="61.20" y2="427.66" stroke="#111" stroke-width="1.3"/>
<text x="55.90" y="431.16" font-size="10" text-anchor="end" fill="#1a1a1a" stroke="#1a1a1a" stroke-width="0.200">800</text>
<line x1="57.20" y1="445.92" x2="61.20" y2="445.92" stroke="#111" stroke-width="1.3"/>
<text x="55.90" y="449.42" font-size="10" text-anchor="end" fill="#1a1a1a" stroke="#1a1a1a" stroke-width="0.200">600</text>
<line x1="57.20" y1="464.18" x2="61.20" y2="464.18" stroke="#111" stroke-width="1.3"/>
<text x="55.90" y="467.68" font-size="10" text-anchor="end" fill="#1a1a1a" stroke="#1a1a1a" stroke-width="0.200">400</text>
<line x1="57.20" y1="482.44" x2="61.20" y2="482.44" stroke="#111" stroke-width="1.3"/>
<text x="55.90" y="485.94" font-size="10" text-anchor="end" fill="#1a1a1a" stroke="#1a1a1a" stroke-width="0.200">200</text>
<line x1="57.20" y1="500.70" x2="61.20" y2="500.70" stroke="#111" stroke-width="1.3"/>
<text x="55.90" y="504.20" font-size="10" text-anchor="end" fill="#1a1a1a" stroke="#1a1a1a" stroke-width="0.200">0</text>
<line x1="60.55" y1="500.70" x2="153.00" y2="500.70" stroke="#111" stroke-width="1.3"/>
<line x1="82.70" y1="500.70" x2="82.70" y2="504.30" stroke="#111" stroke-width="1.3"/>
<line x1="130.60" y1="500.70" x2="130.60" y2="504.30" stroke="#111" stroke-width="1.3"/>
<path d="M65.90,500.70 V489.65 H73.10 V500.70" stroke="#111" stroke-width="1.7" fill="none" stroke-linejoin="miter"/>
<line x1="69.50" y1="485.80" x2="69.50" y2="490.30" stroke="#111" stroke-width="1.0"/>
<line x1="67.30" y1="485.80" x2="71.70" y2="485.80" stroke="#111" stroke-width="1.0"/>
<rect x="68.35" y="486.65" width="2.30" height="2.30" fill="#000"/>
<rect x="65.85" y="488.15" width="2.30" height="2.30" fill="#000"/>
<rect x="70.85" y="487.65" width="2.30" height="2.30" fill="#000"/>
<path d="M78.80,500.70 V482.65 H86.40 V500.70" stroke="#ff1a1a" stroke-width="1.7" fill="none" stroke-linejoin="miter"/>
<line x1="82.60" y1="477.80" x2="82.60" y2="483.80" stroke="#ff1a1a" stroke-width="1.0"/>
<line x1="80.40" y1="477.80" x2="84.80" y2="477.80" stroke="#ff1a1a" stroke-width="1.0"/>
<line x1="80.40" y1="483.80" x2="84.80" y2="483.80" stroke="#ff1a1a" stroke-width="1.0"/>
<rect x="81.45" y="477.15" width="2.30" height="2.30" fill="#000"/>
<rect x="78.95" y="480.65" width="2.30" height="2.30" fill="#000"/>
<rect x="83.95" y="481.15" width="2.30" height="2.30" fill="#000"/>
<path d="M92.10,500.70 V481.75 H99.50 V500.70" stroke="#2222ff" stroke-width="1.7" fill="none" stroke-linejoin="miter"/>
<line x1="95.80" y1="479.40" x2="95.80" y2="481.90" stroke="#2222ff" stroke-width="1.0"/>
<line x1="93.60" y1="479.40" x2="98.00" y2="479.40" stroke="#2222ff" stroke-width="1.0"/>
<rect x="92.15" y="479.75" width="2.30" height="2.30" fill="#000"/>
<rect x="94.65" y="479.25" width="2.30" height="2.30" fill="#000"/>
<rect x="97.15" y="479.75" width="2.30" height="2.30" fill="#000"/>
<path d="M113.80,500.70 V487.35 H121.00 V500.70" stroke="#111" stroke-width="1.7" fill="none" stroke-linejoin="miter"/>
<line x1="117.40" y1="484.50" x2="117.40" y2="488.00" stroke="#111" stroke-width="1.0"/>
<line x1="115.20" y1="484.50" x2="119.60" y2="484.50" stroke="#111" stroke-width="1.0"/>
<rect x="113.75" y="485.35" width="2.30" height="2.30" fill="#000"/>
<rect x="116.25" y="484.35" width="2.30" height="2.30" fill="#000"/>
<rect x="118.75" y="485.35" width="2.30" height="2.30" fill="#000"/>
<path d="M126.60,500.70 V440.85 H134.30 V500.70" stroke="#ff1a1a" stroke-width="1.7" fill="none" stroke-linejoin="miter"/>
<line x1="130.45" y1="431.00" x2="130.45" y2="449.00" stroke="#ff1a1a" stroke-width="1.0"/>
<line x1="128.25" y1="431.00" x2="132.65" y2="431.00" stroke="#ff1a1a" stroke-width="1.0"/>
<line x1="128.25" y1="449.00" x2="132.65" y2="449.00" stroke="#ff1a1a" stroke-width="1.0"/>
<rect x="129.30" y="429.35" width="2.30" height="2.30" fill="#000"/>
<rect x="129.30" y="441.85" width="2.30" height="2.30" fill="#000"/>
<rect x="129.30" y="445.35" width="2.30" height="2.30" fill="#000"/>
<path d="M140.00,500.70 V471.15 H147.40 V500.70" stroke="#2222ff" stroke-width="1.7" fill="none" stroke-linejoin="miter"/>
<line x1="143.70" y1="466.30" x2="143.70" y2="473.30" stroke="#2222ff" stroke-width="1.0"/>
<line x1="141.50" y1="466.30" x2="145.90" y2="466.30" stroke="#2222ff" stroke-width="1.0"/>
<line x1="141.50" y1="473.30" x2="145.90" y2="473.30" stroke="#2222ff" stroke-width="1.0"/>
<rect x="142.55" y="465.15" width="2.30" height="2.30" fill="#000"/>
<rect x="140.05" y="471.15" width="2.30" height="2.30" fill="#000"/>
<rect x="145.05" y="471.15" width="2.30" height="2.30" fill="#000"/>
<path d="M80.50,424.30 V419.60 H130.80 V424.30" stroke="#555" stroke-width="0.8" fill="none"/>
<text x="105.90" y="415.50" font-size="7.0" text-anchor="middle" fill="#4a4a4a" stroke="#4a4a4a" stroke-width="0.140" font-style="italic">###</text>
<path d="M95.30,411.40 V406.80 H143.70 V411.40" stroke="#555" stroke-width="0.8" fill="none"/>
<text x="119.30" y="402.40" font-size="7.0" text-anchor="middle" fill="#4a4a4a" stroke="#4a4a4a" stroke-width="0.140" font-style="italic">#</text>
<text x="82.00" y="514.70" font-size="10" text-anchor="middle" fill="#1a1a1a" stroke="#1a1a1a" stroke-width="0.200">vehicle</text>
<text x="129.70" y="514.70" font-size="10" text-anchor="middle" fill="#1a1a1a" stroke="#1a1a1a" stroke-width="0.200">RSL3</text>
<text x="29.70" y="452.00" font-size="10.25" text-anchor="middle" fill="#1a1a1a" stroke="#1a1a1a" stroke-width="0.205" transform="rotate(-90 29.70 452.00)">Concentration of MDA (nM)</text>
<text x="196.20" y="377.40" font-size="10" text-anchor="start" fill="#1a1a1a" stroke="#1a1a1a" stroke-width="0.200">ZR-75-1</text>
<line x1="205.10" y1="410.50" x2="205.10" y2="502.95" stroke="#111" stroke-width="1.3"/>
<line x1="201.10" y1="410.50" x2="205.10" y2="410.50" stroke="#111" stroke-width="1.3"/>
<text x="199.80" y="414.00" font-size="10" text-anchor="end" fill="#1a1a1a" stroke="#1a1a1a" stroke-width="0.200">500</text>
<line x1="201.10" y1="428.86" x2="205.10" y2="428.86" stroke="#111" stroke-width="1.3"/>
<text x="199.80" y="432.36" font-size="10" text-anchor="end" fill="#1a1a1a" stroke="#1a1a1a" stroke-width="0.200">400</text>
<line x1="201.10" y1="447.22" x2="205.10" y2="447.22" stroke="#111" stroke-width="1.3"/>
<text x="199.80" y="450.72" font-size="10" text-anchor="end" fill="#1a1a1a" stroke="#1a1a1a" stroke-width="0.200">300</text>
<line x1="201.10" y1="465.58" x2="205.10" y2="465.58" stroke="#111" stroke-width="1.3"/>
<text x="199.80" y="469.08" font-size="10" text-anchor="end" fill="#1a1a1a" stroke="#1a1a1a" stroke-width="0.200">200</text>
<line x1="201.10" y1="483.94" x2="205.10" y2="483.94" stroke="#111" stroke-width="1.3"/>
<text x="199.80" y="487.44" font-size="10" text-anchor="end" fill="#1a1a1a" stroke="#1a1a1a" stroke-width="0.200">100</text>
<line x1="201.10" y1="502.30" x2="205.10" y2="502.30" stroke="#111" stroke-width="1.3"/>
<text x="199.80" y="505.80" font-size="10" text-anchor="end" fill="#1a1a1a" stroke="#1a1a1a" stroke-width="0.200">0</text>
<line x1="204.45" y1="502.30" x2="296.00" y2="502.30" stroke="#111" stroke-width="1.3"/>
<line x1="226.60" y1="502.30" x2="226.60" y2="505.90" stroke="#111" stroke-width="1.3"/>
<line x1="274.50" y1="502.30" x2="274.50" y2="505.90" stroke="#111" stroke-width="1.3"/>
<path d="M210.00,502.30 V477.95 H217.20 V502.30" stroke="#111" stroke-width="1.7" fill="none" stroke-linejoin="miter"/>
<line x1="213.60" y1="470.10" x2="213.60" y2="481.60" stroke="#111" stroke-width="1.0"/>
<line x1="211.40" y1="470.10" x2="215.80" y2="470.10" stroke="#111" stroke-width="1.0"/>
<line x1="211.40" y1="481.60" x2="215.80" y2="481.60" stroke="#111" stroke-width="1.0"/>
<rect x="212.45" y="468.95" width="2.30" height="2.30" fill="#000"/>
<rect x="212.45" y="478.95" width="2.30" height="2.30" fill="#000"/>
<rect x="214.45" y="476.95" width="2.30" height="2.30" fill="#000"/>
<path d="M223.10,502.30 V461.15 H230.00 V502.30" stroke="#ff1a1a" stroke-width="1.7" fill="none" stroke-linejoin="miter"/>
<line x1="226.55" y1="459.30" x2="226.55" y2="460.80" stroke="#ff1a1a" stroke-width="1.0"/>
<line x1="224.35" y1="459.30" x2="228.75" y2="459.30" stroke="#ff1a1a" stroke-width="1.0"/>
<rect x="222.90" y="459.15" width="2.30" height="2.30" fill="#000"/>
<rect x="225.40" y="458.65" width="2.30" height="2.30" fill="#000"/>
<rect x="227.90" y="459.15" width="2.30" height="2.30" fill="#000"/>
<path d="M235.90,502.30 V459.55 H243.60 V502.30" stroke="#2222ff" stroke-width="1.7" fill="none" stroke-linejoin="miter"/>
<line x1="239.75" y1="457.70" x2="239.75" y2="459.20" stroke="#2222ff" stroke-width="1.0"/>
<line x1="237.55" y1="457.70" x2="241.95" y2="457.70" stroke="#2222ff" stroke-width="1.0"/>
<rect x="236.10" y="457.55" width="2.30" height="2.30" fill="#000"/>
<rect x="238.60" y="457.05" width="2.30" height="2.30" fill="#000"/>
<rect x="241.10" y="457.55" width="2.30" height="2.30" fill="#000"/>
<path d="M257.90,502.30 V441.25 H265.10 V502.30" stroke="#111" stroke-width="1.7" fill="none" stroke-linejoin="miter"/>
<line x1="261.50" y1="439.40" x2="261.50" y2="440.90" stroke="#111" stroke-width="1.0"/>
<line x1="259.30" y1="439.40" x2="263.70" y2="439.40" stroke="#111" stroke-width="1.0"/>
<rect x="257.85" y="439.25" width="2.30" height="2.30" fill="#000"/>
<rect x="260.35" y="438.75" width="2.30" height="2.30" fill="#000"/>
<rect x="262.85" y="439.25" width="2.30" height="2.30" fill="#000"/>
<path d="M271.00,502.30 V426.15 H278.60 V502.30" stroke="#ff1a1a" stroke-width="1.7" fill="none" stroke-linejoin="miter"/>
<line x1="274.80" y1="420.80" x2="274.80" y2="429.30" stroke="#ff1a1a" stroke-width="1.0"/>
<line x1="272.60" y1="420.80" x2="277.00" y2="420.80" stroke="#ff1a1a" stroke-width="1.0"/>
<line x1="272.60" y1="429.30" x2="277.00" y2="429.30" stroke="#ff1a1a" stroke-width="1.0"/>
<rect x="273.65" y="420.15" width="2.30" height="2.30" fill="#000"/>
<rect x="273.65" y="424.15" width="2.30" height="2.30" fill="#000"/>
<rect x="273.65" y="428.15" width="2.30" height="2.30" fill="#000"/>
<path d="M283.80,502.30 V426.15 H291.00 V502.30" stroke="#2222ff" stroke-width="1.7" fill="none" stroke-linejoin="miter"/>
<line x1="287.40" y1="424.30" x2="287.40" y2="425.80" stroke="#2222ff" stroke-width="1.0"/>
<line x1="285.20" y1="424.30" x2="289.60" y2="424.30" stroke="#2222ff" stroke-width="1.0"/>
<rect x="283.75" y="424.15" width="2.30" height="2.30" fill="#000"/>
<rect x="286.25" y="423.15" width="2.30" height="2.30" fill="#000"/>
<rect x="288.75" y="424.15" width="2.30" height="2.30" fill="#000"/>
<path d="M226.60,420.40 V415.80 H274.50 V420.40" stroke="#555" stroke-width="0.8" fill="none"/>
<text x="250.60" y="410.30" font-size="7.0" text-anchor="middle" fill="#4a4a4a" stroke="#4a4a4a" stroke-width="0.140" font-style="italic">###</text>
<path d="M240.60,405.50 V400.90 H288.00 V405.50" stroke="#555" stroke-width="0.8" fill="none"/>
<text x="264.00" y="395.60" font-size="7.0" text-anchor="middle" fill="#4a4a4a" stroke="#4a4a4a" stroke-width="0.140" font-style="italic">###</text>
<text x="226.20" y="515.70" font-size="10" text-anchor="middle" fill="#1a1a1a" stroke="#1a1a1a" stroke-width="0.200">vehicle</text>
<text x="274.50" y="515.70" font-size="10" text-anchor="middle" fill="#1a1a1a" stroke="#1a1a1a" stroke-width="0.200">RSL3</text>
<text x="178.70" y="453.70" font-size="10.25" text-anchor="middle" fill="#1a1a1a" stroke="#1a1a1a" stroke-width="0.205" transform="rotate(-90 178.70 453.70)">Concentration of MDA (nM)</text>
<rect x="309.65" y="374.25" width="8.20" height="5.70" fill="none" stroke="#111" stroke-width="1.7"/>
<text x="323.90" y="380.40" font-size="10" text-anchor="start" fill="#1a1a1a" stroke="#1a1a1a" stroke-width="0.200">con-sh</text>
<rect x="309.65" y="389.15" width="8.20" height="5.60" fill="none" stroke="#ff1a1a" stroke-width="1.7"/>
<text x="323.90" y="395.30" font-size="10" text-anchor="start" fill="#1a1a1a" stroke="#1a1a1a" stroke-width="0.200">USP35-sh#1</text>
<rect x="309.65" y="404.25" width="8.20" height="5.70" fill="none" stroke="#2222ff" stroke-width="1.7"/>
<text x="323.90" y="410.50" font-size="10" text-anchor="start" fill="#1a1a1a" stroke="#1a1a1a" stroke-width="0.200">USP35-sh#2</text>
<text x="389.60" y="348.20" font-size="12" text-anchor="start" fill="#1a1a1a" stroke="#1a1a1a" stroke-width="0.050">D</text>
<defs>
<filter id="bl1" x="-20%" y="-50%" width="140%" height="200%"><feGaussianBlur stdDeviation="1.2"/></filter>
<filter id="bl2" x="-20%" y="-50%" width="140%" height="200%"><feGaussianBlur stdDeviation="0.9"/></filter>
<filter id="nz" x="0" y="0" width="100%" height="100%"><feTurbulence type="fractalNoise" baseFrequency="0.55" numOctaves="2" seed="3"/><feColorMatrix type="matrix" values="0 0 0 0 0  0 0 0 0 0  0 0 0 0 0  0 0 0 -1.1 0.75"/></filter>
</defs>
<rect x="445.50" y="368.40" width="62.10" height="24.10" fill="#f0f0f0"/>
<rect x="445.50" y="368.40" width="62.10" height="24.10" fill="#000" filter="url(#nz)" opacity="0.12"/>
<rect x="451.50" y="380.20" width="19.50" height="4.00" rx="2.00" fill="#707070" filter="url(#bl1)"/>
<rect x="479.10" y="376.40" width="22.80" height="8.40" rx="4.20" fill="#000" filter="url(#bl2)"/>
<rect x="445.50" y="368.40" width="62.10" height="24.10" fill="none" stroke="#333" stroke-width="1.0"/>
<rect x="445.50" y="397.10" width="62.10" height="20.70" fill="#f0f0f0"/>
<rect x="445.50" y="397.10" width="62.10" height="20.70" fill="#000" filter="url(#nz)" opacity="0.12"/>
<rect x="447.80" y="404.90" width="23.70" height="4.80" rx="2.40" fill="#2e2e2e" filter="url(#bl2)"/>
<rect x="475.00" y="406.10" width="26.30" height="4.60" rx="2.30" fill="#333" filter="url(#bl2)"/>
<rect x="445.50" y="397.10" width="62.10" height="20.70" fill="none" stroke="#333" stroke-width="1.0"/>
<text x="445.00" y="383.30" font-size="10" text-anchor="end" fill="#1a1a1a" stroke="#1a1a1a" stroke-width="0.200">USP35</text>
<text x="444.20" y="409.40" font-size="10" text-anchor="end" fill="#1a1a1a" stroke="#1a1a1a" stroke-width="0.200">tubulin</text>
<text x="459.80" y="366.40" font-size="10.2" text-anchor="start" fill="#1a1a1a" stroke="#1a1a1a" stroke-width="0.204" transform="rotate(-47 459.80 366.40)">vector</text>
<text x="489.60" y="367.20" font-size="10.2" text-anchor="start" fill="#1a1a1a" stroke="#1a1a1a" stroke-width="0.204" transform="rotate(-47 489.60 367.20)">USP35</text>
<text x="510.70" y="370.30" font-size="6.6" text-anchor="start" fill="#222" stroke="#222" stroke-width="0.132">KDa</text>
<line x1="507.60" y1="377.60" x2="510.60" y2="377.60" stroke="#222" stroke-width="0.9"/>
<text x="511.00" y="380.20" font-size="7.6" text-anchor="start" fill="#222" stroke="#222" stroke-width="0.152">130</text>
<line x1="507.60" y1="404.60" x2="510.60" y2="404.60" stroke="#222" stroke-width="0.9"/>
<text x="511.30" y="407.20" font-size="7.6" text-anchor="start" fill="#222" stroke="#222" stroke-width="0.152">55</text>
<circle cx="449.9" cy="425.5" r="0.9" fill="#222"/>
<text x="457.40" y="428.30" font-size="7.8" text-anchor="start" fill="#222" stroke="#222" stroke-width="0.156">MCF-7</text>
<rect x="573.40" y="369.90" width="58.00" height="22.60" fill="#f0f0f0"/>
<rect x="573.40" y="369.90" width="58.00" height="22.60" fill="#000" filter="url(#nz)" opacity="0.12"/>
<rect x="578.00" y="379.25" width="20.00" height="3.50" rx="1.75" fill="#dedede" filter="url(#bl1)"/>
<rect x="602.20" y="374.60" width="27.90" height="10.80" rx="5.40" fill="#000" filter="url(#bl2)"/>
<rect x="573.40" y="369.90" width="58.00" height="22.60" fill="none" stroke="#333" stroke-width="1.0"/>
<rect x="573.40" y="396.60" width="58.00" height="18.00" fill="#f0f0f0"/>
<rect x="573.40" y="396.60" width="58.00" height="18.00" fill="#000" filter="url(#nz)" opacity="0.12"/>
<rect x="575.90" y="404.20" width="23.80" height="5.40" rx="2.70" fill="#111" filter="url(#bl2)"/>
<rect x="604.10" y="404.10" width="24.80" height="4.80" rx="2.40" fill="#1e1e1e" filter="url(#bl2)"/>
<rect x="573.40" y="396.60" width="58.00" height="18.00" fill="none" stroke="#333" stroke-width="1.0"/>
<text x="571.20" y="383.60" font-size="10.3" text-anchor="end" fill="#1a1a1a" stroke="#1a1a1a" stroke-width="0.206">USP35</text>
<text x="571.20" y="409.80" font-size="10.3" text-anchor="end" fill="#1a1a1a" stroke="#1a1a1a" stroke-width="0.206">tubulin</text>
<text x="583.30" y="369.20" font-size="10.4" text-anchor="start" fill="#1a1a1a" stroke="#1a1a1a" stroke-width="0.208" transform="rotate(-47 583.30 369.20)">vector</text>
<text x="616.00" y="370.00" font-size="10.4" text-anchor="start" fill="#1a1a1a" stroke="#1a1a1a" stroke-width="0.208" transform="rotate(-47 616.00 370.00)">USP35</text>
<text x="633.60" y="371.80" font-size="6.2" text-anchor="start" fill="#222" stroke="#222" stroke-width="0.124">KDa</text>
<line x1="631.40" y1="379.60" x2="634.40" y2="379.60" stroke="#222" stroke-width="0.9"/>
<text x="634.80" y="381.90" font-size="6.6" text-anchor="start" fill="#222" stroke="#222" stroke-width="0.132">130</text>
<line x1="631.40" y1="404.00" x2="634.40" y2="404.00" stroke="#222" stroke-width="0.9"/>
<text x="635.80" y="406.10" font-size="6.2" text-anchor="start" fill="#222" stroke="#222" stroke-width="0.124">55</text>
<circle cx="574.1" cy="422.5" r="0.9" fill="#222"/>
<text x="583.40" y="426.40" font-size="7.6" text-anchor="start" fill="#222" stroke="#222" stroke-width="0.152">ZR-75-1</text>
<line x1="451.20" y1="454.05" x2="451.20" y2="546.65" stroke="#111" stroke-width="1.3"/>
<line x1="447.20" y1="454.05" x2="451.20" y2="454.05" stroke="#111" stroke-width="1.3"/>
<text x="445.90" y="457.55" font-size="10" text-anchor="end" fill="#1a1a1a" stroke="#1a1a1a" stroke-width="0.200">15</text>
<line x1="447.20" y1="484.70" x2="451.20" y2="484.70" stroke="#111" stroke-width="1.3"/>
<text x="445.90" y="488.20" font-size="10" text-anchor="end" fill="#1a1a1a" stroke="#1a1a1a" stroke-width="0.200">10</text>
<line x1="447.20" y1="515.35" x2="451.20" y2="515.35" stroke="#111" stroke-width="1.3"/>
<text x="445.90" y="518.85" font-size="10" text-anchor="end" fill="#1a1a1a" stroke="#1a1a1a" stroke-width="0.200">5</text>
<line x1="447.20" y1="546.00" x2="451.20" y2="546.00" stroke="#111" stroke-width="1.3"/>
<text x="445.90" y="549.50" font-size="10" text-anchor="end" fill="#1a1a1a" stroke="#1a1a1a" stroke-width="0.200">0</text>
<line x1="450.55" y1="546.00" x2="513.00" y2="546.00" stroke="#111" stroke-width="1.3"/>
<line x1="468.80" y1="546.00" x2="468.80" y2="549.60" stroke="#111" stroke-width="1.3"/>
<line x1="495.30" y1="546.00" x2="495.30" y2="549.60" stroke="#111" stroke-width="1.3"/>
<path d="M461.25,546.00 V540.80 H476.35 V546.00" stroke="#111" stroke-width="2.0" fill="none" stroke-linejoin="miter"/>
<rect x="462.65" y="538.35" width="2.30" height="2.30" fill="#000"/>
<rect x="467.65" y="538.35" width="2.30" height="2.30" fill="#000"/>
<rect x="472.65" y="538.35" width="2.30" height="2.30" fill="#000"/>
<path d="M487.65,546.00 V477.10 H503.15 V546.00" stroke="#8f8f8f" stroke-width="1.4" fill="none" stroke-linejoin="miter"/>
<line x1="495.40" y1="461.20" x2="495.40" y2="490.40" stroke="#8a8a8a" stroke-width="1.0"/>
<line x1="493.20" y1="461.20" x2="497.60" y2="461.20" stroke="#8a8a8a" stroke-width="1.0"/>
<line x1="493.20" y1="490.40" x2="497.60" y2="490.40" stroke="#8a8a8a" stroke-width="1.0"/>
<rect x="494.25" y="461.75" width="2.30" height="2.30" fill="#000"/>
<rect x="494.25" y="472.25" width="2.30" height="2.30" fill="#000"/>
<rect x="494.25" y="489.95" width="2.30" height="2.30" fill="#000"/>
<path d="M469.20,457.50 V453.30 H494.90 V457.50" stroke="#333" stroke-width="0.95" fill="none"/>
<path d="M479.25,444.80L479.25,448.80M477.52,445.80L480.98,447.80M480.98,445.80L477.52,447.80M484.85,444.80L484.85,448.80M483.12,445.80L486.58,447.80M486.58,445.80L483.12,447.80" stroke="#111" stroke-width="1.1" fill="none" stroke-linecap="butt"/>
<text x="431.60" y="497.80" font-size="10" text-anchor="middle" fill="#1a1a1a" stroke="#1a1a1a" stroke-width="0.200" transform="rotate(-90 431.60 497.80)">relative USP35 protein level</text>
<text x="471.30" y="558.00" font-size="10" text-anchor="end" fill="#1a1a1a" stroke="#1a1a1a" stroke-width="0.200" transform="rotate(-45 471.30 558.00)">vector</text>
<text x="497.50" y="558.60" font-size="10" text-anchor="end" fill="#1a1a1a" stroke="#1a1a1a" stroke-width="0.200" transform="rotate(-45 497.50 558.60)">USP35</text>
<line x1="577.70" y1="454.31" x2="577.70" y2="546.65" stroke="#111" stroke-width="1.3"/>
<line x1="573.70" y1="454.31" x2="577.70" y2="454.31" stroke="#111" stroke-width="1.3"/>
<text x="572.40" y="457.81" font-size="10" text-anchor="end" fill="#1a1a1a" stroke="#1a1a1a" stroke-width="0.200">150</text>
<line x1="573.70" y1="484.87" x2="577.70" y2="484.87" stroke="#111" stroke-width="1.3"/>
<text x="572.40" y="488.37" font-size="10" text-anchor="end" fill="#1a1a1a" stroke="#1a1a1a" stroke-width="0.200">100</text>
<line x1="573.70" y1="515.43" x2="577.70" y2="515.43" stroke="#111" stroke-width="1.3"/>
<text x="572.40" y="518.93" font-size="10" text-anchor="end" fill="#1a1a1a" stroke="#1a1a1a" stroke-width="0.200">50</text>
<line x1="573.70" y1="546.00" x2="577.70" y2="546.00" stroke="#111" stroke-width="1.3"/>
<text x="572.40" y="549.50" font-size="10" text-anchor="end" fill="#1a1a1a" stroke="#1a1a1a" stroke-width="0.200">0</text>
<line x1="577.05" y1="546.00" x2="638.40" y2="546.00" stroke="#111" stroke-width="1.3"/>
<line x1="594.50" y1="546.00" x2="594.50" y2="549.60" stroke="#111" stroke-width="1.3"/>
<line x1="621.00" y1="546.00" x2="621.00" y2="549.60" stroke="#111" stroke-width="1.3"/>
<path d="M587.25,546.00 V545.40 H601.75 V546.00" stroke="#111" stroke-width="2.0" fill="none" stroke-linejoin="miter"/>
<rect x="589.35" y="543.25" width="2.30" height="2.30" fill="#000"/>
<rect x="593.35" y="543.45" width="2.30" height="2.30" fill="#000"/>
<rect x="597.35" y="543.25" width="2.30" height="2.30" fill="#000"/>
<path d="M613.15,546.00 V484.50 H628.75 V546.00" stroke="#8f8f8f" stroke-width="1.4" fill="none" stroke-linejoin="miter"/>
<line x1="620.95" y1="475.80" x2="620.95" y2="490.60" stroke="#8a8a8a" stroke-width="1.0"/>
<line x1="618.75" y1="475.80" x2="623.15" y2="475.80" stroke="#8a8a8a" stroke-width="1.0"/>
<line x1="618.75" y1="490.60" x2="623.15" y2="490.60" stroke="#8a8a8a" stroke-width="1.0"/>
<rect x="619.80" y="474.75" width="2.30" height="2.30" fill="#000"/>
<rect x="619.80" y="481.15" width="2.30" height="2.30" fill="#000"/>
<rect x="619.80" y="489.65" width="2.30" height="2.30" fill="#000"/>
<path d="M594.60,465.60 V460.90 H621.50 V465.60" stroke="#333" stroke-width="0.95" fill="none"/>
<path d="M602.45,451.70L602.45,455.70M600.72,452.70L604.18,454.70M604.18,452.70L600.72,454.70M608.05,451.70L608.05,455.70M606.32,452.70L609.78,454.70M609.78,452.70L606.32,454.70M613.65,451.70L613.65,455.70M611.92,452.70L615.38,454.70M615.38,452.70L611.92,454.70" stroke="#111" stroke-width="1.1" fill="none" stroke-linecap="butt"/>
<text x="552.20" y="497.00" font-size="10" text-anchor="middle" fill="#1a1a1a" stroke="#1a1a1a" stroke-width="0.200" transform="rotate(-90 552.20 497.00)">relative USP35 protein level</text>
<text x="597.60" y="557.60" font-size="10" text-anchor="end" fill="#1a1a1a" stroke="#1a1a1a" stroke-width="0.200" transform="rotate(-45 597.60 557.60)">vector</text>
<text x="623.50" y="557.60" font-size="10" text-anchor="end" fill="#1a1a1a" stroke="#1a1a1a" stroke-width="0.200" transform="rotate(-45 623.50 557.60)">USP35</text>
<text x="1.60" y="569.20" font-size="12" text-anchor="start" fill="#1a1a1a" stroke="#1a1a1a" stroke-width="0.050">E</text>
<text x="40.50" y="585.70" font-size="10" text-anchor="start" fill="#1a1a1a" stroke="#1a1a1a" stroke-width="0.200">MCF-7</text>
<line x1="53.20" y1="614.11" x2="53.20" y2="706.75" stroke="#111" stroke-width="1.3"/>
<line x1="49.20" y1="614.11" x2="53.20" y2="614.11" stroke="#111" stroke-width="1.3"/>
<text x="47.90" y="617.61" font-size="10" text-anchor="end" fill="#1a1a1a" stroke="#1a1a1a" stroke-width="0.200">1.5</text>
<line x1="49.20" y1="644.77" x2="53.20" y2="644.77" stroke="#111" stroke-width="1.3"/>
<text x="47.90" y="648.27" font-size="10" text-anchor="end" fill="#1a1a1a" stroke="#1a1a1a" stroke-width="0.200">1.0</text>
<line x1="49.20" y1="675.44" x2="53.20" y2="675.44" stroke="#111" stroke-width="1.3"/>
<text x="47.90" y="678.94" font-size="10" text-anchor="end" fill="#1a1a1a" stroke="#1a1a1a" stroke-width="0.200">0.5</text>
<line x1="49.20" y1="706.10" x2="53.20" y2="706.10" stroke="#111" stroke-width="1.3"/>
<text x="47.90" y="709.60" font-size="10" text-anchor="end" fill="#1a1a1a" stroke="#1a1a1a" stroke-width="0.200">0.0</text>
<line x1="52.55" y1="706.10" x2="143.40" y2="706.10" stroke="#111" stroke-width="1.3"/>
<line x1="72.80" y1="706.10" x2="72.80" y2="709.70" stroke="#111" stroke-width="1.3"/>
<line x1="122.10" y1="706.10" x2="122.10" y2="709.70" stroke="#111" stroke-width="1.3"/>
<path d="M58.05,706.10 V634.65 H69.35 V706.10" stroke="#111" stroke-width="1.7" fill="none" stroke-linejoin="miter"/>
<line x1="63.70" y1="629.30" x2="63.70" y2="636.80" stroke="#111" stroke-width="1.0"/>
<line x1="61.50" y1="629.30" x2="65.90" y2="629.30" stroke="#111" stroke-width="1.0"/>
<line x1="61.50" y1="636.80" x2="65.90" y2="636.80" stroke="#111" stroke-width="1.0"/>
<rect x="62.55" y="627.65" width="2.30" height="2.30" fill="#000"/>
<rect x="62.55" y="633.65" width="2.30" height="2.30" fill="#000"/>
<path d="M76.35,706.10 V621.55 H87.45 V706.10" stroke="#ff1a1a" stroke-width="1.7" fill="none" stroke-linejoin="miter"/>
<line x1="81.90" y1="619.20" x2="81.90" y2="621.20" stroke="#ff1a1a" stroke-width="1.0"/>
<line x1="79.70" y1="619.20" x2="84.10" y2="619.20" stroke="#ff1a1a" stroke-width="1.0"/>
<rect x="77.25" y="620.05" width="2.30" height="2.30" fill="#000"/>
<rect x="80.75" y="618.05" width="2.30" height="2.30" fill="#000"/>
<rect x="84.25" y="619.55" width="2.30" height="2.30" fill="#000"/>
<path d="M106.95,706.10 V676.25 H118.25 V706.10" stroke="#111" stroke-width="1.7" fill="none" stroke-linejoin="miter"/>
<line x1="112.60" y1="670.40" x2="112.60" y2="677.90" stroke="#111" stroke-width="1.0"/>
<line x1="110.40" y1="670.40" x2="114.80" y2="670.40" stroke="#111" stroke-width="1.0"/>
<line x1="110.40" y1="677.90" x2="114.80" y2="677.90" stroke="#111" stroke-width="1.0"/>
<rect x="111.45" y="668.75" width="2.30" height="2.30" fill="#000"/>
<rect x="111.45" y="675.75" width="2.30" height="2.30" fill="#000"/>
<path d="M125.55,706.10 V657.65 H136.35 V706.10" stroke="#ff1a1a" stroke-width="1.7" fill="none" stroke-linejoin="miter"/>
<line x1="130.95" y1="651.80" x2="130.95" y2="660.80" stroke="#ff1a1a" stroke-width="1.0"/>
<line x1="128.75" y1="651.80" x2="133.15" y2="651.80" stroke="#ff1a1a" stroke-width="1.0"/>
<line x1="128.75" y1="660.80" x2="133.15" y2="660.80" stroke="#ff1a1a" stroke-width="1.0"/>
<rect x="129.80" y="650.65" width="2.30" height="2.30" fill="#000"/>
<rect x="129.80" y="654.65" width="2.30" height="2.30" fill="#000"/>
<rect x="129.80" y="659.65" width="2.30" height="2.30" fill="#000"/>
<path d="M63.50,615.80 V612.10 H81.50 V615.80" stroke="#333" stroke-width="0.95" fill="none"/>
<path d="M70.20,603.30L70.20,606.50M68.81,604.10L71.59,605.70M71.59,604.10L68.81,605.70M74.80,603.30L74.80,606.50M73.41,604.10L76.19,605.70M76.19,604.10L73.41,605.70" stroke="#111" stroke-width="1.05" fill="none" stroke-linecap="butt"/>
<path d="M63.50,602.70 V599.00 H111.70 V602.70" stroke="#333" stroke-width="0.95" fill="none"/>
<text x="87.60" y="593.00" font-size="7.0" text-anchor="middle" fill="#4a4a4a" stroke="#4a4a4a" stroke-width="0.140" font-style="italic">###</text>
<path d="M113.40,602.70 V599.00 H131.00 V602.70" stroke="#333" stroke-width="0.95" fill="none"/>
<path d="M117.60,591.10L117.60,594.30M116.21,591.90L118.99,593.50M118.99,591.90L116.21,593.50M122.20,591.10L122.20,594.30M120.81,591.90L123.59,593.50M123.59,591.90L120.81,593.50M126.80,591.10L126.80,594.30M125.41,591.90L128.19,593.50M128.19,591.90L125.41,593.50" stroke="#111" stroke-width="1.05" fill="none" stroke-linecap="butt"/>
<text x="72.30" y="720.40" font-size="10" text-anchor="middle" fill="#1a1a1a" stroke="#1a1a1a" stroke-width="0.200">vehicle</text>
<text x="121.00" y="720.40" font-size="10" text-anchor="middle" fill="#1a1a1a" stroke="#1a1a1a" stroke-width="0.200">RSL3</text>
<text x="27.70" y="657.40" font-size="10.3" text-anchor="middle" fill="#1a1a1a" stroke="#1a1a1a" stroke-width="0.206" transform="rotate(-90 27.70 657.40)">Absorbance (OD540nm)</text>
<rect x="145.45" y="591.75" width="8.20" height="5.50" fill="none" stroke="#111" stroke-width="1.7"/>
<text x="160.10" y="597.80" font-size="10" text-anchor="start" fill="#1a1a1a" stroke="#1a1a1a" stroke-width="0.200">vector</text>
<rect x="145.45" y="607.15" width="8.20" height="5.60" fill="none" stroke="#ff1a1a" stroke-width="1.7"/>
<text x="160.10" y="613.10" font-size="10" text-anchor="start" fill="#1a1a1a" stroke="#1a1a1a" stroke-width="0.200">USP35</text>
<text x="43.80" y="753.30" font-size="10" text-anchor="start" fill="#1a1a1a" stroke="#1a1a1a" stroke-width="0.200">ZR-75-1</text>
<line x1="51.50" y1="768.20" x2="51.50" y2="860.35" stroke="#111" stroke-width="1.3"/>
<line x1="47.50" y1="768.20" x2="51.50" y2="768.20" stroke="#111" stroke-width="1.3"/>
<text x="46.20" y="771.70" font-size="10" text-anchor="end" fill="#1a1a1a" stroke="#1a1a1a" stroke-width="0.200">1.5</text>
<line x1="47.50" y1="798.70" x2="51.50" y2="798.70" stroke="#111" stroke-width="1.3"/>
<text x="46.20" y="802.20" font-size="10" text-anchor="end" fill="#1a1a1a" stroke="#1a1a1a" stroke-width="0.200">1.0</text>
<line x1="47.50" y1="829.20" x2="51.50" y2="829.20" stroke="#111" stroke-width="1.3"/>
<text x="46.20" y="832.70" font-size="10" text-anchor="end" fill="#1a1a1a" stroke="#1a1a1a" stroke-width="0.200">0.5</text>
<line x1="47.50" y1="859.70" x2="51.50" y2="859.70" stroke="#111" stroke-width="1.3"/>
<text x="46.20" y="863.20" font-size="10" text-anchor="end" fill="#1a1a1a" stroke="#1a1a1a" stroke-width="0.200">0.0</text>
<line x1="50.85" y1="859.70" x2="143.40" y2="859.70" stroke="#111" stroke-width="1.3"/>
<line x1="72.80" y1="859.70" x2="72.80" y2="863.30" stroke="#111" stroke-width="1.3"/>
<line x1="122.10" y1="859.70" x2="122.10" y2="863.30" stroke="#111" stroke-width="1.3"/>
<path d="M58.05,859.70 V807.95 H68.95 V859.70" stroke="#111" stroke-width="1.7" fill="none" stroke-linejoin="miter"/>
<line x1="63.50" y1="804.10" x2="63.50" y2="810.10" stroke="#111" stroke-width="1.0"/>
<line x1="61.30" y1="804.10" x2="65.70" y2="804.10" stroke="#111" stroke-width="1.0"/>
<line x1="61.30" y1="810.10" x2="65.70" y2="810.10" stroke="#111" stroke-width="1.0"/>
<rect x="62.35" y="803.95" width="2.30" height="2.30" fill="#000"/>
<rect x="59.35" y="806.95" width="2.30" height="2.30" fill="#000"/>
<rect x="62.35" y="808.95" width="2.30" height="2.30" fill="#000"/>
<path d="M76.65,859.70 V796.35 H87.15 V859.70" stroke="#7d22b8" stroke-width="1.7" fill="none" stroke-linejoin="miter"/>
<line x1="81.90" y1="791.50" x2="81.90" y2="797.50" stroke="#7d22b8" stroke-width="1.0"/>
<line x1="79.70" y1="791.50" x2="84.10" y2="791.50" stroke="#7d22b8" stroke-width="1.0"/>
<line x1="79.70" y1="797.50" x2="84.10" y2="797.50" stroke="#7d22b8" stroke-width="1.0"/>
<rect x="80.75" y="790.35" width="2.30" height="2.30" fill="#000"/>
<rect x="80.75" y="794.35" width="2.30" height="2.30" fill="#000"/>
<rect x="80.75" y="796.35" width="2.30" height="2.30" fill="#000"/>
<path d="M106.95,859.70 V829.25 H117.85 V859.70" stroke="#111" stroke-width="1.7" fill="none" stroke-linejoin="miter"/>
<line x1="112.40" y1="825.40" x2="112.40" y2="829.40" stroke="#111" stroke-width="1.0"/>
<line x1="110.20" y1="825.40" x2="114.60" y2="825.40" stroke="#111" stroke-width="1.0"/>
<rect x="111.25" y="824.25" width="2.30" height="2.30" fill="#000"/>
<rect x="111.25" y="827.75" width="2.30" height="2.30" fill="#000"/>
<path d="M125.25,859.70 V820.45 H136.05 V859.70" stroke="#7d22b8" stroke-width="1.7" fill="none" stroke-linejoin="miter"/>
<line x1="130.65" y1="816.60" x2="130.65" y2="822.60" stroke="#7d22b8" stroke-width="1.0"/>
<line x1="128.45" y1="816.60" x2="132.85" y2="816.60" stroke="#7d22b8" stroke-width="1.0"/>
<line x1="128.45" y1="822.60" x2="132.85" y2="822.60" stroke="#7d22b8" stroke-width="1.0"/>
<rect x="129.50" y="815.95" width="2.30" height="2.30" fill="#000"/>
<rect x="129.50" y="818.45" width="2.30" height="2.30" fill="#000"/>
<rect x="129.50" y="821.45" width="2.30" height="2.30" fill="#000"/>
<path d="M62.80,789.40 V785.20 H80.60 V789.40" stroke="#333" stroke-width="0.95" fill="none"/>
<path d="M69.40,777.50L69.40,780.70M68.01,778.30L70.79,779.90M70.79,778.30L68.01,779.90M74.00,777.50L74.00,780.70M72.61,778.30L75.39,779.90M75.39,778.30L72.61,779.90" stroke="#111" stroke-width="1.05" fill="none" stroke-linecap="butt"/>
<path d="M62.80,777.10 V773.10 H114.30 V777.10" stroke="#333" stroke-width="0.95" fill="none"/>
<text x="87.60" y="768.30" font-size="7.0" text-anchor="middle" fill="#4a4a4a" stroke="#4a4a4a" stroke-width="0.140" font-style="italic">###</text>
<path d="M116.00,777.10 V773.10 H131.80 V777.10" stroke="#333" stroke-width="0.95" fill="none"/>
<path d="M121.60,764.80L121.60,768.00M120.21,765.60L122.99,767.20M122.99,765.60L120.21,767.20M126.20,764.80L126.20,768.00M124.81,765.60L127.59,767.20M127.59,765.60L124.81,767.20" stroke="#111" stroke-width="1.05" fill="none" stroke-linecap="butt"/>
<text x="72.30" y="873.30" font-size="10" text-anchor="middle" fill="#1a1a1a" stroke="#1a1a1a" stroke-width="0.200">vehicle</text>
<text x="121.30" y="873.30" font-size="10" text-anchor="middle" fill="#1a1a1a" stroke="#1a1a1a" stroke-width="0.200">RSL3</text>
<text x="27.70" y="810.80" font-size="10.3" text-anchor="middle" fill="#1a1a1a" stroke="#1a1a1a" stroke-width="0.206" transform="rotate(-90 27.70 810.80)">Absorbance (OD540nm)</text>
<rect x="146.95" y="762.15" width="7.70" height="5.70" fill="none" stroke="#111" stroke-width="1.7"/>
<text x="161.30" y="768.50" font-size="10" text-anchor="start" fill="#1a1a1a" stroke="#1a1a1a" stroke-width="0.200">vector</text>
<rect x="146.95" y="777.45" width="7.70" height="5.80" fill="none" stroke="#7d22b8" stroke-width="1.7"/>
<text x="161.30" y="783.60" font-size="10" text-anchor="start" fill="#1a1a1a" stroke="#1a1a1a" stroke-width="0.200">USP35</text>
<text x="214.20" y="569.00" font-size="12" text-anchor="start" fill="#1a1a1a" stroke="#1a1a1a" stroke-width="0.050">F</text>
<text x="255.70" y="575.40" font-size="10" text-anchor="start" fill="#1a1a1a" stroke="#1a1a1a" stroke-width="0.200">MCF-7</text>
<path d="M248.10,626.50 L248.60,626.50 L249.10,626.50 L249.60,626.50 L250.10,626.50 L250.60,626.50 L251.10,626.50 L251.60,626.50 L252.10,626.50 L252.60,626.50 L253.10,626.50 L253.60,626.50 L254.10,626.50 L254.60,626.50 L255.10,626.50 L255.60,626.50 L256.10,626.50 L256.60,626.50 L257.10,626.50 L257.60,626.50 L258.10,626.50 L258.60,626.50 L259.10,626.50 L259.60,626.50 L260.10,626.50 L260.60,626.50 L261.10,626.50 L261.60,626.49 L262.10,626.49 L262.60,626.49 L263.10,626.49 L263.60,626.48 L264.10,626.48 L264.60,626.47 L265.10,626.47 L265.60,626.46 L266.10,626.45 L266.60,626.43 L267.10,626.42 L267.60,626.40 L268.10,626.38 L268.60,626.35 L269.10,626.32 L269.60,626.28 L270.10,626.24 L270.60,626.19 L271.10,626.13 L271.60,626.06 L272.10,625.98 L272.60,625.88 L273.10,625.78 L273.60,625.65 L274.10,625.51 L274.60,625.35 L275.10,625.17 L275.60,624.97 L276.10,624.74 L276.60,624.57 L277.10,624.32 L277.60,624.00 L278.10,623.57 L278.60,623.07 L279.10,622.71 L279.60,622.23 L280.10,621.68 L280.60,621.24 L281.10,620.61 L281.60,619.93 L282.10,619.13 L282.60,618.58 L283.10,618.00 L283.60,617.45 L284.10,616.59 L284.60,615.85 L285.10,614.66 L285.60,613.36 L286.10,612.59 L286.60,611.96 L287.10,611.19 L287.60,610.88 L288.10,610.42 L288.60,609.59 L289.10,607.92 L289.60,606.72 L290.10,605.52 L290.60,604.24 L291.10,602.81 L291.60,602.36 L292.10,601.16 L292.60,599.97 L293.10,599.22 L293.60,598.30 L294.10,597.76 L294.60,597.46 L295.10,597.13 L295.60,596.42 L296.10,596.14 L296.60,595.05 L297.10,593.79 L297.60,592.95 L298.10,592.91 L298.60,593.08 L299.10,593.35 L299.60,593.99 L300.10,593.46 L300.60,592.16 L301.10,591.77 L301.60,590.68 L302.10,589.50 L302.60,589.75 L303.10,590.23 L303.60,590.08 L304.10,590.58 L304.60,591.84 L305.10,592.68 L305.60,592.92 L306.10,593.58 L306.60,593.72 L307.10,594.35 L307.60,595.53 L308.10,596.52 L308.60,597.46 L309.10,599.19 L309.60,599.98 L310.10,601.03 L310.60,602.75 L311.10,603.53 L311.60,604.29 L312.10,606.10 L312.60,607.51 L313.10,608.88 L313.60,610.64 L314.10,612.52 L314.60,613.32 L315.10,614.22 L315.60,615.26 L316.10,616.21 L316.60,617.09 L317.10,618.21 L317.60,619.05 L318.10,619.97 L318.60,620.76 L319.10,621.47 L319.60,622.18 L320.10,622.83 L320.60,623.33 L321.10,623.75 L321.60,624.21 L322.10,624.56 L322.60,624.80 L323.10,625.08 L323.60,625.33 L324.10,625.53 L324.60,625.71 L325.10,625.86 L325.60,625.98 L326.10,626.08 L326.60,626.17 L327.10,626.24 L327.60,626.29 L328.10,626.34 L328.60,626.38 L329.10,626.40 L329.60,626.43 L330.10,626.44 L330.60,626.46 L331.10,626.47 L331.60,626.48 L332.10,626.48 L332.60,626.49 L333.10,626.49 L333.60,626.49 L334.10,626.50 L334.60,626.50 L335.10,626.50 L335.60,626.50 L336.10,626.50 L336.60,626.50 L337.10,626.50 L337.60,626.50 L338.10,626.50 L338.60,626.50 L339.10,626.50 L339.60,626.50 L340.10,626.50 L340.60,626.50 L341.10,626.50 L341.60,626.50 L342.10,626.50 L342.60,626.50 L343.10,626.50 L343.60,626.50 L344.10,626.50 L344.60,626.50 L345.10,626.50 L345.60,626.50 L346.10,626.50 L346.60,626.50 L347.10,626.50 L347.60,626.50 L348.10,626.50 L348.60,626.50 L349.10,626.50 L349.60,626.50 L350.10,626.50 L350.60,626.50 L351.10,626.50 L351.60,626.50 L352.10,626.50 L352.60,626.50 L353.10,626.50 L353.60,626.50 L354.10,626.50 L354.60,626.50 L355.10,626.50 L355.60,626.50 L356.10,626.50 L356.60,626.50 L357.10,626.50 L357.60,626.50 L357.90,626.50 L248.10,626.50 Z" fill="#e45f5f" fill-opacity="0.5" stroke="none"/>
<path d="M272.60,625.88 L273.10,625.78 L273.60,625.65 L274.10,625.51 L274.60,625.35 L275.10,625.17 L275.60,624.97 L276.10,624.74 L276.60,624.57 L277.10,624.32 L277.60,624.00 L278.10,623.57 L278.60,623.07 L279.10,622.71 L279.60,622.23 L280.10,621.68 L280.60,621.24 L281.10,620.61 L281.60,619.93 L282.10,619.13 L282.60,618.58 L283.10,618.00 L283.60,617.45 L284.10,616.59 L284.60,615.85 L285.10,614.66 L285.60,613.36 L286.10,612.59 L286.60,611.96 L287.10,611.19 L287.60,610.88 L288.10,610.42 L288.60,609.59 L289.10,607.92 L289.60,606.72 L290.10,605.52 L290.60,604.24 L291.10,602.81 L291.60,602.36 L292.10,601.16 L292.60,599.97 L293.10,599.22 L293.60,598.30 L294.10,597.76 L294.60,597.46 L295.10,597.13 L295.60,596.42 L296.10,596.14 L296.60,595.05 L297.10,593.79 L297.60,592.95 L298.10,592.91 L298.60,593.08 L299.10,593.35 L299.60,593.99 L300.10,593.46 L300.60,592.16 L301.10,591.77 L301.60,590.68 L302.10,589.50 L302.60,589.75 L303.10,590.23 L303.60,590.08 L304.10,590.58 L304.60,591.84 L305.10,592.68 L305.60,592.92 L306.10,593.58 L306.60,593.72 L307.10,594.35 L307.60,595.53 L308.10,596.52 L308.60,597.46 L309.10,599.19 L309.60,599.98 L310.10,601.03 L310.60,602.75 L311.10,603.53 L311.60,604.29 L312.10,606.10 L312.60,607.51 L313.10,608.88 L313.60,610.64 L314.10,612.52 L314.60,613.32 L315.10,614.22 L315.60,615.26 L316.10,616.21 L316.60,617.09 L317.10,618.21 L317.60,619.05 L318.10,619.97 L318.60,620.76 L319.10,621.47 L319.60,622.18 L320.10,622.83 L320.60,623.33 L321.10,623.75 L321.60,624.21 L322.10,624.56 L322.60,624.80 L323.10,625.08 L323.60,625.33 L324.10,625.53 L324.60,625.71 L325.10,625.86" fill="none" stroke="#e05a5a" stroke-width="0.8" stroke-opacity="0.85"/>
<line x1="248.10" y1="626.50" x2="357.90" y2="626.50" stroke="#e05a5a" stroke-width="0.6" stroke-opacity="0.4"/>
<path d="M248.10,648.40 L248.60,648.40 L249.10,648.40 L249.60,648.40 L250.10,648.40 L250.60,648.40 L251.10,648.40 L251.60,648.40 L252.10,648.40 L252.60,648.40 L253.10,648.40 L253.60,648.40 L254.10,648.40 L254.60,648.40 L255.10,648.40 L255.60,648.40 L256.10,648.40 L256.60,648.40 L257.10,648.40 L257.60,648.40 L258.10,648.40 L258.60,648.40 L259.10,648.40 L259.60,648.40 L260.10,648.40 L260.60,648.40 L261.10,648.40 L261.60,648.40 L262.10,648.40 L262.60,648.40 L263.10,648.40 L263.60,648.40 L264.10,648.40 L264.60,648.40 L265.10,648.40 L265.60,648.40 L266.10,648.40 L266.60,648.40 L267.10,648.40 L267.60,648.39 L268.10,648.39 L268.60,648.39 L269.10,648.38 L269.60,648.38 L270.10,648.37 L270.60,648.36 L271.10,648.34 L271.60,648.33 L272.10,648.30 L272.60,648.27 L273.10,648.23 L273.60,648.19 L274.10,648.13 L274.60,648.05 L275.10,647.96 L275.60,647.85 L276.10,647.71 L276.60,647.55 L277.10,647.35 L277.60,647.12 L278.10,646.85 L278.60,646.61 L279.10,646.25 L279.60,645.81 L280.10,645.21 L280.60,644.65 L281.10,644.01 L281.60,643.16 L282.10,642.41 L282.60,641.66 L283.10,640.81 L283.60,639.59 L284.10,638.77 L284.60,637.84 L285.10,636.76 L285.60,635.58 L286.10,634.75 L286.60,633.61 L287.10,631.85 L287.60,630.57 L288.10,628.66 L288.60,626.73 L289.10,624.49 L289.60,623.04 L290.10,621.83 L290.60,620.52 L291.10,620.05 L291.60,619.44 L292.10,618.07 L292.60,616.29 L293.10,615.15 L293.60,613.50 L294.10,612.12 L294.60,612.18 L295.10,611.97 L295.60,611.99 L296.10,611.70 L296.60,612.20 L297.10,611.34 L297.60,611.17 L298.10,610.60 L298.60,610.55 L299.10,610.52 L299.60,610.40 L300.10,610.43 L300.60,611.80 L301.10,612.15 L301.60,612.65 L302.10,614.95 L302.60,616.31 L303.10,617.45 L303.60,618.54 L304.10,619.81 L304.60,620.59 L305.10,621.85 L305.60,622.72 L306.10,624.58 L306.60,626.46 L307.10,628.25 L307.60,629.40 L308.10,631.39 L308.60,632.92 L309.10,634.43 L309.60,635.95 L310.10,637.19 L310.60,638.60 L311.10,639.81 L311.60,640.85 L312.10,641.77 L312.60,642.72 L313.10,643.53 L313.60,644.12 L314.10,644.75 L314.60,645.32 L315.10,645.89 L315.60,646.25 L316.10,646.71 L316.60,647.03 L317.10,647.30 L317.60,647.52 L318.10,647.71 L318.60,647.86 L319.10,647.98 L319.60,648.08 L320.10,648.15 L320.60,648.21 L321.10,648.26 L321.60,648.30 L322.10,648.32 L322.60,648.34 L323.10,648.36 L323.60,648.37 L324.10,648.38 L324.60,648.39 L325.10,648.39 L325.60,648.39 L326.10,648.40 L326.60,648.40 L327.10,648.40 L327.60,648.40 L328.10,648.40 L328.60,648.40 L329.10,648.40 L329.60,648.40 L330.10,648.40 L330.60,648.40 L331.10,648.40 L331.60,648.40 L332.10,648.40 L332.60,648.40 L333.10,648.40 L333.60,648.40 L334.10,648.40 L334.60,648.40 L335.10,648.40 L335.60,648.40 L336.10,648.40 L336.60,648.40 L337.10,648.40 L337.60,648.40 L338.10,648.40 L338.60,648.40 L339.10,648.40 L339.60,648.40 L340.10,648.40 L340.60,648.40 L341.10,648.40 L341.60,648.40 L342.10,648.40 L342.60,648.40 L343.10,648.40 L343.60,648.40 L344.10,648.40 L344.60,648.40 L345.10,648.40 L345.60,648.40 L346.10,648.40 L346.60,648.40 L347.10,648.40 L347.60,648.40 L348.10,648.40 L348.60,648.40 L349.10,648.40 L349.60,648.40 L350.10,648.40 L350.60,648.40 L351.10,648.40 L351.60,648.40 L352.10,648.40 L352.60,648.40 L353.10,648.40 L353.60,648.40 L354.10,648.40 L354.60,648.40 L355.10,648.40 L355.60,648.40 L356.10,648.40 L356.60,648.40 L357.10,648.40 L357.60,648.40 L357.90,648.40 L248.10,648.40 Z" fill="#55eefc" fill-opacity="0.5" stroke="none"/>
<path d="M276.10,647.71 L276.60,647.55 L277.10,647.35 L277.60,647.12 L278.10,646.85 L278.60,646.61 L279.10,646.25 L279.60,645.81 L280.10,645.21 L280.60,644.65 L281.10,644.01 L281.60,643.16 L282.10,642.41 L282.60,641.66 L283.10,640.81 L283.60,639.59 L284.10,638.77 L284.60,637.84 L285.10,636.76 L285.60,635.58 L286.10,634.75 L286.60,633.61 L287.10,631.85 L287.60,630.57 L288.10,628.66 L288.60,626.73 L289.10,624.49 L289.60,623.04 L290.10,621.83 L290.60,620.52 L291.10,620.05 L291.60,619.44 L292.10,618.07 L292.60,616.29 L293.10,615.15 L293.60,613.50 L294.10,612.12 L294.60,612.18 L295.10,611.97 L295.60,611.99 L296.10,611.70 L296.60,612.20 L297.10,611.34 L297.60,611.17 L298.10,610.60 L298.60,610.55 L299.10,610.52 L299.60,610.40 L300.10,610.43 L300.60,611.80 L301.10,612.15 L301.60,612.65 L302.10,614.95 L302.60,616.31 L303.10,617.45 L303.60,618.54 L304.10,619.81 L304.60,620.59 L305.10,621.85 L305.60,622.72 L306.10,624.58 L306.60,626.46 L307.10,628.25 L307.60,629.40 L308.10,631.39 L308.60,632.92 L309.10,634.43 L309.60,635.95 L310.10,637.19 L310.60,638.60 L311.10,639.81 L311.60,640.85 L312.10,641.77 L312.60,642.72 L313.10,643.53 L313.60,644.12 L314.10,644.75 L314.60,645.32 L315.10,645.89 L315.60,646.25 L316.10,646.71 L316.60,647.03 L317.10,647.30 L317.60,647.52 L318.10,647.71" fill="none" stroke="#52e2f4" stroke-width="0.8" stroke-opacity="0.85"/>
<line x1="248.10" y1="648.40" x2="357.90" y2="648.40" stroke="#52e2f4" stroke-width="0.6" stroke-opacity="0.4"/>
<path d="M248.10,670.50 L248.60,670.50 L249.10,670.50 L249.60,670.50 L250.10,670.50 L250.60,670.50 L251.10,670.50 L251.60,670.50 L252.10,670.50 L252.60,670.50 L253.10,670.50 L253.60,670.50 L254.10,670.50 L254.60,670.50 L255.10,670.50 L255.60,670.50 L256.10,670.50 L256.60,670.50 L257.10,670.50 L257.60,670.50 L258.10,670.50 L258.60,670.50 L259.10,670.50 L259.60,670.50 L260.10,670.50 L260.60,670.50 L261.10,670.50 L261.60,670.50 L262.10,670.50 L262.60,670.50 L263.10,670.50 L263.60,670.50 L264.10,670.50 L264.60,670.50 L265.10,670.50 L265.60,670.50 L266.10,670.50 L266.60,670.49 L267.10,670.49 L267.60,670.49 L268.10,670.49 L268.60,670.48 L269.10,670.48 L269.60,670.47 L270.10,670.46 L270.60,670.45 L271.10,670.44 L271.60,670.43 L272.10,670.41 L272.60,670.39 L273.10,670.36 L273.60,670.33 L274.10,670.29 L274.60,670.25 L275.10,670.19 L275.60,670.13 L276.10,670.06 L276.60,669.97 L277.10,669.87 L277.60,669.75 L278.10,669.61 L278.60,669.46 L279.10,669.28 L279.60,669.06 L280.10,668.87 L280.60,668.61 L281.10,668.28 L281.60,668.00 L282.10,667.70 L282.60,667.28 L283.10,666.87 L283.60,666.38 L284.10,665.84 L284.60,665.20 L285.10,664.64 L285.60,664.08 L286.10,663.58 L286.60,662.85 L287.10,662.23 L287.60,661.41 L288.10,660.42 L288.60,659.41 L289.10,658.72 L289.60,657.60 L290.10,656.55 L290.60,655.83 L291.10,654.75 L291.60,653.62 L292.10,653.16 L292.60,652.97 L293.10,651.80 L293.60,651.14 L294.10,650.13 L294.60,649.16 L295.10,648.34 L295.60,648.34 L296.10,647.73 L296.60,647.10 L297.10,645.87 L297.60,644.45 L298.10,643.25 L298.60,642.31 L299.10,642.70 L299.60,642.36 L300.10,642.44 L300.60,642.30 L301.10,642.59 L301.60,641.99 L302.10,642.47 L302.60,641.92 L303.10,641.58 L303.60,641.18 L304.10,641.00 L304.60,641.47 L305.10,642.08 L305.60,642.11 L306.10,643.08 L306.60,643.11 L307.10,642.73 L307.60,643.20 L308.10,644.52 L308.60,644.43 L309.10,645.29 L309.60,645.42 L310.10,646.40 L310.60,646.20 L311.10,647.01 L311.60,647.09 L312.10,648.01 L312.60,647.94 L313.10,648.79 L313.60,649.62 L314.10,650.68 L314.60,651.72 L315.10,652.98 L315.60,654.18 L316.10,655.46 L316.60,656.59 L317.10,657.59 L317.60,658.19 L318.10,659.12 L318.60,659.58 L319.10,660.22 L319.60,661.11 L320.10,661.97 L320.60,662.44 L321.10,663.16 L321.60,663.84 L322.10,664.49 L322.60,665.16 L323.10,665.84 L323.60,666.46 L324.10,666.96 L324.60,667.28 L325.10,667.61 L325.60,667.98 L326.10,668.25 L326.60,668.53 L327.10,668.85 L327.60,669.11 L328.10,669.26 L328.60,669.44 L329.10,669.60 L329.60,669.73 L330.10,669.85 L330.60,669.95 L331.10,670.04 L331.60,670.12 L332.10,670.18 L332.60,670.24 L333.10,670.28 L333.60,670.32 L334.10,670.36 L334.60,670.38 L335.10,670.41 L335.60,670.42 L336.10,670.44 L336.60,670.45 L337.10,670.46 L337.60,670.47 L338.10,670.48 L338.60,670.48 L339.10,670.49 L339.60,670.49 L340.10,670.49 L340.60,670.49 L341.10,670.50 L341.60,670.50 L342.10,670.50 L342.60,670.50 L343.10,670.50 L343.60,670.50 L344.10,670.50 L344.60,670.50 L345.10,670.50 L345.60,670.50 L346.10,670.50 L346.60,670.50 L347.10,670.50 L347.60,670.50 L348.10,670.50 L348.60,670.50 L349.10,670.50 L349.60,670.50 L350.10,670.50 L350.60,670.50 L351.10,670.50 L351.60,670.50 L352.10,670.50 L352.60,670.50 L353.10,670.50 L353.60,670.50 L354.10,670.50 L354.60,670.50 L355.10,670.50 L355.60,670.50 L356.10,670.50 L356.60,670.50 L357.10,670.50 L357.60,670.50 L357.90,670.50 L248.10,670.50 Z" fill="#e8aa66" fill-opacity="0.5" stroke="none"/>
<path d="M277.10,669.87 L277.60,669.75 L278.10,669.61 L278.60,669.46 L279.10,669.28 L279.60,669.06 L280.10,668.87 L280.60,668.61 L281.10,668.28 L281.60,668.00 L282.10,667.70 L282.60,667.28 L283.10,666.87 L283.60,666.38 L284.10,665.84 L284.60,665.20 L285.10,664.64 L285.60,664.08 L286.10,663.58 L286.60,662.85 L287.10,662.23 L287.60,661.41 L288.10,660.42 L288.60,659.41 L289.10,658.72 L289.60,657.60 L290.10,656.55 L290.60,655.83 L291.10,654.75 L291.60,653.62 L292.10,653.16 L292.60,652.97 L293.10,651.80 L293.60,651.14 L294.10,650.13 L294.60,649.16 L295.10,648.34 L295.60,648.34 L296.10,647.73 L296.60,647.10 L297.10,645.87 L297.60,644.45 L298.10,643.25 L298.60,642.31 L299.10,642.70 L299.60,642.36 L300.10,642.44 L300.60,642.30 L301.10,642.59 L301.60,641.99 L302.10,642.47 L302.60,641.92 L303.10,641.58 L303.60,641.18 L304.10,641.00 L304.60,641.47 L305.10,642.08 L305.60,642.11 L306.10,643.08 L306.60,643.11 L307.10,642.73 L307.60,643.20 L308.10,644.52 L308.60,644.43 L309.10,645.29 L309.60,645.42 L310.10,646.40 L310.60,646.20 L311.10,647.01 L311.60,647.09 L312.10,648.01 L312.60,647.94 L313.10,648.79 L313.60,649.62 L314.10,650.68 L314.60,651.72 L315.10,652.98 L315.60,654.18 L316.10,655.46 L316.60,656.59 L317.10,657.59 L317.60,658.19 L318.10,659.12 L318.60,659.58 L319.10,660.22 L319.60,661.11 L320.10,661.97 L320.60,662.44 L321.10,663.16 L321.60,663.84 L322.10,664.49 L322.60,665.16 L323.10,665.84 L323.60,666.46 L324.10,666.96 L324.60,667.28 L325.10,667.61 L325.60,667.98 L326.10,668.25 L326.60,668.53 L327.10,668.85 L327.60,669.11 L328.10,669.26 L328.60,669.44 L329.10,669.60 L329.60,669.73 L330.10,669.85" fill="none" stroke="#e6a05a" stroke-width="0.8" stroke-opacity="0.85"/>
<line x1="248.10" y1="670.50" x2="357.90" y2="670.50" stroke="#e6a05a" stroke-width="0.6" stroke-opacity="0.4"/>
<path d="M248.10,691.20 L248.60,691.20 L249.10,691.20 L249.60,691.20 L250.10,691.20 L250.60,691.20 L251.10,691.20 L251.60,691.20 L252.10,691.20 L252.60,691.20 L253.10,691.20 L253.60,691.20 L254.10,691.20 L254.60,691.20 L255.10,691.20 L255.60,691.20 L256.10,691.20 L256.60,691.20 L257.10,691.20 L257.60,691.20 L258.10,691.20 L258.60,691.20 L259.10,691.20 L259.60,691.20 L260.10,691.20 L260.60,691.20 L261.10,691.20 L261.60,691.20 L262.10,691.20 L262.60,691.20 L263.10,691.20 L263.60,691.20 L264.10,691.20 L264.60,691.20 L265.10,691.20 L265.60,691.20 L266.10,691.20 L266.60,691.20 L267.10,691.20 L267.60,691.20 L268.10,691.20 L268.60,691.20 L269.10,691.20 L269.60,691.20 L270.10,691.20 L270.60,691.19 L271.10,691.19 L271.60,691.19 L272.10,691.19 L272.60,691.18 L273.10,691.17 L273.60,691.16 L274.10,691.15 L274.60,691.14 L275.10,691.12 L275.60,691.09 L276.10,691.06 L276.60,691.02 L277.10,690.97 L277.60,690.90 L278.10,690.83 L278.60,690.74 L279.10,690.62 L279.60,690.49 L280.10,690.33 L280.60,690.14 L281.10,689.92 L281.60,689.66 L282.10,689.36 L282.60,689.02 L283.10,688.62 L283.60,688.17 L284.10,687.77 L284.60,687.25 L285.10,686.52 L285.60,685.85 L286.10,685.12 L286.60,684.09 L287.10,683.33 L287.60,682.67 L288.10,681.75 L288.60,680.73 L289.10,679.98 L289.60,678.87 L290.10,677.59 L290.60,676.61 L291.10,675.18 L291.60,674.06 L292.10,672.65 L292.60,671.27 L293.10,670.03 L293.60,668.78 L294.10,667.73 L294.60,666.78 L295.10,666.51 L295.60,665.57 L296.10,664.78 L296.60,664.22 L297.10,663.67 L297.60,662.41 L298.10,661.87 L298.60,661.26 L299.10,660.78 L299.60,659.77 L300.10,660.20 L300.60,659.43 L301.10,659.81 L301.60,659.77 L302.10,660.52 L302.60,659.38 L303.10,659.85 L303.60,659.16 L304.10,658.40 L304.60,658.62 L305.10,659.34 L305.60,660.87 L306.10,661.74 L306.60,663.51 L307.10,664.52 L307.60,665.61 L308.10,666.04 L308.60,667.43 L309.10,668.49 L309.60,669.61 L310.10,670.59 L310.60,672.30 L311.10,674.01 L311.60,674.98 L312.10,676.44 L312.60,678.09 L313.10,679.07 L313.60,680.17 L314.10,681.37 L314.60,681.96 L315.10,682.71 L315.60,683.75 L316.10,684.32 L316.60,685.03 L317.10,685.85 L317.60,686.71 L318.10,687.29 L318.60,687.99 L319.10,688.50 L319.60,688.94 L320.10,689.30 L320.60,689.57 L321.10,689.87 L321.60,690.11 L322.10,690.31 L322.60,690.48 L323.10,690.63 L323.60,690.74 L324.10,690.84 L324.60,690.92 L325.10,690.98 L325.60,691.03 L326.10,691.07 L326.60,691.10 L327.10,691.12 L327.60,691.14 L328.10,691.16 L328.60,691.17 L329.10,691.18 L329.60,691.18 L330.10,691.19 L330.60,691.19 L331.10,691.19 L331.60,691.20 L332.10,691.20 L332.60,691.20 L333.10,691.20 L333.60,691.20 L334.10,691.20 L334.60,691.20 L335.10,691.20 L335.60,691.20 L336.10,691.20 L336.60,691.20 L337.10,691.20 L337.60,691.20 L338.10,691.20 L338.60,691.20 L339.10,691.20 L339.60,691.20 L340.10,691.20 L340.60,691.20 L341.10,691.20 L341.60,691.20 L342.10,691.20 L342.60,691.20 L343.10,691.20 L343.60,691.20 L344.10,691.20 L344.60,691.20 L345.10,691.20 L345.60,691.20 L346.10,691.20 L346.60,691.20 L347.10,691.20 L347.60,691.20 L348.10,691.20 L348.60,691.20 L349.10,691.20 L349.60,691.20 L350.10,691.20 L350.60,691.20 L351.10,691.20 L351.60,691.20 L352.10,691.20 L352.60,691.20 L353.10,691.20 L353.60,691.20 L354.10,691.20 L354.60,691.20 L355.10,691.20 L355.60,691.20 L356.10,691.20 L356.60,691.20 L357.10,691.20 L357.60,691.20 L357.90,691.20 L248.10,691.20 Z" fill="#a8ff50" fill-opacity="0.55" stroke="none"/>
<path d="M279.60,690.49 L280.10,690.33 L280.60,690.14 L281.10,689.92 L281.60,689.66 L282.10,689.36 L282.60,689.02 L283.10,688.62 L283.60,688.17 L284.10,687.77 L284.60,687.25 L285.10,686.52 L285.60,685.85 L286.10,685.12 L286.60,684.09 L287.10,683.33 L287.60,682.67 L288.10,681.75 L288.60,680.73 L289.10,679.98 L289.60,678.87 L290.10,677.59 L290.60,676.61 L291.10,675.18 L291.60,674.06 L292.10,672.65 L292.60,671.27 L293.10,670.03 L293.60,668.78 L294.10,667.73 L294.60,666.78 L295.10,666.51 L295.60,665.57 L296.10,664.78 L296.60,664.22 L297.10,663.67 L297.60,662.41 L298.10,661.87 L298.60,661.26 L299.10,660.78 L299.60,659.77 L300.10,660.20 L300.60,659.43 L301.10,659.81 L301.60,659.77 L302.10,660.52 L302.60,659.38 L303.10,659.85 L303.60,659.16 L304.10,658.40 L304.60,658.62 L305.10,659.34 L305.60,660.87 L306.10,661.74 L306.60,663.51 L307.10,664.52 L307.60,665.61 L308.10,666.04 L308.60,667.43 L309.10,668.49 L309.60,669.61 L310.10,670.59 L310.60,672.30 L311.10,674.01 L311.60,674.98 L312.10,676.44 L312.60,678.09 L313.10,679.07 L313.60,680.17 L314.10,681.37 L314.60,681.96 L315.10,682.71 L315.60,683.75 L316.10,684.32 L316.60,685.03 L317.10,685.85 L317.60,686.71 L318.10,687.29 L318.60,687.99 L319.10,688.50 L319.60,688.94 L320.10,689.30 L320.60,689.57 L321.10,689.87 L321.60,690.11 L322.10,690.31 L322.60,690.48" fill="none" stroke="#88f028" stroke-width="0.8" stroke-opacity="0.85"/>
<line x1="248.10" y1="691.20" x2="357.90" y2="691.20" stroke="#88f028" stroke-width="0.6" stroke-opacity="0.4"/>
<line x1="300.60" y1="580.70" x2="300.60" y2="691.40" stroke="#222" stroke-width="0.9" stroke-dasharray="1.6 1.1"/>
<rect x="247.50" y="580.70" width="111.00" height="110.70" fill="none" stroke="#777" stroke-width="1.0"/>
<line x1="247.50" y1="691.40" x2="358.50" y2="691.40" stroke="#555" stroke-width="1.0"/>
<line x1="252.38" y1="691.40" x2="252.38" y2="692.90" stroke="#333" stroke-width="0.8"/>
<line x1="257.26" y1="691.40" x2="257.26" y2="692.90" stroke="#333" stroke-width="0.8"/>
<line x1="261.24" y1="691.40" x2="261.24" y2="692.90" stroke="#333" stroke-width="0.8"/>
<line x1="264.61" y1="691.40" x2="264.61" y2="692.90" stroke="#333" stroke-width="0.8"/>
<line x1="267.53" y1="691.40" x2="267.53" y2="692.90" stroke="#333" stroke-width="0.8"/>
<line x1="270.10" y1="691.40" x2="270.10" y2="692.90" stroke="#333" stroke-width="0.8"/>
<line x1="272.40" y1="691.40" x2="272.40" y2="694.00" stroke="#333" stroke-width="0.8"/>
<line x1="287.54" y1="691.40" x2="287.54" y2="692.90" stroke="#333" stroke-width="0.8"/>
<line x1="296.40" y1="691.40" x2="296.40" y2="692.90" stroke="#333" stroke-width="0.8"/>
<line x1="302.68" y1="691.40" x2="302.68" y2="692.90" stroke="#333" stroke-width="0.8"/>
<line x1="307.56" y1="691.40" x2="307.56" y2="692.90" stroke="#333" stroke-width="0.8"/>
<line x1="311.54" y1="691.40" x2="311.54" y2="692.90" stroke="#333" stroke-width="0.8"/>
<line x1="314.91" y1="691.40" x2="314.91" y2="692.90" stroke="#333" stroke-width="0.8"/>
<line x1="317.83" y1="691.40" x2="317.83" y2="692.90" stroke="#333" stroke-width="0.8"/>
<line x1="320.40" y1="691.40" x2="320.40" y2="692.90" stroke="#333" stroke-width="0.8"/>
<line x1="322.70" y1="691.40" x2="322.70" y2="694.00" stroke="#333" stroke-width="0.8"/>
<line x1="337.84" y1="691.40" x2="337.84" y2="692.90" stroke="#333" stroke-width="0.8"/>
<line x1="346.70" y1="691.40" x2="346.70" y2="692.90" stroke="#333" stroke-width="0.8"/>
<line x1="352.98" y1="691.40" x2="352.98" y2="692.90" stroke="#333" stroke-width="0.8"/>
<line x1="357.86" y1="691.40" x2="357.86" y2="692.90" stroke="#333" stroke-width="0.8"/>
<text x="272.80" y="704.60" font-size="5.4" text-anchor="middle" fill="#333" stroke="#333" stroke-width="0.108">10</text>
<text x="276.40" y="702.00" font-size="3.8" text-anchor="middle" fill="#333" stroke="#333" stroke-width="0.076">3</text>
<text x="323.10" y="704.60" font-size="5.4" text-anchor="middle" fill="#333" stroke="#333" stroke-width="0.108">10</text>
<text x="326.70" y="702.00" font-size="3.8" text-anchor="middle" fill="#333" stroke="#333" stroke-width="0.076">4</text>
<text x="303.00" y="716.90" font-size="10.2" text-anchor="middle" fill="#1a1a1a" stroke="#1a1a1a" stroke-width="0.204">Lipid ROS level (FITC)</text>
<text x="241.00" y="638.80" font-size="10" text-anchor="middle" fill="#1a1a1a" stroke="#1a1a1a" stroke-width="0.200" transform="rotate(-90 241.00 638.80)">Count</text>
<text x="362.00" y="621.90" font-size="10.15" text-anchor="start" fill="#1a1a1a" stroke="#1a1a1a" stroke-width="0.203">vector+vehicle</text>
<text x="362.00" y="645.50" font-size="10.15" text-anchor="start" fill="#1a1a1a" stroke="#1a1a1a" stroke-width="0.203">USP35+vehicle</text>
<text x="362.00" y="666.40" font-size="10.15" text-anchor="start" fill="#1a1a1a" stroke="#1a1a1a" stroke-width="0.203">vector+RSL3</text>
<text x="362.00" y="687.60" font-size="10.15" text-anchor="start" fill="#1a1a1a" stroke="#1a1a1a" stroke-width="0.203">USP35+RSL3</text>
<text x="256.70" y="740.60" font-size="10" text-anchor="start" fill="#1a1a1a" stroke="#1a1a1a" stroke-width="0.200">ZR-75-1</text>
<path d="M248.10,790.50 L248.60,790.50 L249.10,790.50 L249.60,790.50 L250.10,790.50 L250.60,790.50 L251.10,790.50 L251.60,790.50 L252.10,790.50 L252.60,790.50 L253.10,790.50 L253.60,790.50 L254.10,790.50 L254.60,790.50 L255.10,790.50 L255.60,790.50 L256.10,790.50 L256.60,790.50 L257.10,790.50 L257.60,790.50 L258.10,790.50 L258.60,790.50 L259.10,790.50 L259.60,790.50 L260.10,790.50 L260.60,790.50 L261.10,790.50 L261.60,790.50 L262.10,790.50 L262.60,790.50 L263.10,790.50 L263.60,790.50 L264.10,790.50 L264.60,790.50 L265.10,790.50 L265.60,790.50 L266.10,790.50 L266.60,790.50 L267.10,790.49 L267.60,790.49 L268.10,790.49 L268.60,790.49 L269.10,790.48 L269.60,790.48 L270.10,790.47 L270.60,790.46 L271.10,790.44 L271.60,790.42 L272.10,790.40 L272.60,790.37 L273.10,790.33 L273.60,790.28 L274.10,790.22 L274.60,790.15 L275.10,790.06 L275.60,789.96 L276.10,789.83 L276.60,789.67 L277.10,789.49 L277.60,789.27 L278.10,789.02 L278.60,788.72 L279.10,788.38 L279.60,787.97 L280.10,787.52 L280.60,787.05 L281.10,786.49 L281.60,785.71 L282.10,785.01 L282.60,784.14 L283.10,783.31 L283.60,782.50 L284.10,781.65 L284.60,780.49 L285.10,779.27 L285.60,777.87 L286.10,776.63 L286.60,775.28 L287.10,773.76 L287.60,772.72 L288.10,772.06 L288.60,770.24 L289.10,769.29 L289.60,767.88 L290.10,766.85 L290.60,765.50 L291.10,764.81 L291.60,763.19 L292.10,762.78 L292.60,760.79 L293.10,758.67 L293.60,757.89 L294.10,756.31 L294.60,754.81 L295.10,754.41 L295.60,753.93 L296.10,752.39 L296.60,752.38 L297.10,753.18 L297.60,752.97 L298.10,754.00 L298.60,753.64 L299.10,753.75 L299.60,752.81 L300.10,752.82 L300.60,752.30 L301.10,753.27 L301.60,753.89 L302.10,754.99 L302.60,756.01 L303.10,756.31 L303.60,757.43 L304.10,757.98 L304.60,757.91 L305.10,758.88 L305.60,760.82 L306.10,762.21 L306.60,763.49 L307.10,764.85 L307.60,765.61 L308.10,767.19 L308.60,768.13 L309.10,769.45 L309.60,771.18 L310.10,772.76 L310.60,774.18 L311.10,775.65 L311.60,777.15 L312.10,778.77 L312.60,779.99 L313.10,781.10 L313.60,782.21 L314.10,783.30 L314.60,784.07 L315.10,784.86 L315.60,785.59 L316.10,786.22 L316.60,786.72 L317.10,787.23 L317.60,787.82 L318.10,788.23 L318.60,788.68 L319.10,788.99 L319.60,789.26 L320.10,789.48 L320.60,789.67 L321.10,789.83 L321.60,789.97 L322.10,790.08 L322.60,790.16 L323.10,790.24 L323.60,790.30 L324.10,790.34 L324.60,790.38 L325.10,790.41 L325.60,790.43 L326.10,790.45 L326.60,790.46 L327.10,790.47 L327.60,790.48 L328.10,790.48 L328.60,790.49 L329.10,790.49 L329.60,790.49 L330.10,790.50 L330.60,790.50 L331.10,790.50 L331.60,790.50 L332.10,790.50 L332.60,790.50 L333.10,790.50 L333.60,790.50 L334.10,790.50 L334.60,790.50 L335.10,790.50 L335.60,790.50 L336.10,790.50 L336.60,790.50 L337.10,790.50 L337.60,790.50 L338.10,790.50 L338.60,790.50 L339.10,790.50 L339.60,790.50 L340.10,790.50 L340.60,790.50 L341.10,790.50 L341.60,790.50 L342.10,790.50 L342.60,790.50 L343.10,790.50 L343.60,790.50 L344.10,790.50 L344.60,790.50 L345.10,790.50 L345.60,790.50 L346.10,790.50 L346.60,790.50 L347.10,790.50 L347.60,790.50 L348.10,790.50 L348.60,790.50 L349.10,790.50 L349.60,790.50 L350.10,790.50 L350.60,790.50 L351.10,790.50 L351.60,790.50 L352.10,790.50 L352.60,790.50 L353.10,790.50 L353.60,790.50 L354.10,790.50 L354.60,790.50 L355.10,790.50 L355.60,790.50 L356.10,790.50 L356.60,790.50 L357.10,790.50 L357.60,790.50 L357.90,790.50 L248.10,790.50 Z" fill="#e45f5f" fill-opacity="0.5" stroke="none"/>
<path d="M276.10,789.83 L276.60,789.67 L277.10,789.49 L277.60,789.27 L278.10,789.02 L278.60,788.72 L279.10,788.38 L279.60,787.97 L280.10,787.52 L280.60,787.05 L281.10,786.49 L281.60,785.71 L282.10,785.01 L282.60,784.14 L283.10,783.31 L283.60,782.50 L284.10,781.65 L284.60,780.49 L285.10,779.27 L285.60,777.87 L286.10,776.63 L286.60,775.28 L287.10,773.76 L287.60,772.72 L288.10,772.06 L288.60,770.24 L289.10,769.29 L289.60,767.88 L290.10,766.85 L290.60,765.50 L291.10,764.81 L291.60,763.19 L292.10,762.78 L292.60,760.79 L293.10,758.67 L293.60,757.89 L294.10,756.31 L294.60,754.81 L295.10,754.41 L295.60,753.93 L296.10,752.39 L296.60,752.38 L297.10,753.18 L297.60,752.97 L298.10,754.00 L298.60,753.64 L299.10,753.75 L299.60,752.81 L300.10,752.82 L300.60,752.30 L301.10,753.27 L301.60,753.89 L302.10,754.99 L302.60,756.01 L303.10,756.31 L303.60,757.43 L304.10,757.98 L304.60,757.91 L305.10,758.88 L305.60,760.82 L306.10,762.21 L306.60,763.49 L307.10,764.85 L307.60,765.61 L308.10,767.19 L308.60,768.13 L309.10,769.45 L309.60,771.18 L310.10,772.76 L310.60,774.18 L311.10,775.65 L311.60,777.15 L312.10,778.77 L312.60,779.99 L313.10,781.10 L313.60,782.21 L314.10,783.30 L314.60,784.07 L315.10,784.86 L315.60,785.59 L316.10,786.22 L316.60,786.72 L317.10,787.23 L317.60,787.82 L318.10,788.23 L318.60,788.68 L319.10,788.99 L319.60,789.26 L320.10,789.48 L320.60,789.67 L321.10,789.83" fill="none" stroke="#e05a5a" stroke-width="0.8" stroke-opacity="0.85"/>
<line x1="248.10" y1="790.50" x2="357.90" y2="790.50" stroke="#e05a5a" stroke-width="0.6" stroke-opacity="0.4"/>
<path d="M248.10,812.50 L248.60,812.50 L249.10,812.50 L249.60,812.50 L250.10,812.50 L250.60,812.50 L251.10,812.50 L251.60,812.50 L252.10,812.50 L252.60,812.50 L253.10,812.50 L253.60,812.50 L254.10,812.50 L254.60,812.50 L255.10,812.50 L255.60,812.50 L256.10,812.50 L256.60,812.50 L257.10,812.50 L257.60,812.50 L258.10,812.50 L258.60,812.50 L259.10,812.50 L259.60,812.50 L260.10,812.50 L260.60,812.50 L261.10,812.50 L261.60,812.50 L262.10,812.50 L262.60,812.50 L263.10,812.50 L263.60,812.50 L264.10,812.50 L264.60,812.50 L265.10,812.50 L265.60,812.50 L266.10,812.50 L266.60,812.50 L267.10,812.50 L267.60,812.50 L268.10,812.50 L268.60,812.50 L269.10,812.50 L269.60,812.50 L270.10,812.50 L270.60,812.49 L271.10,812.49 L271.60,812.49 L272.10,812.48 L272.60,812.47 L273.10,812.46 L273.60,812.44 L274.10,812.42 L274.60,812.39 L275.10,812.35 L275.60,812.30 L276.10,812.23 L276.60,812.14 L277.10,812.03 L277.60,811.90 L278.10,811.72 L278.60,811.51 L279.10,811.26 L279.60,810.95 L280.10,810.64 L280.60,810.23 L281.10,809.64 L281.60,808.95 L282.10,808.23 L282.60,807.32 L283.10,806.63 L283.60,805.92 L284.10,805.10 L284.60,803.97 L285.10,802.68 L285.60,801.23 L286.10,799.72 L286.60,797.95 L287.10,796.33 L287.60,794.88 L288.10,793.49 L288.60,791.94 L289.10,790.75 L289.60,788.97 L290.10,787.06 L290.60,785.54 L291.10,783.20 L291.60,780.58 L292.10,779.31 L292.60,779.31 L293.10,776.94 L293.60,777.10 L294.10,778.03 L294.60,778.99 L295.10,778.95 L295.60,778.61 L296.10,777.93 L296.60,776.55 L297.10,776.08 L297.60,775.20 L298.10,775.54 L298.60,776.07 L299.10,775.95 L299.60,776.87 L300.10,776.90 L300.60,778.60 L301.10,778.73 L301.60,780.57 L302.10,780.15 L302.60,782.06 L303.10,782.71 L303.60,783.64 L304.10,784.38 L304.60,786.29 L305.10,787.60 L305.60,788.40 L306.10,789.89 L306.60,791.95 L307.10,793.36 L307.60,794.64 L308.10,795.97 L308.60,797.77 L309.10,798.54 L309.60,799.90 L310.10,801.12 L310.60,802.67 L311.10,803.38 L311.60,804.37 L312.10,805.28 L312.60,806.21 L313.10,806.96 L313.60,807.70 L314.10,808.53 L314.60,809.14 L315.10,809.66 L315.60,810.05 L316.10,810.53 L316.60,810.77 L317.10,811.07 L317.60,811.33 L318.10,811.54 L318.60,811.72 L319.10,811.88 L319.60,812.00 L320.10,812.10 L320.60,812.19 L321.10,812.26 L321.60,812.31 L322.10,812.35 L322.60,812.39 L323.10,812.42 L323.60,812.44 L324.10,812.45 L324.60,812.46 L325.10,812.47 L325.60,812.48 L326.10,812.49 L326.60,812.49 L327.10,812.49 L327.60,812.49 L328.10,812.50 L328.60,812.50 L329.10,812.50 L329.60,812.50 L330.10,812.50 L330.60,812.50 L331.10,812.50 L331.60,812.50 L332.10,812.50 L332.60,812.50 L333.10,812.50 L333.60,812.50 L334.10,812.50 L334.60,812.50 L335.10,812.50 L335.60,812.50 L336.10,812.50 L336.60,812.50 L337.10,812.50 L337.60,812.50 L338.10,812.50 L338.60,812.50 L339.10,812.50 L339.60,812.50 L340.10,812.50 L340.60,812.50 L341.10,812.50 L341.60,812.50 L342.10,812.50 L342.60,812.50 L343.10,812.50 L343.60,812.50 L344.10,812.50 L344.60,812.50 L345.10,812.50 L345.60,812.50 L346.10,812.50 L346.60,812.50 L347.10,812.50 L347.60,812.50 L348.10,812.50 L348.60,812.50 L349.10,812.50 L349.60,812.50 L350.10,812.50 L350.60,812.50 L351.10,812.50 L351.60,812.50 L352.10,812.50 L352.60,812.50 L353.10,812.50 L353.60,812.50 L354.10,812.50 L354.60,812.50 L355.10,812.50 L355.60,812.50 L356.10,812.50 L356.60,812.50 L357.10,812.50 L357.60,812.50 L357.90,812.50 L248.10,812.50 Z" fill="#55eefc" fill-opacity="0.5" stroke="none"/>
<path d="M277.60,811.90 L278.10,811.72 L278.60,811.51 L279.10,811.26 L279.60,810.95 L280.10,810.64 L280.60,810.23 L281.10,809.64 L281.60,808.95 L282.10,808.23 L282.60,807.32 L283.10,806.63 L283.60,805.92 L284.10,805.10 L284.60,803.97 L285.10,802.68 L285.60,801.23 L286.10,799.72 L286.60,797.95 L287.10,796.33 L287.60,794.88 L288.10,793.49 L288.60,791.94 L289.10,790.75 L289.60,788.97 L290.10,787.06 L290.60,785.54 L291.10,783.20 L291.60,780.58 L292.10,779.31 L292.60,779.31 L293.10,776.94 L293.60,777.10 L294.10,778.03 L294.60,778.99 L295.10,778.95 L295.60,778.61 L296.10,777.93 L296.60,776.55 L297.10,776.08 L297.60,775.20 L298.10,775.54 L298.60,776.07 L299.10,775.95 L299.60,776.87 L300.10,776.90 L300.60,778.60 L301.10,778.73 L301.60,780.57 L302.10,780.15 L302.60,782.06 L303.10,782.71 L303.60,783.64 L304.10,784.38 L304.60,786.29 L305.10,787.60 L305.60,788.40 L306.10,789.89 L306.60,791.95 L307.10,793.36 L307.60,794.64 L308.10,795.97 L308.60,797.77 L309.10,798.54 L309.60,799.90 L310.10,801.12 L310.60,802.67 L311.10,803.38 L311.60,804.37 L312.10,805.28 L312.60,806.21 L313.10,806.96 L313.60,807.70 L314.10,808.53 L314.60,809.14 L315.10,809.66 L315.60,810.05 L316.10,810.53 L316.60,810.77 L317.10,811.07 L317.60,811.33 L318.10,811.54 L318.60,811.72 L319.10,811.88" fill="none" stroke="#52e2f4" stroke-width="0.8" stroke-opacity="0.85"/>
<line x1="248.10" y1="812.50" x2="357.90" y2="812.50" stroke="#52e2f4" stroke-width="0.6" stroke-opacity="0.4"/>
<path d="M248.10,834.50 L248.60,834.50 L249.10,834.50 L249.60,834.50 L250.10,834.50 L250.60,834.50 L251.10,834.50 L251.60,834.50 L252.10,834.50 L252.60,834.50 L253.10,834.50 L253.60,834.50 L254.10,834.50 L254.60,834.50 L255.10,834.50 L255.60,834.50 L256.10,834.50 L256.60,834.50 L257.10,834.50 L257.60,834.50 L258.10,834.50 L258.60,834.50 L259.10,834.50 L259.60,834.50 L260.10,834.50 L260.60,834.50 L261.10,834.50 L261.60,834.50 L262.10,834.50 L262.60,834.50 L263.10,834.50 L263.60,834.50 L264.10,834.50 L264.60,834.50 L265.10,834.50 L265.60,834.50 L266.10,834.50 L266.60,834.50 L267.10,834.50 L267.60,834.50 L268.10,834.50 L268.60,834.50 L269.10,834.50 L269.60,834.50 L270.10,834.50 L270.60,834.50 L271.10,834.50 L271.60,834.50 L272.10,834.50 L272.60,834.50 L273.10,834.49 L273.60,834.49 L274.10,834.49 L274.60,834.48 L275.10,834.48 L275.60,834.47 L276.10,834.46 L276.60,834.44 L277.10,834.42 L277.60,834.40 L278.10,834.37 L278.60,834.33 L279.10,834.28 L279.60,834.22 L280.10,834.15 L280.60,834.06 L281.10,833.95 L281.60,833.82 L282.10,833.67 L282.60,833.48 L283.10,833.27 L283.60,833.01 L284.10,832.74 L284.60,832.39 L285.10,832.08 L285.60,831.69 L286.10,831.24 L286.60,830.78 L287.10,830.15 L287.60,829.46 L288.10,828.61 L288.60,827.55 L289.10,826.70 L289.60,825.85 L290.10,824.65 L290.60,823.64 L291.10,822.52 L291.60,821.21 L292.10,819.50 L292.60,818.83 L293.10,817.84 L293.60,816.58 L294.10,815.80 L294.60,814.89 L295.10,813.30 L295.60,811.46 L296.10,810.56 L296.60,808.78 L297.10,807.59 L297.60,807.18 L298.10,806.63 L298.60,806.20 L299.10,805.49 L299.60,805.53 L300.10,804.66 L300.60,804.54 L301.10,803.23 L301.60,803.01 L302.10,802.79 L302.60,801.80 L303.10,800.70 L303.60,801.56 L304.10,802.03 L304.60,802.10 L305.10,803.03 L305.60,803.59 L306.10,803.83 L306.60,803.01 L307.10,802.66 L307.60,803.17 L308.10,803.86 L308.60,804.57 L309.10,806.46 L309.60,807.57 L310.10,807.92 L310.60,808.36 L311.10,809.19 L311.60,809.52 L312.10,810.04 L312.60,811.41 L313.10,813.31 L313.60,814.37 L314.10,815.61 L314.60,817.59 L315.10,818.67 L315.60,819.93 L316.10,821.24 L316.60,822.39 L317.10,823.34 L317.60,824.30 L318.10,825.15 L318.60,826.10 L319.10,827.08 L319.60,827.72 L320.10,828.66 L320.60,829.47 L321.10,830.13 L321.60,830.70 L322.10,831.25 L322.60,831.69 L323.10,832.04 L323.60,832.35 L324.10,832.66 L324.60,833.00 L325.10,833.25 L325.60,833.46 L326.10,833.64 L326.60,833.80 L327.10,833.92 L327.60,834.03 L328.10,834.12 L328.60,834.20 L329.10,834.26 L329.60,834.31 L330.10,834.35 L330.60,834.38 L331.10,834.41 L331.60,834.43 L332.10,834.45 L332.60,834.46 L333.10,834.47 L333.60,834.48 L334.10,834.48 L334.60,834.49 L335.10,834.49 L335.60,834.49 L336.10,834.50 L336.60,834.50 L337.10,834.50 L337.60,834.50 L338.10,834.50 L338.60,834.50 L339.10,834.50 L339.60,834.50 L340.10,834.50 L340.60,834.50 L341.10,834.50 L341.60,834.50 L342.10,834.50 L342.60,834.50 L343.10,834.50 L343.60,834.50 L344.10,834.50 L344.60,834.50 L345.10,834.50 L345.60,834.50 L346.10,834.50 L346.60,834.50 L347.10,834.50 L347.60,834.50 L348.10,834.50 L348.60,834.50 L349.10,834.50 L349.60,834.50 L350.10,834.50 L350.60,834.50 L351.10,834.50 L351.60,834.50 L352.10,834.50 L352.60,834.50 L353.10,834.50 L353.60,834.50 L354.10,834.50 L354.60,834.50 L355.10,834.50 L355.60,834.50 L356.10,834.50 L356.60,834.50 L357.10,834.50 L357.60,834.50 L357.90,834.50 L248.10,834.50 Z" fill="#e8aa66" fill-opacity="0.5" stroke="none"/>
<path d="M281.60,833.82 L282.10,833.67 L282.60,833.48 L283.10,833.27 L283.60,833.01 L284.10,832.74 L284.60,832.39 L285.10,832.08 L285.60,831.69 L286.10,831.24 L286.60,830.78 L287.10,830.15 L287.60,829.46 L288.10,828.61 L288.60,827.55 L289.10,826.70 L289.60,825.85 L290.10,824.65 L290.60,823.64 L291.10,822.52 L291.60,821.21 L292.10,819.50 L292.60,818.83 L293.10,817.84 L293.60,816.58 L294.10,815.80 L294.60,814.89 L295.10,813.30 L295.60,811.46 L296.10,810.56 L296.60,808.78 L297.10,807.59 L297.60,807.18 L298.10,806.63 L298.60,806.20 L299.10,805.49 L299.60,805.53 L300.10,804.66 L300.60,804.54 L301.10,803.23 L301.60,803.01 L302.10,802.79 L302.60,801.80 L303.10,800.70 L303.60,801.56 L304.10,802.03 L304.60,802.10 L305.10,803.03 L305.60,803.59 L306.10,803.83 L306.60,803.01 L307.10,802.66 L307.60,803.17 L308.10,803.86 L308.60,804.57 L309.10,806.46 L309.60,807.57 L310.10,807.92 L310.60,808.36 L311.10,809.19 L311.60,809.52 L312.10,810.04 L312.60,811.41 L313.10,813.31 L313.60,814.37 L314.10,815.61 L314.60,817.59 L315.10,818.67 L315.60,819.93 L316.10,821.24 L316.60,822.39 L317.10,823.34 L317.60,824.30 L318.10,825.15 L318.60,826.10 L319.10,827.08 L319.60,827.72 L320.10,828.66 L320.60,829.47 L321.10,830.13 L321.60,830.70 L322.10,831.25 L322.60,831.69 L323.10,832.04 L323.60,832.35 L324.10,832.66 L324.60,833.00 L325.10,833.25 L325.60,833.46 L326.10,833.64 L326.60,833.80" fill="none" stroke="#e6a05a" stroke-width="0.8" stroke-opacity="0.85"/>
<line x1="248.10" y1="834.50" x2="357.90" y2="834.50" stroke="#e6a05a" stroke-width="0.6" stroke-opacity="0.4"/>
<path d="M248.10,855.60 L248.60,855.60 L249.10,855.60 L249.60,855.60 L250.10,855.60 L250.60,855.60 L251.10,855.60 L251.60,855.60 L252.10,855.60 L252.60,855.60 L253.10,855.60 L253.60,855.60 L254.10,855.60 L254.60,855.60 L255.10,855.60 L255.60,855.60 L256.10,855.60 L256.60,855.60 L257.10,855.60 L257.60,855.60 L258.10,855.60 L258.60,855.60 L259.10,855.60 L259.60,855.60 L260.10,855.60 L260.60,855.60 L261.10,855.60 L261.60,855.60 L262.10,855.60 L262.60,855.60 L263.10,855.60 L263.60,855.60 L264.10,855.60 L264.60,855.60 L265.10,855.60 L265.60,855.60 L266.10,855.60 L266.60,855.60 L267.10,855.60 L267.60,855.60 L268.10,855.60 L268.60,855.60 L269.10,855.60 L269.60,855.60 L270.10,855.59 L270.60,855.59 L271.10,855.59 L271.60,855.59 L272.10,855.58 L272.60,855.57 L273.10,855.56 L273.60,855.55 L274.10,855.53 L274.60,855.51 L275.10,855.48 L275.60,855.45 L276.10,855.40 L276.60,855.34 L277.10,855.27 L277.60,855.18 L278.10,855.08 L278.60,854.95 L279.10,854.79 L279.60,854.60 L280.10,854.37 L280.60,854.11 L281.10,853.86 L281.60,853.54 L282.10,853.16 L282.60,852.74 L283.10,852.13 L283.60,851.57 L284.10,850.80 L284.60,849.94 L285.10,849.19 L285.60,848.52 L286.10,847.59 L286.60,846.46 L287.10,845.55 L287.60,843.96 L288.10,842.62 L288.60,841.08 L289.10,840.19 L289.60,838.56 L290.10,837.82 L290.60,836.37 L291.10,835.03 L291.60,832.96 L292.10,831.78 L292.60,830.43 L293.10,828.49 L293.60,828.13 L294.10,827.91 L294.60,826.32 L295.10,824.75 L295.60,823.96 L296.10,821.98 L296.60,821.13 L297.10,820.57 L297.60,820.62 L298.10,821.17 L298.60,821.11 L299.10,820.10 L299.60,820.80 L300.10,820.72 L300.60,820.35 L301.10,821.00 L301.60,821.82 L302.10,821.38 L302.60,821.82 L303.10,821.59 L303.60,821.93 L304.10,821.78 L304.60,822.67 L305.10,823.35 L305.60,825.32 L306.10,826.83 L306.60,829.10 L307.10,830.31 L307.60,831.34 L308.10,832.21 L308.60,833.10 L309.10,833.50 L309.60,834.79 L310.10,836.11 L310.60,837.26 L311.10,838.90 L311.60,840.28 L312.10,841.67 L312.60,843.04 L313.10,844.65 L313.60,845.46 L314.10,846.61 L314.60,847.83 L315.10,848.91 L315.60,849.53 L316.10,850.37 L316.60,851.22 L317.10,851.77 L317.60,852.23 L318.10,852.74 L318.60,853.18 L319.10,853.57 L319.60,853.94 L320.10,854.23 L320.60,854.47 L321.10,854.68 L321.60,854.86 L322.10,855.00 L322.60,855.12 L323.10,855.22 L323.60,855.30 L324.10,855.37 L324.60,855.42 L325.10,855.46 L325.60,855.49 L326.10,855.52 L326.60,855.54 L327.10,855.56 L327.60,855.57 L328.10,855.58 L328.60,855.58 L329.10,855.59 L329.60,855.59 L330.10,855.59 L330.60,855.60 L331.10,855.60 L331.60,855.60 L332.10,855.60 L332.60,855.60 L333.10,855.60 L333.60,855.60 L334.10,855.60 L334.60,855.60 L335.10,855.60 L335.60,855.60 L336.10,855.60 L336.60,855.60 L337.10,855.60 L337.60,855.60 L338.10,855.60 L338.60,855.60 L339.10,855.60 L339.60,855.60 L340.10,855.60 L340.60,855.60 L341.10,855.60 L341.60,855.60 L342.10,855.60 L342.60,855.60 L343.10,855.60 L343.60,855.60 L344.10,855.60 L344.60,855.60 L345.10,855.60 L345.60,855.60 L346.10,855.60 L346.60,855.60 L347.10,855.60 L347.60,855.60 L348.10,855.60 L348.60,855.60 L349.10,855.60 L349.60,855.60 L350.10,855.60 L350.60,855.60 L351.10,855.60 L351.60,855.60 L352.10,855.60 L352.60,855.60 L353.10,855.60 L353.60,855.60 L354.10,855.60 L354.60,855.60 L355.10,855.60 L355.60,855.60 L356.10,855.60 L356.60,855.60 L357.10,855.60 L357.60,855.60 L357.90,855.60 L248.10,855.60 Z" fill="#a8ff50" fill-opacity="0.55" stroke="none"/>
<path d="M278.60,854.95 L279.10,854.79 L279.60,854.60 L280.10,854.37 L280.60,854.11 L281.10,853.86 L281.60,853.54 L282.10,853.16 L282.60,852.74 L283.10,852.13 L283.60,851.57 L284.10,850.80 L284.60,849.94 L285.10,849.19 L285.60,848.52 L286.10,847.59 L286.60,846.46 L287.10,845.55 L287.60,843.96 L288.10,842.62 L288.60,841.08 L289.10,840.19 L289.60,838.56 L290.10,837.82 L290.60,836.37 L291.10,835.03 L291.60,832.96 L292.10,831.78 L292.60,830.43 L293.10,828.49 L293.60,828.13 L294.10,827.91 L294.60,826.32 L295.10,824.75 L295.60,823.96 L296.10,821.98 L296.60,821.13 L297.10,820.57 L297.60,820.62 L298.10,821.17 L298.60,821.11 L299.10,820.10 L299.60,820.80 L300.10,820.72 L300.60,820.35 L301.10,821.00 L301.60,821.82 L302.10,821.38 L302.60,821.82 L303.10,821.59 L303.60,821.93 L304.10,821.78 L304.60,822.67 L305.10,823.35 L305.60,825.32 L306.10,826.83 L306.60,829.10 L307.10,830.31 L307.60,831.34 L308.10,832.21 L308.60,833.10 L309.10,833.50 L309.60,834.79 L310.10,836.11 L310.60,837.26 L311.10,838.90 L311.60,840.28 L312.10,841.67 L312.60,843.04 L313.10,844.65 L313.60,845.46 L314.10,846.61 L314.60,847.83 L315.10,848.91 L315.60,849.53 L316.10,850.37 L316.60,851.22 L317.10,851.77 L317.60,852.23 L318.10,852.74 L318.60,853.18 L319.10,853.57 L319.60,853.94 L320.10,854.23 L320.60,854.47 L321.10,854.68 L321.60,854.86" fill="none" stroke="#88f028" stroke-width="0.8" stroke-opacity="0.85"/>
<line x1="248.10" y1="855.60" x2="357.90" y2="855.60" stroke="#88f028" stroke-width="0.6" stroke-opacity="0.4"/>
<line x1="300.60" y1="744.80" x2="300.60" y2="856.10" stroke="#222" stroke-width="0.9" stroke-dasharray="1.6 1.1"/>
<rect x="247.50" y="744.80" width="111.00" height="111.30" fill="none" stroke="#777" stroke-width="1.0"/>
<line x1="247.50" y1="856.10" x2="358.50" y2="856.10" stroke="#555" stroke-width="1.0"/>
<line x1="253.22" y1="856.10" x2="253.22" y2="857.60" stroke="#333" stroke-width="0.8"/>
<line x1="258.04" y1="856.10" x2="258.04" y2="857.60" stroke="#333" stroke-width="0.8"/>
<line x1="261.97" y1="856.10" x2="261.97" y2="857.60" stroke="#333" stroke-width="0.8"/>
<line x1="265.30" y1="856.10" x2="265.30" y2="857.60" stroke="#333" stroke-width="0.8"/>
<line x1="268.18" y1="856.10" x2="268.18" y2="857.60" stroke="#333" stroke-width="0.8"/>
<line x1="270.73" y1="856.10" x2="270.73" y2="857.60" stroke="#333" stroke-width="0.8"/>
<line x1="273.00" y1="856.10" x2="273.00" y2="858.70" stroke="#333" stroke-width="0.8"/>
<line x1="287.96" y1="856.10" x2="287.96" y2="857.60" stroke="#333" stroke-width="0.8"/>
<line x1="296.71" y1="856.10" x2="296.71" y2="857.60" stroke="#333" stroke-width="0.8"/>
<line x1="302.92" y1="856.10" x2="302.92" y2="857.60" stroke="#333" stroke-width="0.8"/>
<line x1="307.74" y1="856.10" x2="307.74" y2="857.60" stroke="#333" stroke-width="0.8"/>
<line x1="311.67" y1="856.10" x2="311.67" y2="857.60" stroke="#333" stroke-width="0.8"/>
<line x1="315.00" y1="856.10" x2="315.00" y2="857.60" stroke="#333" stroke-width="0.8"/>
<line x1="317.88" y1="856.10" x2="317.88" y2="857.60" stroke="#333" stroke-width="0.8"/>
<line x1="320.43" y1="856.10" x2="320.43" y2="857.60" stroke="#333" stroke-width="0.8"/>
<line x1="322.70" y1="856.10" x2="322.70" y2="858.70" stroke="#333" stroke-width="0.8"/>
<line x1="337.66" y1="856.10" x2="337.66" y2="857.60" stroke="#333" stroke-width="0.8"/>
<line x1="346.41" y1="856.10" x2="346.41" y2="857.60" stroke="#333" stroke-width="0.8"/>
<line x1="352.62" y1="856.10" x2="352.62" y2="857.60" stroke="#333" stroke-width="0.8"/>
<line x1="357.44" y1="856.10" x2="357.44" y2="857.60" stroke="#333" stroke-width="0.8"/>
<text x="273.40" y="869.30" font-size="5.4" text-anchor="middle" fill="#333" stroke="#333" stroke-width="0.108">10</text>
<text x="277.00" y="866.70" font-size="3.8" text-anchor="middle" fill="#333" stroke="#333" stroke-width="0.076">3</text>
<text x="323.10" y="869.30" font-size="5.4" text-anchor="middle" fill="#333" stroke="#333" stroke-width="0.108">10</text>
<text x="326.70" y="866.70" font-size="3.8" text-anchor="middle" fill="#333" stroke="#333" stroke-width="0.076">4</text>
<text x="305.10" y="883.30" font-size="10.2" text-anchor="middle" fill="#1a1a1a" stroke="#1a1a1a" stroke-width="0.204">Lipid ROS level (FITC)</text>
<text x="241.00" y="794.40" font-size="10" text-anchor="middle" fill="#1a1a1a" stroke="#1a1a1a" stroke-width="0.200" transform="rotate(-90 241.00 794.40)">Count</text>
<text x="362.00" y="784.70" font-size="10.15" text-anchor="start" fill="#1a1a1a" stroke="#1a1a1a" stroke-width="0.203">vector+vehicle</text>
<text x="362.00" y="808.90" font-size="10.15" text-anchor="start" fill="#1a1a1a" stroke="#1a1a1a" stroke-width="0.203">USP35+vehicle</text>
<text x="362.00" y="829.70" font-size="10.15" text-anchor="start" fill="#1a1a1a" stroke="#1a1a1a" stroke-width="0.203">vector+RSL3</text>
<text x="362.00" y="851.60" font-size="10.15" text-anchor="start" fill="#1a1a1a" stroke="#1a1a1a" stroke-width="0.203">USP35+RSL3</text>
<line x1="492.70" y1="598.95" x2="492.70" y2="690.95" stroke="#111" stroke-width="1.3"/>
<line x1="488.70" y1="598.95" x2="492.70" y2="598.95" stroke="#111" stroke-width="1.3"/>
<text x="487.40" y="602.45" font-size="10" text-anchor="end" fill="#1a1a1a" stroke="#1a1a1a" stroke-width="0.200">15</text>
<line x1="488.70" y1="629.40" x2="492.70" y2="629.40" stroke="#111" stroke-width="1.3"/>
<text x="487.40" y="632.90" font-size="10" text-anchor="end" fill="#1a1a1a" stroke="#1a1a1a" stroke-width="0.200">10</text>
<line x1="488.70" y1="659.85" x2="492.70" y2="659.85" stroke="#111" stroke-width="1.3"/>
<text x="487.40" y="663.35" font-size="10" text-anchor="end" fill="#1a1a1a" stroke="#1a1a1a" stroke-width="0.200">5</text>
<line x1="488.70" y1="690.30" x2="492.70" y2="690.30" stroke="#111" stroke-width="1.3"/>
<text x="487.40" y="693.80" font-size="10" text-anchor="end" fill="#1a1a1a" stroke="#1a1a1a" stroke-width="0.200">0</text>
<line x1="492.05" y1="690.30" x2="587.00" y2="690.30" stroke="#111" stroke-width="1.3"/>
<line x1="516.80" y1="690.30" x2="516.80" y2="693.90" stroke="#111" stroke-width="1.3"/>
<line x1="565.90" y1="690.30" x2="565.90" y2="693.90" stroke="#111" stroke-width="1.3"/>
<path d="M502.00,690.30 V656.95 H513.00 V690.30" stroke="#111" stroke-width="1.7" fill="none" stroke-linejoin="miter"/>
<line x1="507.50" y1="655.10" x2="507.50" y2="656.60" stroke="#111" stroke-width="1.0"/>
<line x1="505.30" y1="655.10" x2="509.70" y2="655.10" stroke="#111" stroke-width="1.0"/>
<rect x="502.85" y="655.25" width="2.30" height="2.30" fill="#000"/>
<rect x="506.35" y="653.95" width="2.30" height="2.30" fill="#000"/>
<rect x="509.85" y="655.25" width="2.30" height="2.30" fill="#000"/>
<path d="M520.20,690.30 V678.25 H531.40 V690.30" stroke="#ff1a1a" stroke-width="1.7" fill="none" stroke-linejoin="miter"/>
<line x1="525.80" y1="675.40" x2="525.80" y2="678.40" stroke="#ff1a1a" stroke-width="1.0"/>
<line x1="523.60" y1="675.40" x2="528.00" y2="675.40" stroke="#ff1a1a" stroke-width="1.0"/>
<rect x="521.15" y="676.75" width="2.30" height="2.30" fill="#000"/>
<rect x="524.65" y="674.25" width="2.30" height="2.30" fill="#000"/>
<rect x="528.15" y="676.25" width="2.30" height="2.30" fill="#000"/>
<path d="M551.00,690.30 V629.35 H561.70 V690.30" stroke="#111" stroke-width="1.7" fill="none" stroke-linejoin="miter"/>
<line x1="556.35" y1="625.50" x2="556.35" y2="630.50" stroke="#111" stroke-width="1.0"/>
<line x1="554.15" y1="625.50" x2="558.55" y2="625.50" stroke="#111" stroke-width="1.0"/>
<line x1="554.15" y1="630.50" x2="558.55" y2="630.50" stroke="#111" stroke-width="1.0"/>
<rect x="555.20" y="624.35" width="2.30" height="2.30" fill="#000"/>
<rect x="551.70" y="627.65" width="2.30" height="2.30" fill="#000"/>
<rect x="558.70" y="627.35" width="2.30" height="2.30" fill="#000"/>
<path d="M569.40,690.30 V658.85 H580.50 V690.30" stroke="#ff1a1a" stroke-width="1.7" fill="none" stroke-linejoin="miter"/>
<line x1="574.95" y1="656.50" x2="574.95" y2="659.00" stroke="#ff1a1a" stroke-width="1.0"/>
<line x1="572.75" y1="656.50" x2="577.15" y2="656.50" stroke="#ff1a1a" stroke-width="1.0"/>
<rect x="570.30" y="657.35" width="2.30" height="2.30" fill="#000"/>
<rect x="573.80" y="655.35" width="2.30" height="2.30" fill="#000"/>
<rect x="577.30" y="656.85" width="2.30" height="2.30" fill="#000"/>
<path d="M506.60,633.90 V629.50 H525.00 V633.90" stroke="#333" stroke-width="0.95" fill="none"/>
<path d="M511.20,621.20L511.20,624.40M509.81,622.00L512.59,623.60M512.59,622.00L509.81,623.60M515.80,621.20L515.80,624.40M514.41,622.00L517.19,623.60M517.19,622.00L514.41,623.60M520.40,621.20L520.40,624.40M519.01,622.00L521.79,623.60M521.79,622.00L519.01,623.60" stroke="#111" stroke-width="1.05" fill="none" stroke-linecap="butt"/>
<path d="M508.00,621.40 V617.30 H554.40 V621.40" stroke="#333" stroke-width="0.95" fill="none"/>
<text x="530.50" y="613.10" font-size="7.0" text-anchor="middle" fill="#4a4a4a" stroke="#4a4a4a" stroke-width="0.140" font-style="italic">###</text>
<path d="M557.70,621.40 V617.30 H576.50 V621.40" stroke="#333" stroke-width="0.95" fill="none"/>
<path d="M562.50,609.60L562.50,612.80M561.11,610.40L563.89,612.00M563.89,610.40L561.11,612.00M567.10,609.60L567.10,612.80M565.71,610.40L568.49,612.00M568.49,610.40L565.71,612.00M571.70,609.60L571.70,612.80M570.31,610.40L573.09,612.00M573.09,610.40L570.31,612.00" stroke="#111" stroke-width="1.05" fill="none" stroke-linecap="butt"/>
<text x="516.50" y="703.50" font-size="10" text-anchor="middle" fill="#1a1a1a" stroke="#1a1a1a" stroke-width="0.200">vehicle</text>
<text x="565.50" y="703.50" font-size="10" text-anchor="middle" fill="#1a1a1a" stroke="#1a1a1a" stroke-width="0.200">RSL3</text>
<text x="473.60" y="641.20" font-size="10" text-anchor="middle" fill="#1a1a1a" stroke="#1a1a1a" stroke-width="0.200" transform="rotate(-90 473.60 641.20)">Lipid ROS positive (%)</text>
<rect x="589.05" y="602.85" width="8.20" height="5.60" fill="none" stroke="#111" stroke-width="1.7"/>
<text x="603.90" y="608.90" font-size="10" text-anchor="start" fill="#1a1a1a" stroke="#1a1a1a" stroke-width="0.200">vector</text>
<rect x="589.05" y="618.25" width="8.20" height="5.70" fill="none" stroke="#ff1a1a" stroke-width="1.7"/>
<text x="603.90" y="624.50" font-size="10" text-anchor="start" fill="#1a1a1a" stroke="#1a1a1a" stroke-width="0.200">USP35</text>
<line x1="492.70" y1="755.25" x2="492.70" y2="847.25" stroke="#111" stroke-width="1.3"/>
<line x1="488.70" y1="755.25" x2="492.70" y2="755.25" stroke="#111" stroke-width="1.3"/>
<text x="487.40" y="758.75" font-size="10" text-anchor="end" fill="#1a1a1a" stroke="#1a1a1a" stroke-width="0.200">15</text>
<line x1="488.70" y1="785.70" x2="492.70" y2="785.70" stroke="#111" stroke-width="1.3"/>
<text x="487.40" y="789.20" font-size="10" text-anchor="end" fill="#1a1a1a" stroke="#1a1a1a" stroke-width="0.200">10</text>
<line x1="488.70" y1="816.15" x2="492.70" y2="816.15" stroke="#111" stroke-width="1.3"/>
<text x="487.40" y="819.65" font-size="10" text-anchor="end" fill="#1a1a1a" stroke="#1a1a1a" stroke-width="0.200">5</text>
<line x1="488.70" y1="846.60" x2="492.70" y2="846.60" stroke="#111" stroke-width="1.3"/>
<text x="487.40" y="850.10" font-size="10" text-anchor="end" fill="#1a1a1a" stroke="#1a1a1a" stroke-width="0.200">0</text>
<line x1="492.05" y1="846.60" x2="587.00" y2="846.60" stroke="#111" stroke-width="1.3"/>
<line x1="516.80" y1="846.60" x2="516.80" y2="850.20" stroke="#111" stroke-width="1.3"/>
<line x1="565.90" y1="846.60" x2="565.90" y2="850.20" stroke="#111" stroke-width="1.3"/>
<path d="M502.00,846.60 V816.35 H513.00 V846.60" stroke="#111" stroke-width="1.7" fill="none" stroke-linejoin="miter"/>
<line x1="507.50" y1="814.00" x2="507.50" y2="816.00" stroke="#111" stroke-width="1.0"/>
<line x1="505.30" y1="814.00" x2="509.70" y2="814.00" stroke="#111" stroke-width="1.0"/>
<rect x="502.85" y="814.65" width="2.30" height="2.30" fill="#000"/>
<rect x="506.35" y="812.85" width="2.30" height="2.30" fill="#000"/>
<rect x="509.85" y="814.35" width="2.30" height="2.30" fill="#000"/>
<path d="M520.20,846.60 V826.95 H531.40 V846.60" stroke="#7d22b8" stroke-width="1.7" fill="none" stroke-linejoin="miter"/>
<line x1="525.80" y1="825.10" x2="525.80" y2="826.60" stroke="#7d22b8" stroke-width="1.0"/>
<line x1="523.60" y1="825.10" x2="528.00" y2="825.10" stroke="#7d22b8" stroke-width="1.0"/>
<rect x="521.15" y="825.45" width="2.30" height="2.30" fill="#000"/>
<rect x="524.65" y="824.95" width="2.30" height="2.30" fill="#000"/>
<rect x="528.15" y="824.45" width="2.30" height="2.30" fill="#000"/>
<path d="M551.00,846.60 V769.75 H561.70 V846.60" stroke="#111" stroke-width="1.7" fill="none" stroke-linejoin="miter"/>
<line x1="556.35" y1="762.90" x2="556.35" y2="772.90" stroke="#111" stroke-width="1.0"/>
<line x1="554.15" y1="762.90" x2="558.55" y2="762.90" stroke="#111" stroke-width="1.0"/>
<line x1="554.15" y1="772.90" x2="558.55" y2="772.90" stroke="#111" stroke-width="1.0"/>
<rect x="555.20" y="761.25" width="2.30" height="2.30" fill="#000"/>
<rect x="551.70" y="768.75" width="2.30" height="2.30" fill="#000"/>
<rect x="558.70" y="768.75" width="2.30" height="2.30" fill="#000"/>
<path d="M569.40,846.60 V815.35 H580.50 V846.60" stroke="#7d22b8" stroke-width="1.7" fill="none" stroke-linejoin="miter"/>
<line x1="574.95" y1="812.50" x2="574.95" y2="815.50" stroke="#7d22b8" stroke-width="1.0"/>
<line x1="572.75" y1="812.50" x2="577.15" y2="812.50" stroke="#7d22b8" stroke-width="1.0"/>
<rect x="570.30" y="814.35" width="2.30" height="2.30" fill="#000"/>
<rect x="573.80" y="811.85" width="2.30" height="2.30" fill="#000"/>
<rect x="577.30" y="813.85" width="2.30" height="2.30" fill="#000"/>
<path d="M506.60,772.60 V768.50 H525.00 V772.60" stroke="#333" stroke-width="0.95" fill="none"/>
<path d="M513.50,760.20L513.50,763.40M512.11,761.00L514.89,762.60M514.89,761.00L512.11,762.60M518.10,760.20L518.10,763.40M516.71,761.00L519.49,762.60M519.49,761.00L516.71,762.60" stroke="#111" stroke-width="1.05" fill="none" stroke-linecap="butt"/>
<path d="M506.60,759.90 V755.40 H554.40 V759.90" stroke="#333" stroke-width="0.95" fill="none"/>
<text x="530.50" y="751.00" font-size="7.0" text-anchor="middle" fill="#4a4a4a" stroke="#4a4a4a" stroke-width="0.140" font-style="italic">###</text>
<path d="M557.70,759.90 V755.40 H574.40 V759.90" stroke="#333" stroke-width="0.95" fill="none"/>
<path d="M561.45,747.90L561.45,751.10M560.06,748.70L562.84,750.30M562.84,748.70L560.06,750.30M566.05,747.90L566.05,751.10M564.66,748.70L567.44,750.30M567.44,748.70L564.66,750.30M570.65,747.90L570.65,751.10M569.26,748.70L572.04,750.30M572.04,748.70L569.26,750.30" stroke="#111" stroke-width="1.05" fill="none" stroke-linecap="butt"/>
<text x="516.50" y="860.10" font-size="10" text-anchor="middle" fill="#1a1a1a" stroke="#1a1a1a" stroke-width="0.200">vehicle</text>
<text x="565.50" y="860.10" font-size="10" text-anchor="middle" fill="#1a1a1a" stroke="#1a1a1a" stroke-width="0.200">RSL3</text>
<text x="473.60" y="798.00" font-size="10" text-anchor="middle" fill="#1a1a1a" stroke="#1a1a1a" stroke-width="0.200" transform="rotate(-90 473.60 798.00)">Lipid ROS positive (%)</text>
<rect x="588.75" y="754.95" width="8.20" height="5.80" fill="none" stroke="#111" stroke-width="1.7"/>
<text x="603.40" y="761.00" font-size="10" text-anchor="start" fill="#1a1a1a" stroke="#1a1a1a" stroke-width="0.200">vector</text>
<rect x="588.75" y="769.75" width="8.20" height="6.20" fill="none" stroke="#7d22b8" stroke-width="1.7"/>
<text x="603.40" y="776.30" font-size="10" text-anchor="start" fill="#1a1a1a" stroke="#1a1a1a" stroke-width="0.200">USP35</text>
</svg>
</body></html>
